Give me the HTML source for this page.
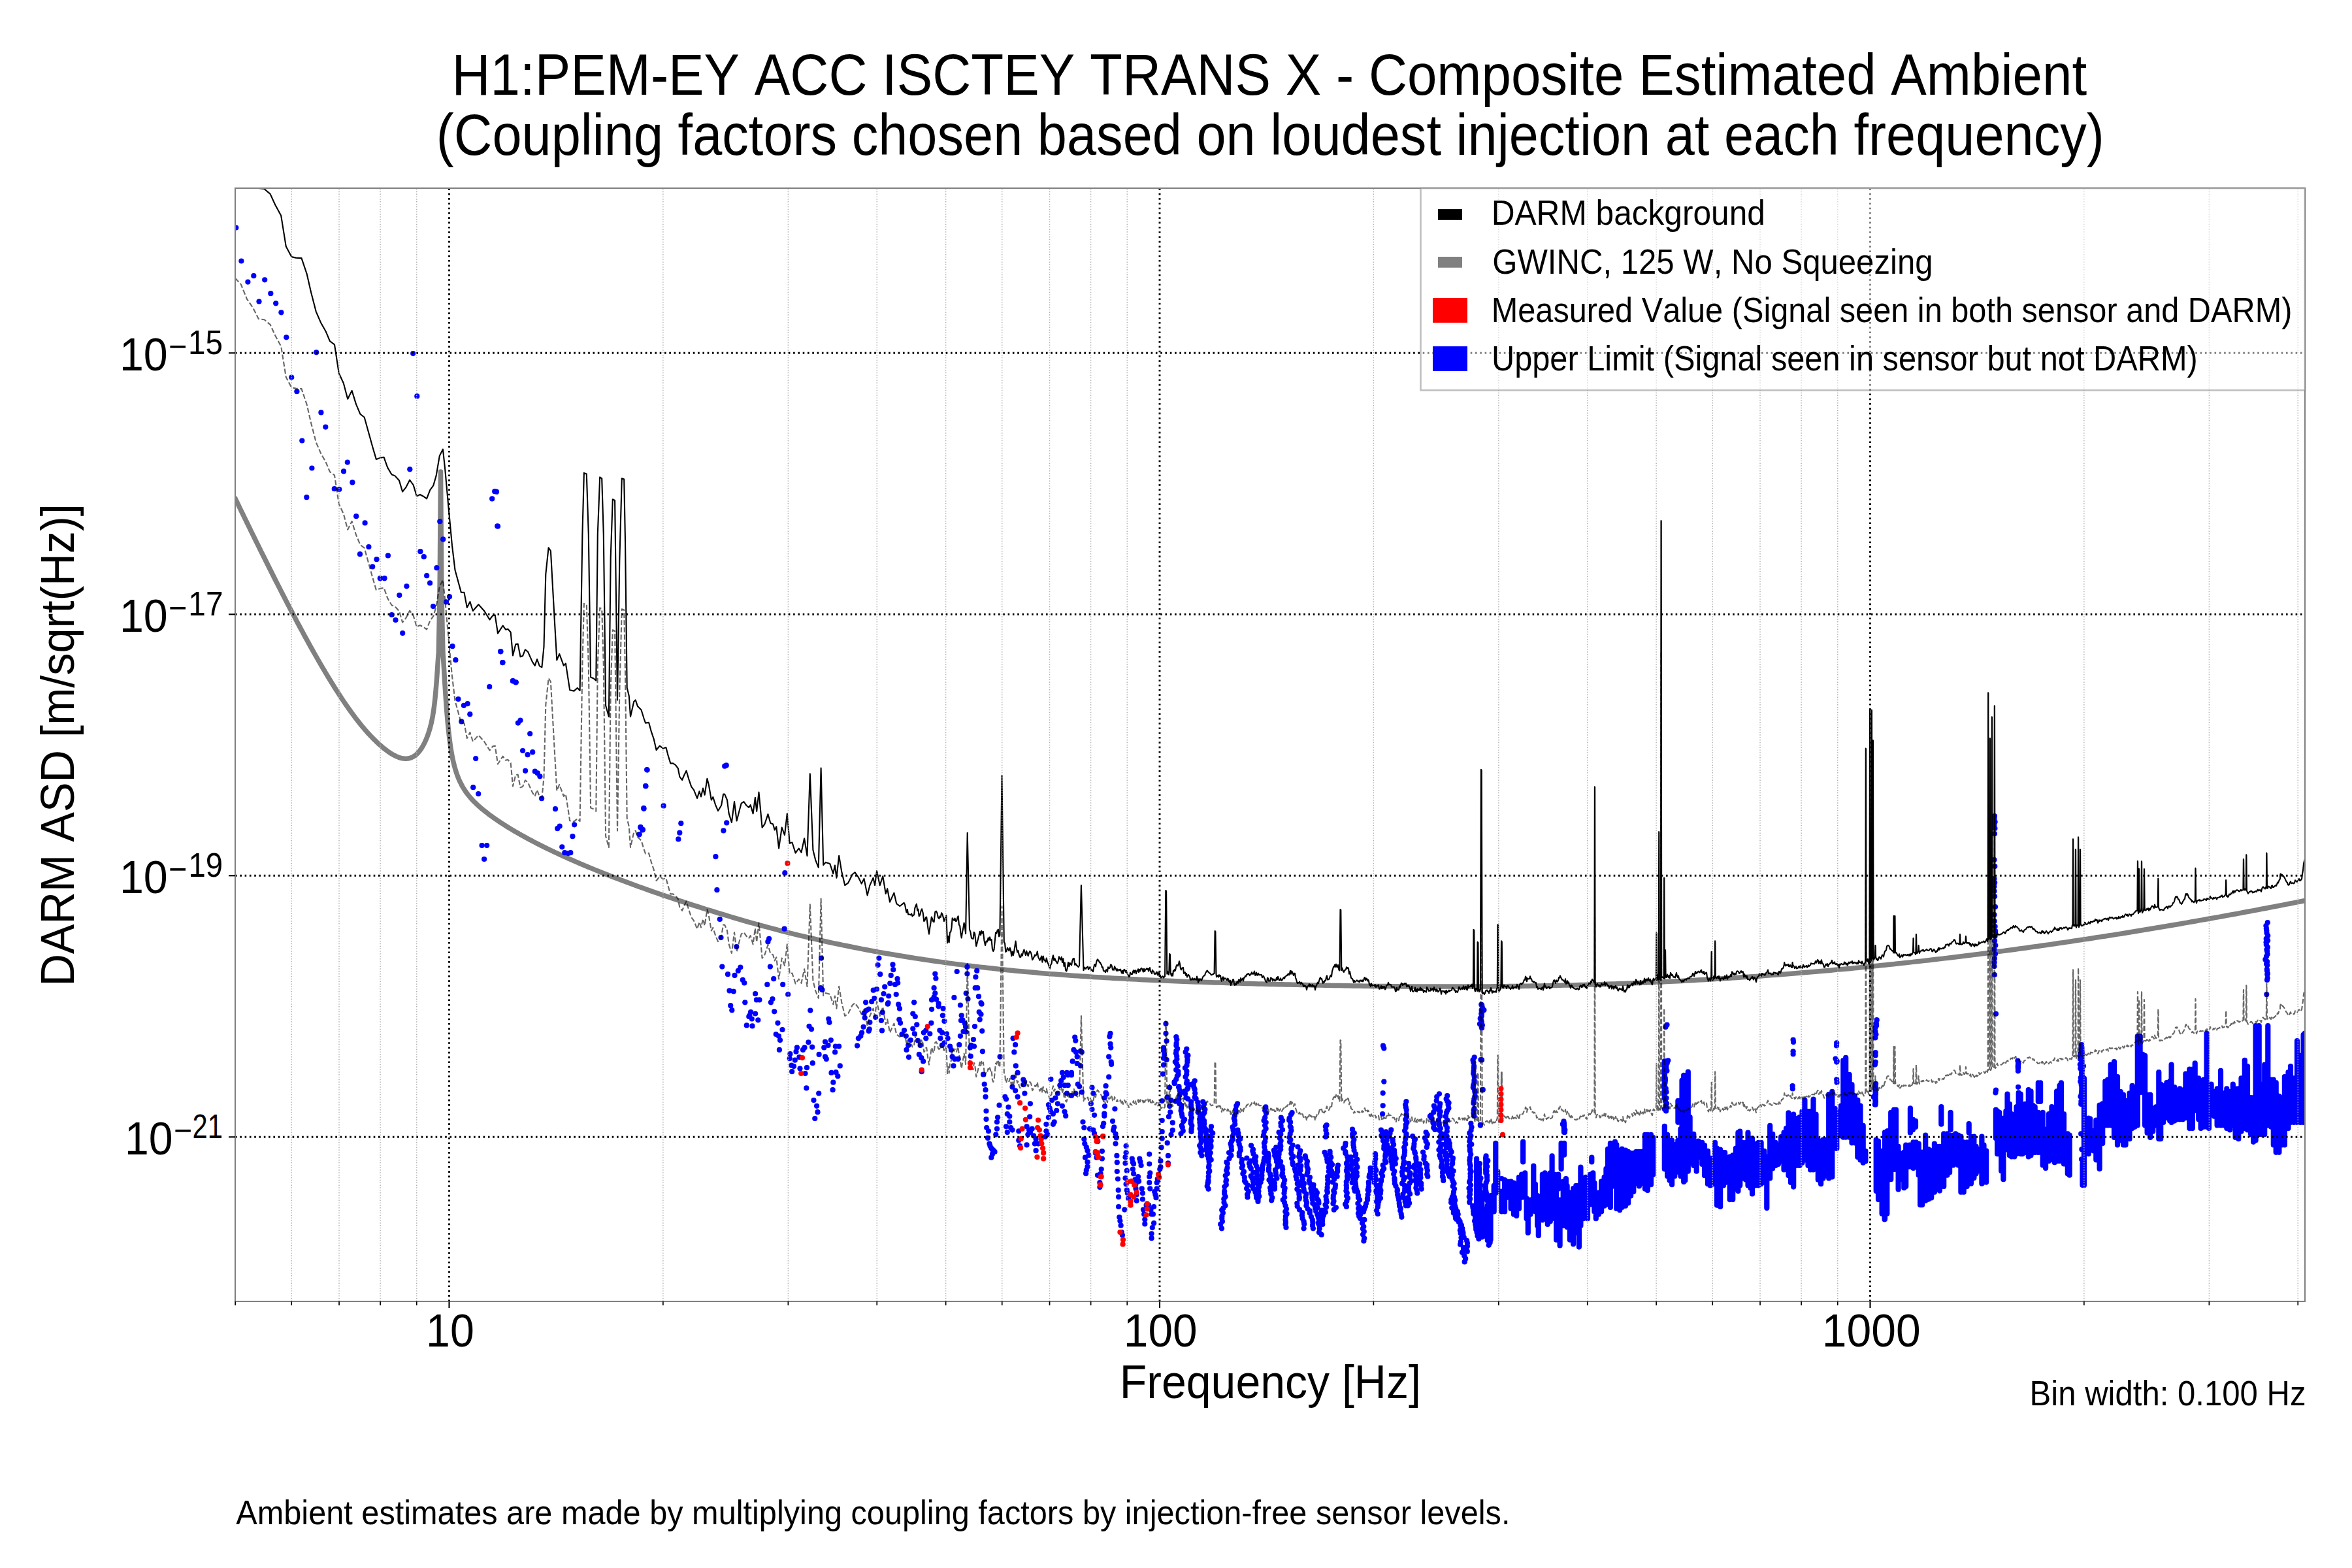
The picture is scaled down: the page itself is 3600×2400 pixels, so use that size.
<!DOCTYPE html><html><head><meta charset="utf-8"><title>H1:PEM-EY ACC ISCTEY TRANS X - Composite Estimated Ambient</title>
<style>html,body{margin:0;padding:0;background:#fff;overflow:hidden}svg{display:block;font-kerning:none}</style></head><body>
<svg width="3600" height="2400" viewBox="0 0 3600 2400" font-family="'Liberation Sans', Arial, Helvetica, sans-serif">
<rect width="3600" height="2400" fill="#fff"/>
<clipPath id="ax"><rect x="360" y="288" width="3168" height="1704"/></clipPath>
<g clip-path="url(#ax)">
<path d="M360.0,762.9 L362.0,767.1 L364.0,771.2 L366.0,775.3 L368.0,779.5 L370.0,783.6 L372.0,787.7 L374.0,791.8 L376.0,795.9 L378.0,800.0 L380.0,804.1 L382.0,808.2 L384.0,812.3 L386.0,816.4 L388.0,820.4 L390.0,824.5 L392.0,828.6 L394.0,832.6 L396.0,836.7 L398.0,840.7 L400.0,844.8 L402.0,848.8 L404.0,852.8 L406.0,856.8 L408.0,860.8 L410.0,864.8 L412.0,868.8 L414.0,872.8 L416.0,876.8 L418.0,880.8 L420.0,884.7 L422.0,888.7 L424.0,892.6 L426.0,896.5 L428.0,900.4 L430.0,904.4 L432.0,908.3 L434.0,912.1 L436.0,916.0 L438.0,919.9 L440.0,923.7 L442.0,927.6 L444.0,931.4 L446.0,935.2 L448.0,939.1 L450.0,942.8 L452.0,946.6 L454.0,950.4 L456.0,954.2 L458.0,957.9 L460.0,961.6 L462.0,965.3 L464.0,969.0 L466.0,972.7 L468.0,976.4 L470.0,980.0 L472.0,983.6 L474.0,987.3 L476.0,990.8 L478.0,994.4 L480.0,998.0 L482.0,1001.5 L484.0,1005.0 L486.0,1008.5 L488.0,1012.0 L490.0,1015.5 L492.0,1018.9 L494.0,1022.3 L496.0,1025.7 L498.0,1029.1 L500.0,1032.4 L502.0,1035.7 L504.0,1039.0 L506.0,1042.3 L508.0,1045.5 L510.0,1048.8 L512.0,1052.0 L514.0,1055.1 L516.0,1058.2 L518.0,1061.3 L520.0,1064.4 L522.0,1067.5 L524.0,1070.5 L526.0,1073.5 L528.0,1076.4 L530.0,1079.3 L532.0,1082.2 L534.0,1085.0 L536.0,1087.8 L538.0,1090.6 L540.0,1093.3 L542.0,1096.0 L544.0,1098.7 L546.0,1101.3 L548.0,1103.9 L550.0,1106.4 L552.0,1108.9 L554.0,1111.3 L556.0,1113.7 L558.0,1116.1 L560.0,1118.4 L562.0,1120.7 L564.0,1122.9 L566.0,1125.0 L568.0,1127.2 L570.0,1129.2 L572.0,1131.3 L574.0,1133.2 L576.0,1135.2 L578.0,1137.1 L580.0,1138.9 L582.0,1140.7 L584.0,1142.4 L586.0,1144.1 L588.0,1145.7 L590.0,1147.3 L592.0,1148.8 L594.0,1150.3 L596.0,1151.6 L598.0,1153.0 L600.0,1154.2 L602.0,1155.4 L604.0,1156.4 L606.0,1157.4 L608.0,1158.3 L610.0,1159.1 L612.0,1159.8 L614.0,1160.3 L616.0,1160.8 L618.0,1161.1 L620.0,1161.2 L622.0,1161.2 L624.0,1161.1 L626.0,1160.7 L628.0,1160.2 L630.0,1159.5 L632.0,1158.5 L634.0,1157.3 L636.0,1155.9 L638.0,1154.2 L640.0,1152.1 L642.0,1149.8 L644.0,1147.1 L646.0,1144.0 L648.0,1140.5 L650.0,1136.6 L652.0,1132.2 L654.0,1127.3 L656.0,1121.7 L658.0,1115.2 L660.0,1107.4 L660.5,1105.2 L661.0,1102.8 L661.5,1100.3 L662.0,1097.7 L662.5,1094.9 L663.0,1091.9 L663.5,1088.7 L664.0,1085.2 L664.5,1081.4 L665.0,1077.4 L665.5,1073.0 L666.0,1068.3 L666.5,1063.2 L667.0,1057.7 L667.5,1051.9 L668.0,1045.7 L668.5,1039.0 L669.0,1032.0 L669.5,1024.7 L670.0,1017.1 L670.5,1009.5 L671.0,1002.3 L671.3,1000.0 L672.3,950.0 L673.2,891.0 L673.9,800.0 L674.5,722.0 L675.1,800.0 L675.8,891.0 L676.8,950.0 L678.0,1000.0 L678.5,1006.6 L679.0,1014.6 L679.5,1023.0 L680.0,1031.5 L680.5,1040.0 L681.0,1048.2 L681.5,1056.1 L682.0,1063.7 L682.5,1071.0 L683.0,1078.0 L683.5,1084.6 L684.0,1090.9 L684.5,1096.8 L685.0,1102.5 L685.5,1107.9 L686.0,1113.0 L686.5,1117.8 L687.0,1122.4 L687.5,1126.7 L688.0,1130.9 L688.5,1134.8 L689.0,1138.5 L689.5,1142.0 L690.0,1145.3 L690.5,1148.5 L691.0,1151.4 L691.5,1154.3 L692.0,1156.9 L692.5,1159.5 L693.0,1161.9 L693.5,1164.2 L694.0,1166.4 L694.5,1168.5 L695.0,1170.5 L695.5,1172.5 L696.0,1174.3 L696.5,1176.1 L697.0,1177.8 L697.5,1179.4 L698.0,1181.0 L698.5,1182.6 L699.0,1184.0 L699.5,1185.5 L700.0,1186.8 L702.0,1191.9 L704.0,1196.4 L706.0,1200.4 L708.0,1204.1 L710.0,1207.4 L712.0,1210.5 L714.0,1213.4 L716.0,1216.0 L718.0,1218.5 L720.0,1220.9 L722.0,1223.2 L724.0,1225.3 L726.0,1227.4 L728.0,1229.3 L730.0,1231.2 L732.0,1233.1 L734.0,1234.8 L736.0,1236.6 L738.0,1238.3 L740.0,1239.9 L742.0,1241.5 L744.0,1243.1 L746.0,1244.6 L748.0,1246.2 L750.0,1247.7 L752.0,1249.1 L754.0,1250.6 L756.0,1252.0 L758.0,1253.4 L760.0,1254.8 L762.0,1256.1 L764.0,1257.5 L766.0,1258.8 L768.0,1260.1 L770.0,1261.4 L772.0,1262.7 L774.0,1264.0 L776.0,1265.2 L778.0,1266.5 L780.0,1267.7 L782.0,1268.9 L784.0,1270.1 L786.0,1271.3 L788.0,1272.5 L790.0,1273.6 L792.0,1274.8 L794.0,1275.9 L796.0,1277.1 L798.0,1278.2 L800.0,1279.3 L802.0,1280.4 L804.0,1281.5 L806.0,1282.6 L808.0,1283.7 L810.0,1284.8 L812.0,1285.8 L814.0,1286.9 L816.0,1288.0 L818.0,1289.0 L820.0,1290.0 L822.0,1291.1 L824.0,1292.1 L826.0,1293.1 L828.0,1294.1 L830.0,1295.1 L832.0,1296.1 L834.0,1297.1 L836.0,1298.1 L838.0,1299.1 L840.0,1300.0 L842.0,1301.0 L844.0,1302.0 L846.0,1302.9 L848.0,1303.9 L850.0,1304.8 L852.0,1305.7 L854.0,1306.7 L856.0,1307.6 L858.0,1308.5 L860.0,1309.5 L862.0,1310.4 L864.0,1311.3 L866.0,1312.2 L868.0,1313.1 L870.0,1314.0 L872.0,1314.9 L874.0,1315.8 L876.0,1316.6 L878.0,1317.5 L880.0,1318.4 L882.0,1319.3 L884.0,1320.1 L886.0,1321.0 L888.0,1321.9 L890.0,1322.7 L892.0,1323.6 L894.0,1324.4 L896.0,1325.3 L898.0,1326.1 L900.0,1326.9 L906.0,1329.4 L912.0,1331.9 L918.0,1334.3 L924.0,1336.7 L930.0,1339.1 L936.0,1341.4 L942.0,1343.8 L948.0,1346.0 L954.0,1348.3 L960.0,1350.6 L966.0,1352.8 L972.0,1355.0 L978.0,1357.2 L984.0,1359.3 L990.0,1361.5 L996.0,1363.6 L1002.0,1365.7 L1008.0,1367.8 L1014.0,1369.9 L1020.0,1371.9 L1026.0,1373.9 L1032.0,1376.0 L1038.0,1378.0 L1044.0,1379.9 L1050.0,1381.9 L1056.0,1383.9 L1062.0,1385.8 L1068.0,1387.7 L1074.0,1389.6 L1080.0,1391.5 L1086.0,1393.4 L1092.0,1395.2 L1098.0,1397.1 L1104.0,1398.9 L1110.0,1400.7 L1116.0,1402.5 L1122.0,1404.3 L1128.0,1406.1 L1134.0,1407.8 L1140.0,1409.6 L1146.0,1411.3 L1152.0,1413.0 L1158.0,1414.6 L1164.0,1416.3 L1170.0,1417.9 L1176.0,1419.5 L1182.0,1421.1 L1188.0,1422.7 L1194.0,1424.3 L1200.0,1425.8 L1206.0,1427.3 L1212.0,1428.8 L1218.0,1430.3 L1224.0,1431.8 L1230.0,1433.2 L1236.0,1434.6 L1242.0,1436.0 L1248.0,1437.4 L1254.0,1438.8 L1260.0,1440.1 L1266.0,1441.5 L1272.0,1442.8 L1278.0,1444.1 L1284.0,1445.3 L1290.0,1446.6 L1296.0,1447.8 L1302.0,1449.0 L1308.0,1450.2 L1314.0,1451.4 L1320.0,1452.6 L1326.0,1453.7 L1332.0,1454.9 L1338.0,1456.0 L1344.0,1457.1 L1350.0,1458.2 L1356.0,1459.2 L1362.0,1460.3 L1368.0,1461.3 L1374.0,1462.3 L1380.0,1463.3 L1386.0,1464.3 L1392.0,1465.2 L1398.0,1466.2 L1404.0,1467.1 L1410.0,1468.0 L1416.0,1469.0 L1422.0,1469.8 L1428.0,1470.7 L1434.0,1471.6 L1440.0,1472.4 L1446.0,1473.2 L1452.0,1474.1 L1458.0,1474.9 L1464.0,1475.7 L1470.0,1476.4 L1476.0,1477.2 L1482.0,1477.9 L1488.0,1478.7 L1494.0,1479.4 L1500.0,1480.1 L1506.0,1480.8 L1512.0,1481.5 L1518.0,1482.1 L1524.0,1482.8 L1530.0,1483.4 L1536.0,1484.0 L1542.0,1484.7 L1548.0,1485.3 L1554.0,1485.9 L1560.0,1486.4 L1566.0,1487.0 L1572.0,1487.6 L1578.0,1488.1 L1584.0,1488.6 L1590.0,1489.2 L1596.0,1489.7 L1602.0,1490.2 L1608.0,1490.7 L1614.0,1491.1 L1620.0,1491.6 L1626.0,1492.1 L1632.0,1492.5 L1638.0,1492.9 L1644.0,1493.4 L1650.0,1493.8 L1656.0,1494.2 L1662.0,1494.6 L1668.0,1495.0 L1674.0,1495.4 L1680.0,1495.7 L1686.0,1496.1 L1692.0,1496.5 L1698.0,1496.8 L1704.0,1497.2 L1710.0,1497.5 L1716.0,1497.8 L1722.0,1498.1 L1728.0,1498.5 L1734.0,1498.8 L1740.0,1499.1 L1746.0,1499.4 L1752.0,1499.7 L1758.0,1499.9 L1764.0,1500.2 L1770.0,1500.5 L1776.0,1500.7 L1782.0,1501.0 L1788.0,1501.3 L1794.0,1501.5 L1800.0,1501.8 L1806.0,1502.0 L1812.0,1502.2 L1818.0,1502.5 L1824.0,1502.7 L1830.0,1502.9 L1836.0,1503.1 L1842.0,1503.3 L1848.0,1503.5 L1854.0,1503.7 L1860.0,1503.9 L1866.0,1504.1 L1872.0,1504.3 L1878.0,1504.5 L1884.0,1504.7 L1890.0,1504.9 L1896.0,1505.1 L1902.0,1505.2 L1908.0,1505.4 L1914.0,1505.6 L1920.0,1505.7 L1926.0,1505.9 L1932.0,1506.0 L1938.0,1506.2 L1944.0,1506.4 L1950.0,1506.5 L1956.0,1506.7 L1962.0,1506.8 L1968.0,1506.9 L1974.0,1507.1 L1980.0,1507.2 L1986.0,1507.3 L1992.0,1507.5 L1998.0,1507.6 L2004.0,1507.7 L2010.0,1507.9 L2016.0,1508.0 L2022.0,1508.1 L2028.0,1508.2 L2034.0,1508.3 L2040.0,1508.4 L2046.0,1508.5 L2052.0,1508.6 L2058.0,1508.7 L2064.0,1508.8 L2070.0,1508.9 L2076.0,1509.0 L2082.0,1509.1 L2088.0,1509.2 L2094.0,1509.3 L2100.0,1509.4 L2106.0,1509.4 L2112.0,1509.5 L2118.0,1509.6 L2124.0,1509.6 L2130.0,1509.7 L2136.0,1509.8 L2142.0,1509.8 L2148.0,1509.9 L2154.0,1509.9 L2160.0,1509.9 L2166.0,1510.0 L2172.0,1510.0 L2178.0,1510.0 L2184.0,1510.1 L2190.0,1510.1 L2196.0,1510.1 L2202.0,1510.1 L2208.0,1510.1 L2214.0,1510.1 L2220.0,1510.1 L2226.0,1510.1 L2232.0,1510.1 L2238.0,1510.1 L2244.0,1510.1 L2250.0,1510.1 L2256.0,1510.0 L2262.0,1510.0 L2268.0,1510.0 L2274.0,1509.9 L2280.0,1509.9 L2286.0,1509.8 L2292.0,1509.8 L2298.0,1509.7 L2304.0,1509.7 L2310.0,1509.6 L2316.0,1509.5 L2322.0,1509.5 L2328.0,1509.4 L2334.0,1509.3 L2340.0,1509.2 L2346.0,1509.1 L2352.0,1509.0 L2358.0,1508.9 L2364.0,1508.8 L2370.0,1508.7 L2376.0,1508.5 L2382.0,1508.4 L2388.0,1508.3 L2394.0,1508.1 L2400.0,1508.0 L2406.0,1507.9 L2412.0,1507.7 L2418.0,1507.5 L2424.0,1507.4 L2430.0,1507.2 L2436.0,1507.0 L2442.0,1506.9 L2448.0,1506.7 L2454.0,1506.5 L2460.0,1506.3 L2466.0,1506.1 L2472.0,1505.9 L2478.0,1505.6 L2484.0,1505.4 L2490.0,1505.2 L2496.0,1505.0 L2502.0,1504.7 L2508.0,1504.5 L2514.0,1504.2 L2520.0,1504.0 L2526.0,1503.7 L2532.0,1503.4 L2538.0,1503.2 L2544.0,1502.9 L2550.0,1502.6 L2556.0,1502.3 L2562.0,1502.0 L2568.0,1501.7 L2574.0,1501.4 L2580.0,1501.1 L2586.0,1500.8 L2592.0,1500.4 L2598.0,1500.1 L2604.0,1499.8 L2610.0,1499.4 L2616.0,1499.1 L2622.0,1498.7 L2628.0,1498.3 L2634.0,1498.0 L2640.0,1497.6 L2646.0,1497.2 L2652.0,1496.8 L2658.0,1496.4 L2664.0,1496.0 L2670.0,1495.6 L2676.0,1495.2 L2682.0,1494.8 L2688.0,1494.4 L2694.0,1493.9 L2700.0,1493.5 L2706.0,1493.1 L2712.0,1492.6 L2718.0,1492.2 L2724.0,1491.7 L2730.0,1491.2 L2736.0,1490.8 L2742.0,1490.3 L2748.0,1489.8 L2754.0,1489.3 L2760.0,1488.8 L2766.0,1488.3 L2772.0,1487.8 L2778.0,1487.3 L2784.0,1486.8 L2790.0,1486.2 L2796.0,1485.7 L2802.0,1485.2 L2808.0,1484.6 L2814.0,1484.1 L2820.0,1483.5 L2826.0,1482.9 L2832.0,1482.4 L2838.0,1481.8 L2844.0,1481.2 L2850.0,1480.6 L2856.0,1480.0 L2862.0,1479.4 L2868.0,1478.8 L2874.0,1478.2 L2880.0,1477.6 L2886.0,1477.0 L2892.0,1476.3 L2898.0,1475.7 L2904.0,1475.1 L2910.0,1474.4 L2916.0,1473.8 L2922.0,1473.1 L2928.0,1472.4 L2934.0,1471.8 L2940.0,1471.1 L2946.0,1470.4 L2952.0,1469.7 L2958.0,1469.0 L2964.0,1468.3 L2970.0,1467.6 L2976.0,1466.9 L2982.0,1466.2 L2988.0,1465.5 L2994.0,1464.8 L3000.0,1464.0 L3006.0,1463.3 L3012.0,1462.5 L3018.0,1461.8 L3024.0,1461.0 L3030.0,1460.3 L3036.0,1459.5 L3042.0,1458.7 L3048.0,1457.9 L3054.0,1457.2 L3060.0,1456.4 L3066.0,1455.6 L3072.0,1454.8 L3078.0,1454.0 L3084.0,1453.2 L3090.0,1452.3 L3096.0,1451.5 L3102.0,1450.7 L3108.0,1449.8 L3114.0,1449.0 L3120.0,1448.2 L3126.0,1447.3 L3132.0,1446.5 L3138.0,1445.6 L3144.0,1444.7 L3150.0,1443.8 L3156.0,1443.0 L3162.0,1442.1 L3168.0,1441.2 L3174.0,1440.3 L3180.0,1439.4 L3186.0,1438.5 L3192.0,1437.6 L3198.0,1436.7 L3204.0,1435.7 L3210.0,1434.8 L3216.0,1433.9 L3222.0,1433.0 L3228.0,1432.0 L3234.0,1431.1 L3240.0,1430.1 L3246.0,1429.2 L3252.0,1428.2 L3258.0,1427.2 L3264.0,1426.2 L3270.0,1425.3 L3276.0,1424.3 L3282.0,1423.3 L3288.0,1422.3 L3294.0,1421.3 L3300.0,1420.3 L3306.0,1419.3 L3312.0,1418.3 L3318.0,1417.3 L3324.0,1416.2 L3330.0,1415.2 L3336.0,1414.2 L3342.0,1413.1 L3348.0,1412.1 L3354.0,1411.0 L3360.0,1410.0 L3366.0,1408.9 L3372.0,1407.9 L3378.0,1406.8 L3384.0,1405.7 L3390.0,1404.6 L3396.0,1403.6 L3402.0,1402.5 L3408.0,1401.4 L3414.0,1400.3 L3420.0,1399.2 L3426.0,1398.1 L3432.0,1397.0 L3438.0,1395.8 L3444.0,1394.7 L3450.0,1393.6 L3456.0,1392.5 L3462.0,1391.3 L3468.0,1390.2 L3474.0,1389.0 L3480.0,1387.9 L3486.0,1386.7 L3492.0,1385.6 L3498.0,1384.4 L3504.0,1383.2 L3510.0,1382.1 L3516.0,1380.9 L3522.0,1379.7 L3528.0,1378.5" fill="none" stroke="#808080" stroke-width="7.5" stroke-linecap="round" stroke-linejoin="round"/>
<g fill="#0000ff"><circle cx="361.3" cy="348.5" r="4.1"/><circle cx="369.4" cy="399.5" r="4.1"/><circle cx="379.4" cy="431.6" r="4.1"/><circle cx="388.3" cy="422.2" r="4.1"/><circle cx="396.5" cy="461.5" r="4.1"/><circle cx="405.2" cy="428.3" r="4.1"/><circle cx="414.3" cy="449.2" r="4.1"/><circle cx="422.2" cy="464.3" r="4.1"/><circle cx="430.4" cy="478.3" r="4.1"/><circle cx="438.3" cy="516.3" r="4.1"/><circle cx="446.2" cy="577.5" r="4.1"/><circle cx="454.4" cy="599.2" r="4.1"/><circle cx="484.2" cy="539.3" r="4.1"/><circle cx="491.4" cy="631.4" r="4.1"/><circle cx="498.3" cy="653.6" r="4.1"/><circle cx="462.3" cy="674.5" r="4.1"/><circle cx="632.2" cy="541.1" r="4.1"/><circle cx="638.3" cy="606.4" r="4.1"/><circle cx="760.0" cy="752.7" r="4.1"/><circle cx="762.0" cy="805.5" r="4.1"/><circle cx="766.4" cy="997.3" r="4.1"/><circle cx="769.4" cy="1014.2" r="4.1"/><circle cx="785.0" cy="1042.2" r="4.1"/><circle cx="789.8" cy="1044.3" r="4.1"/><circle cx="3052.9" cy="1249.0" r="4.1"/><circle cx="3052.6" cy="1253.0" r="4.1"/><circle cx="3053.6" cy="1258.0" r="4.1"/><circle cx="3052.4" cy="1263.0" r="4.1"/><circle cx="3053.4" cy="1268.0" r="4.1"/><circle cx="3053.0" cy="1276.0" r="4.1"/><circle cx="3052.4" cy="1316.0" r="4.1"/><circle cx="3053.3" cy="1326.0" r="4.1"/><circle cx="3052.4" cy="1345.0" r="4.1"/><circle cx="3053.2" cy="1351.0" r="4.1"/><circle cx="3052.4" cy="1357.0" r="4.1"/><circle cx="3052.5" cy="1364.0" r="4.1"/><circle cx="3053.1" cy="1372.0" r="4.1"/><circle cx="3054.0" cy="1388.0" r="4.1"/><circle cx="3052.5" cy="1400.0" r="4.1"/><circle cx="3052.7" cy="1410.0" r="4.1"/><circle cx="3053.6" cy="1418.0" r="4.1"/><circle cx="3054.2" cy="1425.0" r="4.1"/><circle cx="3053.5" cy="1433.0" r="4.1"/><circle cx="3053.1" cy="1440.0" r="4.1"/><circle cx="3054.3" cy="1447.0" r="4.1"/><circle cx="3052.4" cy="1453.0" r="4.1"/><circle cx="3054.0" cy="1460.0" r="4.1"/><circle cx="3052.9" cy="1467.0" r="4.1"/><circle cx="3052.6" cy="1473.0" r="4.1"/><circle cx="3052.5" cy="1479.0" r="4.1"/><circle cx="3052.9" cy="1492.0" r="4.1"/><circle cx="477.4" cy="716.5" r="4.1"/><circle cx="469.3" cy="761.1" r="4.1"/><circle cx="531.8" cy="707.6" r="4.1"/><circle cx="526.0" cy="721.4" r="4.1"/><circle cx="539.4" cy="738.4" r="4.1"/><circle cx="511.7" cy="748.2" r="4.1"/><circle cx="519.3" cy="749.1" r="4.1"/><circle cx="545.2" cy="790.2" r="4.1"/><circle cx="558.6" cy="800.4" r="4.1"/><circle cx="564.4" cy="837.0" r="4.1"/><circle cx="551.0" cy="848.2" r="4.1"/><circle cx="576.5" cy="856.2" r="4.1"/><circle cx="570.2" cy="867.4" r="4.1"/><circle cx="593.9" cy="850.4" r="4.1"/><circle cx="581.8" cy="885.2" r="4.1"/><circle cx="588.5" cy="885.2" r="4.1"/><circle cx="622.4" cy="897.3" r="4.1"/><circle cx="611.3" cy="911.1" r="4.1"/><circle cx="599.7" cy="941.0" r="4.1"/><circle cx="605.5" cy="949.0" r="4.1"/><circle cx="616.2" cy="969.1" r="4.1"/><circle cx="627.3" cy="718.3" r="4.1"/><circle cx="643.4" cy="844.2" r="4.1"/><circle cx="648.8" cy="852.2" r="4.1"/><circle cx="653.2" cy="881.2" r="4.1"/><circle cx="658.1" cy="892.4" r="4.1"/><circle cx="668.4" cy="869.2" r="4.1"/><circle cx="663.0" cy="928.1" r="4.1"/><circle cx="673.3" cy="798.2" r="4.1"/><circle cx="678.2" cy="825.4" r="4.1"/><circle cx="688.0" cy="913.3" r="4.1"/><circle cx="683.1" cy="921.4" r="4.1"/><circle cx="692.5" cy="989.2" r="4.1"/><circle cx="697.4" cy="1010.2" r="4.1"/><circle cx="701.4" cy="1070.0" r="4.1"/><circle cx="709.9" cy="1079.8" r="4.1"/><circle cx="715.7" cy="1077.1" r="4.1"/><circle cx="719.3" cy="1093.2" r="4.1"/><circle cx="706.3" cy="1104.4" r="4.1"/><circle cx="728.2" cy="1161.0" r="4.1"/><circle cx="724.2" cy="1205.2" r="4.1"/><circle cx="732.2" cy="1215.0" r="4.1"/><circle cx="737.6" cy="1294.0" r="4.1"/><circle cx="745.2" cy="1294.0" r="4.1"/><circle cx="741.1" cy="1315.0" r="4.1"/><circle cx="749.2" cy="1051.2" r="4.1"/><circle cx="753.2" cy="763.4" r="4.1"/><circle cx="757.2" cy="752.2" r="4.1"/><circle cx="761.2" cy="805.3" r="4.1"/><circle cx="766.1" cy="997.2" r="4.1"/><circle cx="769.3" cy="1014.2" r="4.1"/><circle cx="784.9" cy="1042.3" r="4.1"/><circle cx="789.3" cy="1044.6" r="4.1"/><circle cx="792.9" cy="1106.6" r="4.1"/><circle cx="796.5" cy="1102.6" r="4.1"/><circle cx="811.2" cy="1123.1" r="4.1"/><circle cx="800.1" cy="1149.0" r="4.1"/><circle cx="807.6" cy="1155.2" r="4.1"/><circle cx="815.2" cy="1151.2" r="4.1"/><circle cx="804.1" cy="1179.8" r="4.1"/><circle cx="818.8" cy="1180.7" r="4.1"/><circle cx="822.8" cy="1183.4" r="4.1"/><circle cx="826.4" cy="1188.3" r="4.1"/><circle cx="829.1" cy="1222.2" r="4.1"/><circle cx="850.0" cy="1238.2" r="4.1"/><circle cx="853.2" cy="1268.2" r="4.1"/><circle cx="856.7" cy="1264.6" r="4.1"/><circle cx="879.1" cy="1262.3" r="4.1"/><circle cx="876.4" cy="1280.2" r="4.1"/><circle cx="860.3" cy="1296.3" r="4.1"/><circle cx="864.3" cy="1305.2" r="4.1"/><circle cx="869.7" cy="1306.1" r="4.1"/><circle cx="873.3" cy="1305.2" r="4.1"/><circle cx="978.6" cy="1277.1" r="4.1"/><circle cx="980.4" cy="1265.9" r="4.1"/><circle cx="983.9" cy="1269.9" r="4.1"/><circle cx="985.3" cy="1236.9" r="4.1"/><circle cx="988.0" cy="1203.0" r="4.1"/><circle cx="990.2" cy="1178.0" r="4.1"/><circle cx="990.6" cy="1178.6" r="4.1"/><circle cx="988.5" cy="1203.3" r="4.1"/><circle cx="985.5" cy="1237.8" r="4.1"/><circle cx="980.4" cy="1266.6" r="4.1"/><circle cx="983.4" cy="1270.4" r="4.1"/><circle cx="978.3" cy="1277.3" r="4.1"/><circle cx="1015.6" cy="1233.4" r="4.1"/><circle cx="1042.3" cy="1260.2" r="4.1"/><circle cx="1040.3" cy="1274.7" r="4.1"/><circle cx="1038.3" cy="1284.4" r="4.1"/><circle cx="1109.2" cy="1172.7" r="4.1"/><circle cx="1111.7" cy="1171.4" r="4.1"/><circle cx="1112.2" cy="1259.4" r="4.1"/><circle cx="1107.4" cy="1271.4" r="4.1"/><circle cx="1095.4" cy="1311.2" r="4.1"/><circle cx="1097.4" cy="1362.2" r="4.1"/><circle cx="1201.3" cy="1336.2" r="4.1"/><circle cx="1101.8" cy="1407.0" r="4.1"/><circle cx="1103.5" cy="1435.1" r="4.1"/><circle cx="1127.3" cy="1449.1" r="4.1"/><circle cx="1177.1" cy="1436.8" r="4.1"/><circle cx="1175.4" cy="1441.4" r="4.1"/><circle cx="1200.6" cy="1421.7" r="4.1"/><circle cx="1105.3" cy="1479.6" r="4.1"/><circle cx="1114.0" cy="1491.2" r="4.1"/><circle cx="1124.5" cy="1492.9" r="4.1"/><circle cx="1129.8" cy="1485.9" r="4.1"/><circle cx="1133.3" cy="1480.6" r="4.1"/><circle cx="1136.8" cy="1499.9" r="4.1"/><circle cx="1139.3" cy="1504.5" r="4.1"/><circle cx="1116.5" cy="1516.4" r="4.1"/><circle cx="1122.8" cy="1517.5" r="4.1"/><circle cx="1118.2" cy="1539.2" r="4.1"/><circle cx="1120.3" cy="1546.2" r="4.1"/><circle cx="1140.3" cy="1534.3" r="4.1"/><circle cx="1156.1" cy="1521.0" r="4.1"/><circle cx="1157.9" cy="1530.4" r="4.1"/><circle cx="1162.4" cy="1530.4" r="4.1"/><circle cx="1149.1" cy="1549.0" r="4.1"/><circle cx="1156.1" cy="1551.5" r="4.1"/><circle cx="1146.3" cy="1556.0" r="4.1"/><circle cx="1150.8" cy="1559.5" r="4.1"/><circle cx="1160.3" cy="1561.3" r="4.1"/><circle cx="1142.8" cy="1569.4" r="4.1"/><circle cx="1151.5" cy="1570.4" r="4.1"/><circle cx="1147.3" cy="1554.3" r="4.1"/><circle cx="1178.9" cy="1479.6" r="4.1"/><circle cx="1184.2" cy="1498.2" r="4.1"/><circle cx="1174.3" cy="1506.9" r="4.1"/><circle cx="1198.2" cy="1506.9" r="4.1"/><circle cx="1206.2" cy="1522.0" r="4.1"/><circle cx="1182.4" cy="1529.0" r="4.1"/><circle cx="1179.9" cy="1534.3" r="4.1"/><circle cx="1185.2" cy="1548.3" r="4.1"/><circle cx="1190.5" cy="1565.8" r="4.1"/><circle cx="1197.5" cy="1576.0" r="4.1"/><circle cx="1187.7" cy="1583.0" r="4.1"/><circle cx="1191.9" cy="1585.8" r="4.1"/><circle cx="1194.0" cy="1592.1" r="4.1"/><circle cx="1192.9" cy="1606.9" r="4.1"/><circle cx="1257.1" cy="1466.6" r="4.1"/><circle cx="1256.0" cy="1512.2" r="4.1"/><circle cx="1258.5" cy="1515.0" r="4.1"/><circle cx="1240.3" cy="1546.6" r="4.1"/><circle cx="1268.3" cy="1559.5" r="4.1"/><circle cx="1269.4" cy="1564.8" r="4.1"/><circle cx="1238.5" cy="1570.8" r="4.1"/><circle cx="1242.0" cy="1575.3" r="4.1"/><circle cx="1237.4" cy="1595.3" r="4.1"/><circle cx="1219.9" cy="1603.4" r="4.1"/><circle cx="1231.5" cy="1603.4" r="4.1"/><circle cx="1229.0" cy="1606.9" r="4.1"/><circle cx="1243.1" cy="1602.7" r="4.1"/><circle cx="1218.5" cy="1609.7" r="4.1"/><circle cx="1209.4" cy="1613.2" r="4.1"/><circle cx="1208.7" cy="1620.2" r="4.1"/><circle cx="1216.8" cy="1622.7" r="4.1"/><circle cx="1223.4" cy="1618.1" r="4.1"/><circle cx="1211.5" cy="1630.7" r="4.1"/><circle cx="1215.0" cy="1632.1" r="4.1"/><circle cx="1212.2" cy="1640.2" r="4.1"/><circle cx="1224.5" cy="1635.6" r="4.1"/><circle cx="1235.0" cy="1634.2" r="4.1"/><circle cx="1232.5" cy="1643.0" r="4.1"/><circle cx="1243.8" cy="1627.2" r="4.1"/><circle cx="1253.6" cy="1613.9" r="4.1"/><circle cx="1263.0" cy="1594.6" r="4.1"/><circle cx="1271.8" cy="1592.1" r="4.1"/><circle cx="1261.3" cy="1603.4" r="4.1"/><circle cx="1267.6" cy="1599.9" r="4.1"/><circle cx="1263.0" cy="1617.4" r="4.1"/><circle cx="1264.8" cy="1620.9" r="4.1"/><circle cx="1278.8" cy="1601.6" r="4.1"/><circle cx="1284.1" cy="1601.6" r="4.1"/><circle cx="1278.1" cy="1610.4" r="4.1"/><circle cx="1285.8" cy="1631.4" r="4.1"/><circle cx="1272.5" cy="1641.9" r="4.1"/><circle cx="1279.5" cy="1641.2" r="4.1"/><circle cx="1282.3" cy="1647.2" r="4.1"/><circle cx="1275.3" cy="1656.7" r="4.1"/><circle cx="1274.6" cy="1668.2" r="4.1"/><circle cx="1234.3" cy="1665.4" r="4.1"/><circle cx="1253.2" cy="1673.5" r="4.1"/><circle cx="1245.5" cy="1684.0" r="4.1"/><circle cx="1250.1" cy="1692.8" r="4.1"/><circle cx="1251.5" cy="1702.2" r="4.1"/><circle cx="1247.3" cy="1712.1" r="4.1"/><circle cx="1345.4" cy="1466.6" r="4.1"/><circle cx="1343.7" cy="1477.1" r="4.1"/><circle cx="1347.2" cy="1491.2" r="4.1"/><circle cx="1366.5" cy="1476.4" r="4.1"/><circle cx="1367.2" cy="1484.2" r="4.1"/><circle cx="1363.7" cy="1492.9" r="4.1"/><circle cx="1373.5" cy="1498.2" r="4.1"/><circle cx="1374.2" cy="1504.5" r="4.1"/><circle cx="1370.0" cy="1506.9" r="4.1"/><circle cx="1362.3" cy="1505.2" r="4.1"/><circle cx="1354.2" cy="1510.4" r="4.1"/><circle cx="1341.9" cy="1514.0" r="4.1"/><circle cx="1336.7" cy="1515.7" r="4.1"/><circle cx="1352.5" cy="1521.0" r="4.1"/><circle cx="1360.2" cy="1524.5" r="4.1"/><circle cx="1371.7" cy="1522.0" r="4.1"/><circle cx="1348.9" cy="1530.4" r="4.1"/><circle cx="1338.4" cy="1528.0" r="4.1"/><circle cx="1334.2" cy="1533.2" r="4.1"/><circle cx="1325.1" cy="1534.3" r="4.1"/><circle cx="1359.5" cy="1535.0" r="4.1"/><circle cx="1358.8" cy="1536.7" r="4.1"/><circle cx="1375.2" cy="1537.4" r="4.1"/><circle cx="1377.0" cy="1543.8" r="4.1"/><circle cx="1329.7" cy="1544.5" r="4.1"/><circle cx="1326.2" cy="1546.6" r="4.1"/><circle cx="1322.7" cy="1550.8" r="4.1"/><circle cx="1350.7" cy="1549.7" r="4.1"/><circle cx="1340.2" cy="1557.1" r="4.1"/><circle cx="1348.9" cy="1562.0" r="4.1"/><circle cx="1323.7" cy="1557.8" r="4.1"/><circle cx="1331.4" cy="1564.8" r="4.1"/><circle cx="1321.6" cy="1571.8" r="4.1"/><circle cx="1330.7" cy="1575.3" r="4.1"/><circle cx="1329.7" cy="1578.1" r="4.1"/><circle cx="1319.1" cy="1580.6" r="4.1"/><circle cx="1317.4" cy="1585.8" r="4.1"/><circle cx="1313.9" cy="1589.3" r="4.1"/><circle cx="1312.1" cy="1600.6" r="4.1"/><circle cx="1350.0" cy="1577.4" r="4.1"/><circle cx="1376.3" cy="1560.6" r="4.1"/><circle cx="1378.1" cy="1565.8" r="4.1"/><circle cx="1399.1" cy="1534.3" r="4.1"/><circle cx="1397.3" cy="1551.5" r="4.1"/><circle cx="1400.8" cy="1556.0" r="4.1"/><circle cx="1403.3" cy="1568.3" r="4.1"/><circle cx="1397.3" cy="1574.6" r="4.1"/><circle cx="1384.0" cy="1577.1" r="4.1"/><circle cx="1380.5" cy="1583.0" r="4.1"/><circle cx="1386.8" cy="1585.8" r="4.1"/><circle cx="1399.8" cy="1582.3" r="4.1"/><circle cx="1393.8" cy="1592.1" r="4.1"/><circle cx="1390.3" cy="1599.9" r="4.1"/><circle cx="1387.5" cy="1606.9" r="4.1"/><circle cx="1391.0" cy="1618.1" r="4.1"/><circle cx="1405.0" cy="1592.8" r="4.1"/><circle cx="1408.6" cy="1599.9" r="4.1"/><circle cx="1406.8" cy="1613.9" r="4.1"/><circle cx="1410.3" cy="1619.1" r="4.1"/><circle cx="1413.1" cy="1624.4" r="4.1"/><circle cx="1410.7" cy="1640.2" r="4.1"/><circle cx="1431.3" cy="1490.5" r="4.1"/><circle cx="1432.4" cy="1497.5" r="4.1"/><circle cx="1429.6" cy="1512.2" r="4.1"/><circle cx="1431.3" cy="1520.3" r="4.1"/><circle cx="1429.6" cy="1526.2" r="4.1"/><circle cx="1433.1" cy="1529.7" r="4.1"/><circle cx="1426.1" cy="1530.4" r="4.1"/><circle cx="1436.6" cy="1536.0" r="4.1"/><circle cx="1436.6" cy="1540.3" r="4.1"/><circle cx="1426.1" cy="1544.8" r="4.1"/><circle cx="1443.6" cy="1543.8" r="4.1"/><circle cx="1442.9" cy="1554.3" r="4.1"/><circle cx="1445.4" cy="1563.0" r="4.1"/><circle cx="1425.4" cy="1565.8" r="4.1"/><circle cx="1417.3" cy="1577.1" r="4.1"/><circle cx="1423.3" cy="1582.3" r="4.1"/><circle cx="1413.8" cy="1580.6" r="4.1"/><circle cx="1417.3" cy="1589.3" r="4.1"/><circle cx="1438.4" cy="1577.1" r="4.1"/><circle cx="1441.9" cy="1580.6" r="4.1"/><circle cx="1448.9" cy="1582.3" r="4.1"/><circle cx="1450.6" cy="1589.3" r="4.1"/><circle cx="1439.4" cy="1589.3" r="4.1"/><circle cx="1445.4" cy="1596.4" r="4.1"/><circle cx="1441.9" cy="1599.9" r="4.1"/><circle cx="1454.1" cy="1601.6" r="4.1"/><circle cx="1455.9" cy="1606.9" r="4.1"/><circle cx="1457.6" cy="1617.4" r="4.1"/><circle cx="1461.2" cy="1620.9" r="4.1"/><circle cx="1466.4" cy="1620.9" r="4.1"/><circle cx="1459.4" cy="1631.4" r="4.1"/><circle cx="1464.7" cy="1487.0" r="4.1"/><circle cx="1480.4" cy="1479.9" r="4.1"/><circle cx="1480.4" cy="1490.5" r="4.1"/><circle cx="1495.2" cy="1485.9" r="4.1"/><circle cx="1493.4" cy="1495.4" r="4.1"/><circle cx="1492.7" cy="1512.2" r="4.1"/><circle cx="1496.2" cy="1512.2" r="4.1"/><circle cx="1498.0" cy="1525.2" r="4.1"/><circle cx="1478.7" cy="1520.3" r="4.1"/><circle cx="1481.5" cy="1529.0" r="4.1"/><circle cx="1460.4" cy="1526.9" r="4.1"/><circle cx="1469.9" cy="1538.5" r="4.1"/><circle cx="1471.7" cy="1554.3" r="4.1"/><circle cx="1473.4" cy="1561.3" r="4.1"/><circle cx="1471.0" cy="1562.0" r="4.1"/><circle cx="1476.9" cy="1566.5" r="4.1"/><circle cx="1478.0" cy="1571.8" r="4.1"/><circle cx="1501.5" cy="1535.0" r="4.1"/><circle cx="1502.5" cy="1536.7" r="4.1"/><circle cx="1498.7" cy="1549.0" r="4.1"/><circle cx="1501.5" cy="1552.5" r="4.1"/><circle cx="1499.7" cy="1560.6" r="4.1"/><circle cx="1492.0" cy="1571.1" r="4.1"/><circle cx="1503.2" cy="1578.1" r="4.1"/><circle cx="1474.5" cy="1578.8" r="4.1"/><circle cx="1478.7" cy="1579.5" r="4.1"/><circle cx="1469.9" cy="1585.8" r="4.1"/><circle cx="1489.9" cy="1591.1" r="4.1"/><circle cx="1486.4" cy="1599.9" r="4.1"/><circle cx="1491.0" cy="1601.6" r="4.1"/><circle cx="1468.2" cy="1599.2" r="4.1"/><circle cx="1485.0" cy="1603.4" r="4.1"/><circle cx="1485.7" cy="1616.7" r="4.1"/><circle cx="1503.9" cy="1609.3" r="4.1"/><circle cx="1505.0" cy="1644.7" r="4.1"/><circle cx="1506.7" cy="1659.5" r="4.1"/><circle cx="1508.5" cy="1668.2" r="4.1"/><circle cx="1508.5" cy="1678.8" r="4.1"/><circle cx="1509.5" cy="1700.5" r="4.1"/><circle cx="1509.5" cy="1713.1" r="4.1"/><circle cx="1510.2" cy="1726.1" r="4.1"/><circle cx="1513.0" cy="1731.3" r="4.1"/><circle cx="1512.0" cy="1741.9" r="4.1"/><circle cx="1514.4" cy="1750.6" r="4.1"/><circle cx="1515.5" cy="1754.1" r="4.1"/><circle cx="1517.3" cy="1757.6" r="4.1"/><circle cx="1519.0" cy="1759.4" r="4.1"/><circle cx="1520.8" cy="1761.2" r="4.1"/><circle cx="1522.5" cy="1762.9" r="4.1"/><circle cx="1519.0" cy="1766.4" r="4.1"/><circle cx="1517.3" cy="1771.7" r="4.1"/><circle cx="1526.0" cy="1717.3" r="4.1"/><circle cx="1527.1" cy="1710.3" r="4.1"/><circle cx="1526.0" cy="1727.8" r="4.1"/><circle cx="1524.3" cy="1736.6" r="4.1"/><circle cx="1529.5" cy="1691.7" r="4.1"/><circle cx="1530.6" cy="1617.4" r="4.1"/><circle cx="1550.6" cy="1589.3" r="4.1"/><circle cx="1554.1" cy="1599.2" r="4.1"/><circle cx="1552.3" cy="1610.4" r="4.1"/><circle cx="1554.8" cy="1631.4" r="4.1"/><circle cx="1557.6" cy="1641.9" r="4.1"/><circle cx="1550.6" cy="1648.9" r="4.1"/><circle cx="1549.5" cy="1663.7" r="4.1"/><circle cx="1554.1" cy="1669.3" r="4.1"/><circle cx="1557.6" cy="1678.8" r="4.1"/><circle cx="1538.3" cy="1678.8" r="4.1"/><circle cx="1540.0" cy="1682.3" r="4.1"/><circle cx="1543.5" cy="1694.5" r="4.1"/><circle cx="1541.8" cy="1705.0" r="4.1"/><circle cx="1545.3" cy="1708.6" r="4.1"/><circle cx="1545.3" cy="1717.3" r="4.1"/><circle cx="1540.0" cy="1724.3" r="4.1"/><circle cx="1547.1" cy="1726.1" r="4.1"/><circle cx="1549.5" cy="1729.6" r="4.1"/><circle cx="1541.8" cy="1733.1" r="4.1"/><circle cx="1559.3" cy="1731.3" r="4.1"/><circle cx="1566.3" cy="1652.5" r="4.1"/><circle cx="1568.1" cy="1656.0" r="4.1"/><circle cx="1566.3" cy="1660.2" r="4.1"/><circle cx="1568.4" cy="1673.5" r="4.1"/><circle cx="1576.9" cy="1689.3" r="4.1"/><circle cx="1576.2" cy="1709.3" r="4.1"/><circle cx="1571.6" cy="1724.3" r="4.1"/><circle cx="1575.1" cy="1729.6" r="4.1"/><circle cx="1579.7" cy="1727.8" r="4.1"/><circle cx="1576.9" cy="1733.1" r="4.1"/><circle cx="1573.4" cy="1736.6" r="4.1"/><circle cx="1582.1" cy="1738.4" r="4.1"/><circle cx="1585.6" cy="1743.6" r="4.1"/><circle cx="1583.9" cy="1750.6" r="4.1"/><circle cx="1585.6" cy="1761.2" r="4.1"/><circle cx="1589.1" cy="1750.6" r="4.1"/><circle cx="1571.6" cy="1752.4" r="4.1"/><circle cx="1559.3" cy="1745.4" r="4.1"/><circle cx="1561.1" cy="1754.1" r="4.1"/><circle cx="1608.4" cy="1651.8" r="4.1"/><circle cx="1625.9" cy="1641.9" r="4.1"/><circle cx="1633.0" cy="1641.9" r="4.1"/><circle cx="1627.7" cy="1648.9" r="4.1"/><circle cx="1634.7" cy="1645.4" r="4.1"/><circle cx="1624.2" cy="1654.2" r="4.1"/><circle cx="1622.4" cy="1661.2" r="4.1"/><circle cx="1629.5" cy="1661.2" r="4.1"/><circle cx="1634.7" cy="1661.2" r="4.1"/><circle cx="1640.0" cy="1645.4" r="4.1"/><circle cx="1640.0" cy="1641.9" r="4.1"/><circle cx="1641.7" cy="1624.4" r="4.1"/><circle cx="1643.5" cy="1606.9" r="4.1"/><circle cx="1647.0" cy="1610.4" r="4.1"/><circle cx="1646.3" cy="1592.8" r="4.1"/><circle cx="1645.2" cy="1587.6" r="4.1"/><circle cx="1648.7" cy="1617.4" r="4.1"/><circle cx="1654.0" cy="1608.6" r="4.1"/><circle cx="1655.8" cy="1610.4" r="4.1"/><circle cx="1648.7" cy="1627.9" r="4.1"/><circle cx="1654.0" cy="1631.4" r="4.1"/><circle cx="1649.8" cy="1659.5" r="4.1"/><circle cx="1652.2" cy="1663.0" r="4.1"/><circle cx="1655.8" cy="1671.7" r="4.1"/><circle cx="1646.3" cy="1673.5" r="4.1"/><circle cx="1640.0" cy="1677.0" r="4.1"/><circle cx="1633.0" cy="1673.5" r="4.1"/><circle cx="1618.9" cy="1673.5" r="4.1"/><circle cx="1615.4" cy="1680.5" r="4.1"/><circle cx="1610.2" cy="1684.0" r="4.1"/><circle cx="1604.9" cy="1691.0" r="4.1"/><circle cx="1606.7" cy="1696.3" r="4.1"/><circle cx="1608.4" cy="1701.5" r="4.1"/><circle cx="1611.9" cy="1705.0" r="4.1"/><circle cx="1618.9" cy="1689.3" r="4.1"/><circle cx="1617.2" cy="1699.8" r="4.1"/><circle cx="1625.9" cy="1692.8" r="4.1"/><circle cx="1629.5" cy="1701.5" r="4.1"/><circle cx="1631.2" cy="1707.9" r="4.1"/><circle cx="1604.9" cy="1710.3" r="4.1"/><circle cx="1613.7" cy="1717.3" r="4.1"/><circle cx="1611.9" cy="1720.8" r="4.1"/><circle cx="1601.4" cy="1720.8" r="4.1"/><circle cx="1601.4" cy="1731.3" r="4.1"/><circle cx="1599.6" cy="1740.1" r="4.1"/><circle cx="1603.2" cy="1736.6" r="4.1"/><circle cx="1671.5" cy="1664.7" r="4.1"/><circle cx="1673.3" cy="1673.5" r="4.1"/><circle cx="1669.8" cy="1689.3" r="4.1"/><circle cx="1671.5" cy="1698.0" r="4.1"/><circle cx="1675.0" cy="1706.8" r="4.1"/><circle cx="1668.0" cy="1727.8" r="4.1"/><circle cx="1673.3" cy="1729.6" r="4.1"/><circle cx="1675.0" cy="1734.9" r="4.1"/><circle cx="1657.5" cy="1717.3" r="4.1"/><circle cx="1659.3" cy="1726.1" r="4.1"/><circle cx="1659.3" cy="1743.6" r="4.1"/><circle cx="1660.3" cy="1750.6" r="4.1"/><circle cx="1662.8" cy="1755.9" r="4.1"/><circle cx="1664.5" cy="1761.2" r="4.1"/><circle cx="1666.3" cy="1768.2" r="4.1"/><circle cx="1661.0" cy="1771.7" r="4.1"/><circle cx="1664.5" cy="1778.7" r="4.1"/><circle cx="1664.5" cy="1785.7" r="4.1"/><circle cx="1662.8" cy="1791.0" r="4.1"/><circle cx="1662.1" cy="1796.2" r="4.1"/><circle cx="1678.5" cy="1741.9" r="4.1"/><circle cx="1680.3" cy="1747.1" r="4.1"/><circle cx="1676.8" cy="1764.7" r="4.1"/><circle cx="1678.5" cy="1771.7" r="4.1"/><circle cx="1699.5" cy="1581.8" r="4.1"/><circle cx="1698.4" cy="1586.4" r="4.1"/><circle cx="1699.5" cy="1597.9" r="4.1"/><circle cx="1700.2" cy="1603.6" r="4.1"/><circle cx="1697.2" cy="1617.4" r="4.1"/><circle cx="1700.7" cy="1625.4" r="4.1"/><circle cx="1701.1" cy="1628.9" r="4.1"/><circle cx="1697.2" cy="1648.4" r="4.1"/><circle cx="1692.6" cy="1662.2" r="4.1"/><circle cx="1692.6" cy="1672.5" r="4.1"/><circle cx="1693.8" cy="1674.8" r="4.1"/><circle cx="1690.3" cy="1680.5" r="4.1"/><circle cx="1691.0" cy="1693.1" r="4.1"/><circle cx="1690.3" cy="1704.6" r="4.1"/><circle cx="1690.3" cy="1708.1" r="4.1"/><circle cx="1689.2" cy="1719.6" r="4.1"/><circle cx="1688.0" cy="1724.1" r="4.1"/><circle cx="1706.4" cy="1697.3" r="4.1"/><circle cx="1703.0" cy="1716.1" r="4.1"/><circle cx="1705.3" cy="1725.3" r="4.1"/><circle cx="1704.1" cy="1729.9" r="4.1"/><circle cx="1707.5" cy="1735.6" r="4.1"/><circle cx="1708.7" cy="1741.4" r="4.1"/><circle cx="1707.5" cy="1750.5" r="4.1"/><circle cx="1709.4" cy="1768.9" r="4.1"/><circle cx="1709.8" cy="1779.2" r="4.1"/><circle cx="1709.8" cy="1793.0" r="4.1"/><circle cx="1711.0" cy="1804.5" r="4.1"/><circle cx="1711.7" cy="1821.7" r="4.1"/><circle cx="1712.1" cy="1832.0" r="4.1"/><circle cx="1712.1" cy="1847.0" r="4.1"/><circle cx="1713.3" cy="1863.0" r="4.1"/><circle cx="1714.4" cy="1868.8" r="4.1"/><circle cx="1715.6" cy="1875.7" r="4.1"/><circle cx="1716.7" cy="1886.0" r="4.1"/><circle cx="1721.3" cy="1851.6" r="4.1"/><circle cx="1717.9" cy="1890.6" r="4.1"/><circle cx="1686.9" cy="1762.0" r="4.1"/><circle cx="1686.9" cy="1773.5" r="4.1"/><circle cx="1685.7" cy="1789.6" r="4.1"/><circle cx="1684.6" cy="1796.5" r="4.1"/><circle cx="1683.4" cy="1810.2" r="4.1"/><circle cx="1683.4" cy="1817.1" r="4.1"/><circle cx="1680.0" cy="1798.8" r="4.1"/><circle cx="1723.6" cy="1754.0" r="4.1"/><circle cx="1723.6" cy="1764.3" r="4.1"/><circle cx="1722.5" cy="1771.2" r="4.1"/><circle cx="1722.5" cy="1780.4" r="4.1"/><circle cx="1724.8" cy="1791.9" r="4.1"/><circle cx="1722.5" cy="1803.3" r="4.1"/><circle cx="1723.6" cy="1812.5" r="4.1"/><circle cx="1724.8" cy="1821.7" r="4.1"/><circle cx="1725.9" cy="1826.3" r="4.1"/><circle cx="1727.1" cy="1834.3" r="4.1"/><circle cx="1732.8" cy="1773.5" r="4.1"/><circle cx="1733.9" cy="1779.2" r="4.1"/><circle cx="1735.1" cy="1781.5" r="4.1"/><circle cx="1733.9" cy="1789.6" r="4.1"/><circle cx="1735.1" cy="1796.5" r="4.1"/><circle cx="1737.4" cy="1805.6" r="4.1"/><circle cx="1738.5" cy="1812.5" r="4.1"/><circle cx="1738.5" cy="1819.4" r="4.1"/><circle cx="1739.7" cy="1828.6" r="4.1"/><circle cx="1739.7" cy="1837.8" r="4.1"/><circle cx="1744.3" cy="1773.5" r="4.1"/><circle cx="1745.4" cy="1778.1" r="4.1"/><circle cx="1746.6" cy="1783.8" r="4.1"/><circle cx="1742.0" cy="1801.0" r="4.1"/><circle cx="1743.1" cy="1807.9" r="4.1"/><circle cx="1747.7" cy="1819.4" r="4.1"/><circle cx="1748.9" cy="1826.3" r="4.1"/><circle cx="1748.9" cy="1835.5" r="4.1"/><circle cx="1750.0" cy="1851.6" r="4.1"/><circle cx="1751.2" cy="1858.4" r="4.1"/><circle cx="1752.3" cy="1866.5" r="4.1"/><circle cx="1752.3" cy="1873.4" r="4.1"/><circle cx="1754.6" cy="1844.7" r="4.1"/><circle cx="1759.2" cy="1766.6" r="4.1"/><circle cx="1759.2" cy="1781.5" r="4.1"/><circle cx="1760.3" cy="1795.3" r="4.1"/><circle cx="1759.2" cy="1801.0" r="4.1"/><circle cx="1759.2" cy="1810.2" r="4.1"/><circle cx="1760.3" cy="1819.4" r="4.1"/><circle cx="1758.1" cy="1844.7" r="4.1"/><circle cx="1761.5" cy="1851.6" r="4.1"/><circle cx="1762.6" cy="1858.4" r="4.1"/><circle cx="1764.9" cy="1858.4" r="4.1"/><circle cx="1766.1" cy="1872.2" r="4.1"/><circle cx="1763.8" cy="1879.1" r="4.1"/><circle cx="1762.6" cy="1888.3" r="4.1"/><circle cx="1762.6" cy="1895.2" r="4.1"/><circle cx="1766.1" cy="1847.0" r="4.1"/><circle cx="1767.2" cy="1824.0" r="4.1"/><circle cx="1768.4" cy="1828.6" r="4.1"/><circle cx="1769.5" cy="1833.2" r="4.1"/><circle cx="1770.7" cy="1819.4" r="4.1"/><circle cx="1770.7" cy="1810.2" r="4.1"/><circle cx="1771.8" cy="1804.5" r="4.1"/><circle cx="1775.3" cy="1789.6" r="4.1"/><circle cx="1776.4" cy="1786.1" r="4.1"/><circle cx="1776.4" cy="1776.9" r="4.1"/><circle cx="1778.7" cy="1685.1" r="4.1"/><circle cx="1778.7" cy="1715.0" r="4.1"/><circle cx="1778.7" cy="1732.2" r="4.1"/><circle cx="1778.7" cy="1742.5" r="4.1"/><circle cx="1777.6" cy="1756.3" r="4.1"/><circle cx="1786.7" cy="1749.4" r="4.1"/><circle cx="1787.9" cy="1768.9" r="4.1"/><circle cx="1787.9" cy="1780.4" r="4.1"/><circle cx="1784.5" cy="1566.9" r="4.1"/><circle cx="1784.5" cy="1581.8" r="4.1"/><circle cx="1785.6" cy="1593.3" r="4.1"/><circle cx="1781.0" cy="1603.6" r="4.1"/><circle cx="1781.0" cy="1608.2" r="4.1"/><circle cx="1782.2" cy="1613.9" r="4.1"/><circle cx="1781.0" cy="1619.7" r="4.1"/><circle cx="1785.6" cy="1622.0" r="4.1"/><circle cx="1781.0" cy="1630.0" r="4.1"/><circle cx="1779.9" cy="1643.8" r="4.1"/><circle cx="1790.2" cy="1664.5" r="4.1"/><circle cx="1786.7" cy="1679.4" r="4.1"/><circle cx="1792.5" cy="1684.0" r="4.1"/><circle cx="1790.2" cy="1693.1" r="4.1"/><circle cx="1791.3" cy="1702.3" r="4.1"/><circle cx="1789.0" cy="1709.2" r="4.1"/><circle cx="1794.8" cy="1718.4" r="4.1"/><circle cx="1794.8" cy="1729.9" r="4.1"/><circle cx="1792.5" cy="1736.8" r="4.1"/></g>
<g fill="#0000ff"><circle cx="1800.3" cy="1587.1" r="4.1"/><circle cx="1801.3" cy="1591.3" r="4.1"/><circle cx="1800.6" cy="1597.0" r="4.1"/><circle cx="1800.4" cy="1600.4" r="4.1"/><circle cx="1802.1" cy="1605.2" r="4.1"/><circle cx="1800.4" cy="1608.4" r="4.1"/><circle cx="1800.0" cy="1612.3" r="4.1"/><circle cx="1801.2" cy="1616.7" r="4.1"/><circle cx="1801.4" cy="1621.0" r="4.1"/><circle cx="1798.8" cy="1625.3" r="4.1"/><circle cx="1801.0" cy="1628.0" r="4.1"/><circle cx="1802.6" cy="1631.8" r="4.1"/><circle cx="1800.2" cy="1637.7" r="4.1"/><circle cx="1803.4" cy="1640.0" r="4.1"/><circle cx="1803.6" cy="1644.5" r="4.1"/><circle cx="1801.8" cy="1647.0" r="4.1"/><circle cx="1800.3" cy="1652.0" r="4.1"/><circle cx="1797.5" cy="1656.1" r="4.1"/><circle cx="1797.7" cy="1658.2" r="4.1"/><circle cx="1804.5" cy="1663.0" r="4.1"/><circle cx="1804.2" cy="1664.3" r="4.1"/><circle cx="1805.7" cy="1668.9" r="4.1"/><circle cx="1806.6" cy="1672.7" r="4.1"/><circle cx="1805.4" cy="1676.4" r="4.1"/><circle cx="1804.5" cy="1682.6" r="4.1"/><circle cx="1799.5" cy="1685.7" r="4.1"/><circle cx="1805.1" cy="1689.2" r="4.1"/><circle cx="1808.4" cy="1692.1" r="4.1"/><circle cx="1808.1" cy="1695.9" r="4.1"/><circle cx="1807.6" cy="1700.1" r="4.1"/><circle cx="1808.9" cy="1705.2" r="4.1"/><circle cx="1809.5" cy="1709.0" r="4.1"/><circle cx="1813.1" cy="1713.5" r="4.1"/><circle cx="1811.2" cy="1716.4" r="4.1"/><circle cx="1808.8" cy="1722.9" r="4.1"/><circle cx="1809.7" cy="1725.4" r="4.1"/><circle cx="1810.8" cy="1730.9" r="4.1"/><circle cx="1807.5" cy="1735.3" r="4.1"/><circle cx="1816.3" cy="1605.6" r="4.1"/><circle cx="1814.6" cy="1610.3" r="4.1"/><circle cx="1818.4" cy="1615.5" r="4.1"/><circle cx="1816.8" cy="1616.9" r="4.1"/><circle cx="1817.5" cy="1621.8" r="4.1"/><circle cx="1817.4" cy="1625.2" r="4.1"/><circle cx="1816.5" cy="1630.7" r="4.1"/><circle cx="1813.9" cy="1634.7" r="4.1"/><circle cx="1816.4" cy="1639.7" r="4.1"/><circle cx="1816.2" cy="1644.5" r="4.1"/><circle cx="1814.5" cy="1648.3" r="4.1"/><circle cx="1816.8" cy="1654.6" r="4.1"/><circle cx="1816.0" cy="1658.0" r="4.1"/><circle cx="1821.6" cy="1660.2" r="4.1"/><circle cx="1818.2" cy="1665.2" r="4.1"/><circle cx="1817.2" cy="1666.9" r="4.1"/><circle cx="1813.2" cy="1670.3" r="4.1"/><circle cx="1814.0" cy="1673.9" r="4.1"/><circle cx="1815.5" cy="1680.3" r="4.1"/><circle cx="1818.3" cy="1682.0" r="4.1"/><circle cx="1823.2" cy="1686.3" r="4.1"/><circle cx="1823.0" cy="1691.2" r="4.1"/><circle cx="1823.1" cy="1694.8" r="4.1"/><circle cx="1824.4" cy="1698.2" r="4.1"/><circle cx="1823.0" cy="1703.9" r="4.1"/><circle cx="1822.8" cy="1706.0" r="4.1"/><circle cx="1823.8" cy="1710.8" r="4.1"/><circle cx="1822.7" cy="1715.7" r="4.1"/><circle cx="1822.6" cy="1719.3" r="4.1"/><circle cx="1824.3" cy="1723.1" r="4.1"/><circle cx="1823.6" cy="1728.2" r="4.1"/><circle cx="1823.4" cy="1732.1" r="4.1"/><circle cx="1828.7" cy="1654.3" r="4.1"/><circle cx="1826.9" cy="1658.1" r="4.1"/><circle cx="1827.3" cy="1663.8" r="4.1"/><circle cx="1828.6" cy="1667.4" r="4.1"/><circle cx="1829.2" cy="1673.3" r="4.1"/><circle cx="1828.7" cy="1679.4" r="4.1"/><circle cx="1830.6" cy="1681.7" r="4.1"/><circle cx="1833.3" cy="1687.4" r="4.1"/><circle cx="1833.9" cy="1692.0" r="4.1"/><circle cx="1834.3" cy="1696.8" r="4.1"/><circle cx="1833.6" cy="1702.2" r="4.1"/><circle cx="1835.2" cy="1703.5" r="4.1"/><circle cx="1836.8" cy="1709.6" r="4.1"/><circle cx="1836.1" cy="1713.3" r="4.1"/><circle cx="1836.4" cy="1718.1" r="4.1"/><circle cx="1836.9" cy="1722.0" r="4.1"/><circle cx="1836.6" cy="1727.4" r="4.1"/><circle cx="1838.3" cy="1731.9" r="4.1"/><circle cx="1837.6" cy="1734.6" r="4.1"/><circle cx="1837.4" cy="1739.5" r="4.1"/><circle cx="1838.4" cy="1743.5" r="4.1"/><circle cx="1838.6" cy="1748.5" r="4.1"/><circle cx="1836.2" cy="1753.5" r="4.1"/><circle cx="1838.2" cy="1757.6" r="4.1"/><circle cx="1840.3" cy="1760.8" r="4.1"/><circle cx="1837.4" cy="1764.2" r="4.1"/><circle cx="1839.4" cy="1768.8" r="4.1"/><circle cx="1841.2" cy="1686.4" r="4.1"/><circle cx="1843.2" cy="1689.7" r="4.1"/><circle cx="1841.9" cy="1694.2" r="4.1"/><circle cx="1844.3" cy="1698.2" r="4.1"/><circle cx="1843.4" cy="1703.0" r="4.1"/><circle cx="1841.7" cy="1705.8" r="4.1"/><circle cx="1841.1" cy="1712.6" r="4.1"/><circle cx="1843.0" cy="1715.5" r="4.1"/><circle cx="1843.2" cy="1719.9" r="4.1"/><circle cx="1843.3" cy="1725.5" r="4.1"/><circle cx="1845.9" cy="1729.1" r="4.1"/><circle cx="1845.8" cy="1732.8" r="4.1"/><circle cx="1846.3" cy="1736.8" r="4.1"/><circle cx="1847.2" cy="1742.6" r="4.1"/><circle cx="1845.4" cy="1745.4" r="4.1"/><circle cx="1847.0" cy="1749.4" r="4.1"/><circle cx="1846.6" cy="1753.0" r="4.1"/><circle cx="1846.7" cy="1758.4" r="4.1"/><circle cx="1847.7" cy="1762.2" r="4.1"/><circle cx="1847.6" cy="1768.1" r="4.1"/><circle cx="1850.8" cy="1769.7" r="4.1"/><circle cx="1849.8" cy="1773.5" r="4.1"/><circle cx="1850.6" cy="1777.9" r="4.1"/><circle cx="1850.6" cy="1783.7" r="4.1"/><circle cx="1850.1" cy="1786.7" r="4.1"/><circle cx="1851.3" cy="1792.4" r="4.1"/><circle cx="1849.9" cy="1794.9" r="4.1"/><circle cx="1849.7" cy="1801.1" r="4.1"/><circle cx="1849.4" cy="1806.7" r="4.1"/><circle cx="1849.4" cy="1809.1" r="4.1"/><circle cx="1848.6" cy="1811.0" r="4.1"/><circle cx="1847.7" cy="1815.5" r="4.1"/><circle cx="1849.6" cy="1819.8" r="4.1"/><circle cx="1854.0" cy="1724.4" r="4.1"/><circle cx="1853.2" cy="1730.6" r="4.1"/><circle cx="1856.2" cy="1734.4" r="4.1"/><circle cx="1852.6" cy="1739.4" r="4.1"/><circle cx="1852.7" cy="1741.4" r="4.1"/><circle cx="1853.7" cy="1746.1" r="4.1"/><circle cx="1852.1" cy="1750.1" r="4.1"/><circle cx="1853.4" cy="1753.7" r="4.1"/><circle cx="1853.4" cy="1755.9" r="4.1"/><circle cx="1850.5" cy="1760.3" r="4.1"/><circle cx="1852.7" cy="1764.5" r="4.1"/><circle cx="1850.9" cy="1770.2" r="4.1"/><circle cx="1853.7" cy="1775.2" r="4.1"/><circle cx="1894.1" cy="1689.4" r="4.1"/><circle cx="1892.4" cy="1692.6" r="4.1"/><circle cx="1891.2" cy="1698.7" r="4.1"/><circle cx="1891.7" cy="1702.0" r="4.1"/><circle cx="1890.0" cy="1707.6" r="4.1"/><circle cx="1888.8" cy="1711.7" r="4.1"/><circle cx="1889.9" cy="1715.6" r="4.1"/><circle cx="1890.2" cy="1720.9" r="4.1"/><circle cx="1886.7" cy="1725.2" r="4.1"/><circle cx="1887.5" cy="1729.8" r="4.1"/><circle cx="1888.2" cy="1735.6" r="4.1"/><circle cx="1886.4" cy="1739.6" r="4.1"/><circle cx="1886.9" cy="1744.0" r="4.1"/><circle cx="1885.2" cy="1746.8" r="4.1"/><circle cx="1883.6" cy="1750.7" r="4.1"/><circle cx="1884.6" cy="1755.1" r="4.1"/><circle cx="1885.0" cy="1760.2" r="4.1"/><circle cx="1881.1" cy="1764.3" r="4.1"/><circle cx="1884.4" cy="1768.6" r="4.1"/><circle cx="1881.5" cy="1773.3" r="4.1"/><circle cx="1877.4" cy="1778.9" r="4.1"/><circle cx="1878.7" cy="1781.1" r="4.1"/><circle cx="1878.5" cy="1787.5" r="4.1"/><circle cx="1877.2" cy="1791.5" r="4.1"/><circle cx="1878.7" cy="1796.3" r="4.1"/><circle cx="1875.7" cy="1799.6" r="4.1"/><circle cx="1876.9" cy="1806.0" r="4.1"/><circle cx="1876.4" cy="1808.7" r="4.1"/><circle cx="1876.8" cy="1813.4" r="4.1"/><circle cx="1874.3" cy="1816.6" r="4.1"/><circle cx="1874.2" cy="1823.4" r="4.1"/><circle cx="1874.1" cy="1826.7" r="4.1"/><circle cx="1875.6" cy="1831.6" r="4.1"/><circle cx="1873.3" cy="1835.2" r="4.1"/><circle cx="1873.5" cy="1840.6" r="4.1"/><circle cx="1875.5" cy="1845.3" r="4.1"/><circle cx="1872.4" cy="1849.3" r="4.1"/><circle cx="1870.2" cy="1852.0" r="4.1"/><circle cx="1871.9" cy="1856.6" r="4.1"/><circle cx="1870.4" cy="1861.3" r="4.1"/><circle cx="1870.3" cy="1864.9" r="4.1"/><circle cx="1870.9" cy="1869.6" r="4.1"/><circle cx="1868.2" cy="1873.9" r="4.1"/><circle cx="1870.0" cy="1880.3" r="4.1"/><circle cx="1894.4" cy="1729.6" r="4.1"/><circle cx="1895.3" cy="1734.3" r="4.1"/><circle cx="1896.0" cy="1739.3" r="4.1"/><circle cx="1898.1" cy="1743.6" r="4.1"/><circle cx="1895.5" cy="1746.3" r="4.1"/><circle cx="1896.7" cy="1751.4" r="4.1"/><circle cx="1898.5" cy="1756.5" r="4.1"/><circle cx="1898.7" cy="1760.8" r="4.1"/><circle cx="1896.8" cy="1765.0" r="4.1"/><circle cx="1896.8" cy="1769.1" r="4.1"/><circle cx="1901.1" cy="1775.0" r="4.1"/><circle cx="1900.4" cy="1779.6" r="4.1"/><circle cx="1902.0" cy="1784.2" r="4.1"/><circle cx="1900.9" cy="1787.4" r="4.1"/><circle cx="1903.9" cy="1793.4" r="4.1"/><circle cx="1902.4" cy="1796.6" r="4.1"/><circle cx="1904.8" cy="1802.1" r="4.1"/><circle cx="1905.0" cy="1807.5" r="4.1"/><circle cx="1906.7" cy="1810.1" r="4.1"/><circle cx="1909.8" cy="1814.3" r="4.1"/><circle cx="1908.2" cy="1819.2" r="4.1"/><circle cx="1910.8" cy="1823.7" r="4.1"/><circle cx="1909.2" cy="1828.4" r="4.1"/><circle cx="1909.5" cy="1832.5" r="4.1"/><circle cx="1908.3" cy="1772.7" r="4.1"/><circle cx="1914.3" cy="1777.1" r="4.1"/><circle cx="1912.0" cy="1780.7" r="4.1"/><circle cx="1913.2" cy="1785.8" r="4.1"/><circle cx="1914.8" cy="1788.7" r="4.1"/><circle cx="1918.2" cy="1794.5" r="4.1"/><circle cx="1914.6" cy="1800.0" r="4.1"/><circle cx="1916.5" cy="1803.2" r="4.1"/><circle cx="1917.9" cy="1807.7" r="4.1"/><circle cx="1918.7" cy="1811.5" r="4.1"/><circle cx="1916.9" cy="1815.7" r="4.1"/><circle cx="1918.4" cy="1819.6" r="4.1"/><circle cx="1921.4" cy="1824.6" r="4.1"/><circle cx="1922.8" cy="1829.1" r="4.1"/><circle cx="1923.2" cy="1833.2" r="4.1"/><circle cx="1925.5" cy="1838.9" r="4.1"/><circle cx="1915.0" cy="1753.3" r="4.1"/><circle cx="1917.9" cy="1759.4" r="4.1"/><circle cx="1917.3" cy="1761.8" r="4.1"/><circle cx="1918.4" cy="1765.9" r="4.1"/><circle cx="1922.2" cy="1770.6" r="4.1"/><circle cx="1920.2" cy="1773.2" r="4.1"/><circle cx="1921.7" cy="1777.1" r="4.1"/><circle cx="1921.4" cy="1780.6" r="4.1"/><circle cx="1923.2" cy="1785.0" r="4.1"/><circle cx="1925.3" cy="1789.7" r="4.1"/><circle cx="1923.2" cy="1794.4" r="4.1"/><circle cx="1924.4" cy="1799.0" r="4.1"/><circle cx="1922.6" cy="1802.6" r="4.1"/><circle cx="1925.4" cy="1805.9" r="4.1"/><circle cx="1925.3" cy="1812.1" r="4.1"/><circle cx="1927.1" cy="1816.6" r="4.1"/><circle cx="1937.3" cy="1694.3" r="4.1"/><circle cx="1936.2" cy="1699.4" r="4.1"/><circle cx="1938.0" cy="1704.0" r="4.1"/><circle cx="1936.2" cy="1710.6" r="4.1"/><circle cx="1934.6" cy="1715.2" r="4.1"/><circle cx="1937.7" cy="1718.1" r="4.1"/><circle cx="1936.1" cy="1722.5" r="4.1"/><circle cx="1937.6" cy="1727.4" r="4.1"/><circle cx="1934.9" cy="1732.3" r="4.1"/><circle cx="1934.1" cy="1737.7" r="4.1"/><circle cx="1937.1" cy="1741.7" r="4.1"/><circle cx="1936.2" cy="1747.4" r="4.1"/><circle cx="1934.9" cy="1749.8" r="4.1"/><circle cx="1935.3" cy="1755.5" r="4.1"/><circle cx="1936.3" cy="1761.1" r="4.1"/><circle cx="1935.3" cy="1764.2" r="4.1"/><circle cx="1938.2" cy="1769.0" r="4.1"/><circle cx="1935.3" cy="1772.7" r="4.1"/><circle cx="1934.5" cy="1776.7" r="4.1"/><circle cx="1933.5" cy="1781.4" r="4.1"/><circle cx="1932.2" cy="1785.4" r="4.1"/><circle cx="1932.2" cy="1789.9" r="4.1"/><circle cx="1931.5" cy="1794.0" r="4.1"/><circle cx="1931.4" cy="1799.2" r="4.1"/><circle cx="1931.3" cy="1804.2" r="4.1"/><circle cx="1929.6" cy="1809.4" r="4.1"/><circle cx="1927.6" cy="1812.5" r="4.1"/><circle cx="1925.3" cy="1818.0" r="4.1"/><circle cx="1926.4" cy="1823.2" r="4.1"/><circle cx="1926.0" cy="1826.5" r="4.1"/><circle cx="1927.2" cy="1831.2" r="4.1"/><circle cx="1925.5" cy="1835.7" r="4.1"/><circle cx="1941.0" cy="1765.7" r="4.1"/><circle cx="1941.8" cy="1769.6" r="4.1"/><circle cx="1941.4" cy="1773.4" r="4.1"/><circle cx="1941.0" cy="1778.1" r="4.1"/><circle cx="1942.4" cy="1783.5" r="4.1"/><circle cx="1942.0" cy="1788.3" r="4.1"/><circle cx="1941.8" cy="1791.7" r="4.1"/><circle cx="1944.1" cy="1797.0" r="4.1"/><circle cx="1945.2" cy="1800.7" r="4.1"/><circle cx="1942.5" cy="1806.1" r="4.1"/><circle cx="1945.1" cy="1809.9" r="4.1"/><circle cx="1946.3" cy="1813.5" r="4.1"/><circle cx="1944.1" cy="1818.0" r="4.1"/><circle cx="1944.8" cy="1822.3" r="4.1"/><circle cx="1945.5" cy="1826.4" r="4.1"/><circle cx="1945.5" cy="1828.1" r="4.1"/><circle cx="1947.2" cy="1833.2" r="4.1"/><circle cx="1946.2" cy="1837.3" r="4.1"/><circle cx="1953.2" cy="1756.1" r="4.1"/><circle cx="1949.9" cy="1760.5" r="4.1"/><circle cx="1950.7" cy="1763.3" r="4.1"/><circle cx="1951.2" cy="1768.7" r="4.1"/><circle cx="1953.3" cy="1773.2" r="4.1"/><circle cx="1954.0" cy="1777.7" r="4.1"/><circle cx="1955.7" cy="1781.2" r="4.1"/><circle cx="1955.3" cy="1785.9" r="4.1"/><circle cx="1952.0" cy="1790.8" r="4.1"/><circle cx="1952.7" cy="1794.8" r="4.1"/><circle cx="1953.2" cy="1799.2" r="4.1"/><circle cx="1954.4" cy="1803.5" r="4.1"/><circle cx="1949.5" cy="1807.1" r="4.1"/><circle cx="1950.9" cy="1811.1" r="4.1"/><circle cx="1951.0" cy="1816.2" r="4.1"/><circle cx="1951.0" cy="1819.8" r="4.1"/><circle cx="1960.8" cy="1710.7" r="4.1"/><circle cx="1963.0" cy="1715.3" r="4.1"/><circle cx="1960.4" cy="1719.0" r="4.1"/><circle cx="1960.7" cy="1723.5" r="4.1"/><circle cx="1963.0" cy="1729.3" r="4.1"/><circle cx="1957.6" cy="1733.2" r="4.1"/><circle cx="1960.3" cy="1735.9" r="4.1"/><circle cx="1958.7" cy="1741.7" r="4.1"/><circle cx="1960.6" cy="1746.1" r="4.1"/><circle cx="1959.5" cy="1751.0" r="4.1"/><circle cx="1960.3" cy="1754.3" r="4.1"/><circle cx="1960.1" cy="1759.3" r="4.1"/><circle cx="1957.6" cy="1763.2" r="4.1"/><circle cx="1957.6" cy="1766.7" r="4.1"/><circle cx="1957.2" cy="1772.0" r="4.1"/><circle cx="1960.1" cy="1778.1" r="4.1"/><circle cx="1959.3" cy="1781.1" r="4.1"/><circle cx="1962.6" cy="1786.0" r="4.1"/><circle cx="1963.2" cy="1790.0" r="4.1"/><circle cx="1962.9" cy="1795.8" r="4.1"/><circle cx="1962.2" cy="1799.2" r="4.1"/><circle cx="1964.1" cy="1801.5" r="4.1"/><circle cx="1966.2" cy="1806.3" r="4.1"/><circle cx="1965.2" cy="1811.3" r="4.1"/><circle cx="1964.0" cy="1815.2" r="4.1"/><circle cx="1966.6" cy="1818.7" r="4.1"/><circle cx="1966.0" cy="1822.1" r="4.1"/><circle cx="1965.5" cy="1826.3" r="4.1"/><circle cx="1966.2" cy="1832.6" r="4.1"/><circle cx="1963.7" cy="1836.6" r="4.1"/><circle cx="1966.0" cy="1840.6" r="4.1"/><circle cx="1967.5" cy="1845.5" r="4.1"/><circle cx="1968.9" cy="1850.4" r="4.1"/><circle cx="1967.3" cy="1854.5" r="4.1"/><circle cx="1969.6" cy="1857.9" r="4.1"/><circle cx="1967.8" cy="1861.7" r="4.1"/><circle cx="1967.5" cy="1867.1" r="4.1"/><circle cx="1967.9" cy="1870.9" r="4.1"/><circle cx="1967.5" cy="1874.0" r="4.1"/><circle cx="1968.5" cy="1878.8" r="4.1"/><circle cx="1977.6" cy="1703.2" r="4.1"/><circle cx="1975.9" cy="1706.0" r="4.1"/><circle cx="1973.6" cy="1711.5" r="4.1"/><circle cx="1973.2" cy="1714.5" r="4.1"/><circle cx="1975.1" cy="1717.5" r="4.1"/><circle cx="1974.7" cy="1724.0" r="4.1"/><circle cx="1975.9" cy="1725.8" r="4.1"/><circle cx="1976.4" cy="1730.5" r="4.1"/><circle cx="1974.7" cy="1735.7" r="4.1"/><circle cx="1973.5" cy="1741.0" r="4.1"/><circle cx="1975.4" cy="1744.6" r="4.1"/><circle cx="1974.1" cy="1747.8" r="4.1"/><circle cx="1978.6" cy="1752.8" r="4.1"/><circle cx="1976.7" cy="1757.2" r="4.1"/><circle cx="1976.4" cy="1759.8" r="4.1"/><circle cx="1976.4" cy="1765.5" r="4.1"/><circle cx="1979.5" cy="1770.2" r="4.1"/><circle cx="1977.2" cy="1773.3" r="4.1"/><circle cx="1978.5" cy="1779.7" r="4.1"/><circle cx="1979.0" cy="1782.6" r="4.1"/><circle cx="1981.9" cy="1789.1" r="4.1"/><circle cx="1982.7" cy="1792.8" r="4.1"/><circle cx="1984.3" cy="1795.4" r="4.1"/><circle cx="1983.6" cy="1800.5" r="4.1"/><circle cx="1984.8" cy="1804.9" r="4.1"/><circle cx="1985.8" cy="1811.7" r="4.1"/><circle cx="1988.6" cy="1814.3" r="4.1"/><circle cx="1985.4" cy="1820.2" r="4.1"/><circle cx="1988.1" cy="1823.5" r="4.1"/><circle cx="1988.3" cy="1827.7" r="4.1"/><circle cx="1988.8" cy="1832.4" r="4.1"/><circle cx="1988.6" cy="1835.1" r="4.1"/><circle cx="1985.3" cy="1841.8" r="4.1"/><circle cx="1985.7" cy="1846.3" r="4.1"/><circle cx="1989.0" cy="1851.4" r="4.1"/><circle cx="1993.1" cy="1856.0" r="4.1"/><circle cx="1992.9" cy="1860.3" r="4.1"/><circle cx="1993.6" cy="1865.0" r="4.1"/><circle cx="1995.6" cy="1869.6" r="4.1"/><circle cx="1996.2" cy="1873.5" r="4.1"/><circle cx="1995.6" cy="1880.3" r="4.1"/><circle cx="1986.4" cy="1755.3" r="4.1"/><circle cx="1990.2" cy="1761.4" r="4.1"/><circle cx="1989.2" cy="1765.4" r="4.1"/><circle cx="1988.2" cy="1770.4" r="4.1"/><circle cx="1990.0" cy="1772.5" r="4.1"/><circle cx="1990.1" cy="1776.4" r="4.1"/><circle cx="1987.0" cy="1783.3" r="4.1"/><circle cx="1991.3" cy="1784.4" r="4.1"/><circle cx="1990.0" cy="1788.4" r="4.1"/><circle cx="1990.4" cy="1791.3" r="4.1"/><circle cx="1989.2" cy="1796.0" r="4.1"/><circle cx="1993.0" cy="1800.4" r="4.1"/><circle cx="1994.0" cy="1804.8" r="4.1"/><circle cx="1992.0" cy="1808.6" r="4.1"/><circle cx="1996.1" cy="1811.6" r="4.1"/><circle cx="1994.6" cy="1815.7" r="4.1"/><circle cx="1995.6" cy="1819.9" r="4.1"/><circle cx="1995.9" cy="1823.3" r="4.1"/><circle cx="1999.3" cy="1827.5" r="4.1"/><circle cx="1998.5" cy="1832.3" r="4.1"/><circle cx="1998.9" cy="1837.3" r="4.1"/><circle cx="2000.1" cy="1841.0" r="4.1"/><circle cx="1999.4" cy="1845.6" r="4.1"/><circle cx="2001.6" cy="1850.3" r="4.1"/><circle cx="2004.9" cy="1853.3" r="4.1"/><circle cx="2004.8" cy="1856.7" r="4.1"/><circle cx="2006.9" cy="1862.3" r="4.1"/><circle cx="2008.8" cy="1867.0" r="4.1"/><circle cx="2009.4" cy="1871.2" r="4.1"/><circle cx="2009.0" cy="1875.9" r="4.1"/><circle cx="2009.9" cy="1880.3" r="4.1"/><circle cx="1997.8" cy="1769.4" r="4.1"/><circle cx="1998.3" cy="1772.7" r="4.1"/><circle cx="2000.9" cy="1777.6" r="4.1"/><circle cx="2000.3" cy="1781.5" r="4.1"/><circle cx="2000.6" cy="1785.8" r="4.1"/><circle cx="2002.0" cy="1789.6" r="4.1"/><circle cx="2001.4" cy="1794.2" r="4.1"/><circle cx="2000.3" cy="1798.1" r="4.1"/><circle cx="2005.0" cy="1802.1" r="4.1"/><circle cx="2003.7" cy="1807.0" r="4.1"/><circle cx="2004.8" cy="1811.0" r="4.1"/><circle cx="2008.7" cy="1813.6" r="4.1"/><circle cx="2006.4" cy="1818.7" r="4.1"/><circle cx="2007.2" cy="1823.7" r="4.1"/><circle cx="2008.2" cy="1828.0" r="4.1"/><circle cx="2008.4" cy="1833.2" r="4.1"/><circle cx="2008.9" cy="1836.0" r="4.1"/><circle cx="2009.3" cy="1841.7" r="4.1"/><circle cx="2011.6" cy="1843.8" r="4.1"/><circle cx="2013.2" cy="1849.0" r="4.1"/><circle cx="2014.2" cy="1853.9" r="4.1"/><circle cx="2016.3" cy="1858.9" r="4.1"/><circle cx="2017.7" cy="1863.0" r="4.1"/><circle cx="2018.8" cy="1866.5" r="4.1"/><circle cx="2017.9" cy="1871.9" r="4.1"/><circle cx="2018.8" cy="1874.4" r="4.1"/><circle cx="2019.7" cy="1880.4" r="4.1"/><circle cx="2019.0" cy="1886.3" r="4.1"/><circle cx="2022.7" cy="1889.9" r="4.1"/><circle cx="2010.5" cy="1813.5" r="4.1"/><circle cx="2010.2" cy="1817.9" r="4.1"/><circle cx="2013.8" cy="1822.3" r="4.1"/><circle cx="2015.9" cy="1825.7" r="4.1"/><circle cx="2014.7" cy="1830.6" r="4.1"/><circle cx="2016.9" cy="1836.2" r="4.1"/><circle cx="2018.2" cy="1838.3" r="4.1"/><circle cx="2018.5" cy="1841.4" r="4.1"/><circle cx="2016.8" cy="1848.5" r="4.1"/><circle cx="2023.2" cy="1852.5" r="4.1"/><circle cx="2022.7" cy="1855.4" r="4.1"/><circle cx="2023.0" cy="1860.8" r="4.1"/><circle cx="2024.3" cy="1864.4" r="4.1"/><circle cx="2030.6" cy="1722.1" r="4.1"/><circle cx="2028.8" cy="1724.4" r="4.1"/><circle cx="2029.4" cy="1730.0" r="4.1"/><circle cx="2030.4" cy="1735.6" r="4.1"/><circle cx="2029.1" cy="1740.1" r="4.1"/><circle cx="2027.5" cy="1763.8" r="4.1"/><circle cx="2029.5" cy="1768.6" r="4.1"/><circle cx="2031.2" cy="1774.3" r="4.1"/><circle cx="2031.6" cy="1778.1" r="4.1"/><circle cx="2034.4" cy="1784.4" r="4.1"/><circle cx="2033.9" cy="1787.1" r="4.1"/><circle cx="2033.9" cy="1793.2" r="4.1"/><circle cx="2035.9" cy="1795.8" r="4.1"/><circle cx="2032.1" cy="1801.1" r="4.1"/><circle cx="2032.3" cy="1805.9" r="4.1"/><circle cx="2033.1" cy="1809.1" r="4.1"/><circle cx="2032.0" cy="1812.0" r="4.1"/><circle cx="2031.6" cy="1817.7" r="4.1"/><circle cx="2031.2" cy="1822.4" r="4.1"/><circle cx="2031.8" cy="1825.1" r="4.1"/><circle cx="2029.5" cy="1831.6" r="4.1"/><circle cx="2030.0" cy="1836.3" r="4.1"/><circle cx="2030.7" cy="1839.8" r="4.1"/><circle cx="2028.5" cy="1844.1" r="4.1"/><circle cx="2030.0" cy="1847.7" r="4.1"/><circle cx="2027.2" cy="1852.3" r="4.1"/><circle cx="2028.8" cy="1855.3" r="4.1"/><circle cx="2025.8" cy="1860.3" r="4.1"/><circle cx="2023.9" cy="1866.8" r="4.1"/><circle cx="2023.9" cy="1869.3" r="4.1"/><circle cx="2024.3" cy="1874.0" r="4.1"/><circle cx="2035.6" cy="1762.5" r="4.1"/><circle cx="2035.6" cy="1766.0" r="4.1"/><circle cx="2037.2" cy="1771.4" r="4.1"/><circle cx="2034.6" cy="1775.5" r="4.1"/><circle cx="2036.9" cy="1779.5" r="4.1"/><circle cx="2039.0" cy="1782.6" r="4.1"/><circle cx="2036.0" cy="1787.4" r="4.1"/><circle cx="2038.1" cy="1792.6" r="4.1"/><circle cx="2041.6" cy="1796.8" r="4.1"/><circle cx="2037.9" cy="1799.3" r="4.1"/><circle cx="2042.1" cy="1804.9" r="4.1"/><circle cx="2040.0" cy="1809.5" r="4.1"/><circle cx="2044.1" cy="1813.8" r="4.1"/><circle cx="2043.6" cy="1818.0" r="4.1"/><circle cx="2041.3" cy="1822.7" r="4.1"/><circle cx="2042.3" cy="1825.7" r="4.1"/><circle cx="2040.8" cy="1830.4" r="4.1"/><circle cx="2040.6" cy="1834.0" r="4.1"/><circle cx="2041.5" cy="1838.6" r="4.1"/><circle cx="2040.5" cy="1842.3" r="4.1"/><circle cx="2044.9" cy="1848.3" r="4.1"/><circle cx="2041.8" cy="1851.7" r="4.1"/><circle cx="2048.0" cy="1783.6" r="4.1"/><circle cx="2046.9" cy="1787.8" r="4.1"/><circle cx="2047.2" cy="1792.4" r="4.1"/><circle cx="2046.5" cy="1794.5" r="4.1"/><circle cx="2046.6" cy="1800.7" r="4.1"/><circle cx="2059.5" cy="1750.1" r="4.1"/><circle cx="2059.0" cy="1753.8" r="4.1"/><circle cx="2056.2" cy="1757.5" r="4.1"/><circle cx="2059.3" cy="1762.9" r="4.1"/><circle cx="2059.4" cy="1765.3" r="4.1"/><circle cx="2062.2" cy="1770.5" r="4.1"/><circle cx="2063.2" cy="1775.6" r="4.1"/><circle cx="2061.1" cy="1780.4" r="4.1"/><circle cx="2061.3" cy="1781.5" r="4.1"/><circle cx="2061.8" cy="1787.8" r="4.1"/><circle cx="2060.9" cy="1792.1" r="4.1"/><circle cx="2062.5" cy="1795.9" r="4.1"/><circle cx="2062.1" cy="1800.6" r="4.1"/><circle cx="2062.3" cy="1804.9" r="4.1"/><circle cx="2060.7" cy="1809.0" r="4.1"/><circle cx="2060.7" cy="1814.2" r="4.1"/><circle cx="2060.9" cy="1818.3" r="4.1"/><circle cx="2060.4" cy="1822.8" r="4.1"/><circle cx="2061.8" cy="1826.0" r="4.1"/><circle cx="2061.1" cy="1830.6" r="4.1"/><circle cx="2062.9" cy="1833.9" r="4.1"/><circle cx="2061.3" cy="1838.5" r="4.1"/><circle cx="2059.1" cy="1843.3" r="4.1"/><circle cx="2060.9" cy="1846.9" r="4.1"/><circle cx="2070.0" cy="1728.7" r="4.1"/><circle cx="2072.8" cy="1734.3" r="4.1"/><circle cx="2070.2" cy="1735.8" r="4.1"/><circle cx="2070.3" cy="1739.6" r="4.1"/><circle cx="2072.4" cy="1744.4" r="4.1"/><circle cx="2071.3" cy="1748.6" r="4.1"/><circle cx="2071.4" cy="1752.5" r="4.1"/><circle cx="2072.1" cy="1756.3" r="4.1"/><circle cx="2072.6" cy="1760.8" r="4.1"/><circle cx="2075.1" cy="1766.4" r="4.1"/><circle cx="2074.6" cy="1769.3" r="4.1"/><circle cx="2077.3" cy="1774.5" r="4.1"/><circle cx="2075.3" cy="1777.0" r="4.1"/><circle cx="2075.6" cy="1781.8" r="4.1"/><circle cx="2077.5" cy="1786.4" r="4.1"/><circle cx="2075.4" cy="1789.2" r="4.1"/><circle cx="2076.7" cy="1794.8" r="4.1"/><circle cx="2076.9" cy="1800.0" r="4.1"/><circle cx="2075.0" cy="1803.8" r="4.1"/><circle cx="2074.3" cy="1809.5" r="4.1"/><circle cx="2073.2" cy="1811.0" r="4.1"/><circle cx="2075.3" cy="1816.1" r="4.1"/><circle cx="2076.3" cy="1820.6" r="4.1"/><circle cx="2078.1" cy="1824.6" r="4.1"/><circle cx="2078.9" cy="1829.3" r="4.1"/><circle cx="2079.0" cy="1833.2" r="4.1"/><circle cx="2081.1" cy="1836.7" r="4.1"/><circle cx="2078.4" cy="1842.0" r="4.1"/><circle cx="2080.8" cy="1847.1" r="4.1"/><circle cx="2081.9" cy="1851.2" r="4.1"/><circle cx="2082.9" cy="1855.7" r="4.1"/><circle cx="2081.5" cy="1859.1" r="4.1"/><circle cx="2082.0" cy="1865.0" r="4.1"/><circle cx="2088.3" cy="1866.9" r="4.1"/><circle cx="2085.0" cy="1872.1" r="4.1"/><circle cx="2087.3" cy="1877.5" r="4.1"/><circle cx="2086.0" cy="1880.7" r="4.1"/><circle cx="2087.8" cy="1885.0" r="4.1"/><circle cx="2086.1" cy="1889.6" r="4.1"/><circle cx="2088.2" cy="1895.3" r="4.1"/><circle cx="2087.4" cy="1899.5" r="4.1"/><circle cx="2067.7" cy="1771.0" r="4.1"/><circle cx="2068.0" cy="1776.1" r="4.1"/><circle cx="2069.5" cy="1781.0" r="4.1"/><circle cx="2068.1" cy="1784.1" r="4.1"/><circle cx="2068.9" cy="1790.1" r="4.1"/><circle cx="2070.8" cy="1791.8" r="4.1"/><circle cx="2071.5" cy="1797.6" r="4.1"/><circle cx="2068.8" cy="1799.8" r="4.1"/><circle cx="2070.9" cy="1803.9" r="4.1"/><circle cx="2069.7" cy="1810.2" r="4.1"/><circle cx="2074.9" cy="1812.5" r="4.1"/><circle cx="2072.6" cy="1818.7" r="4.1"/><circle cx="2073.7" cy="1823.0" r="4.1"/><circle cx="2079.2" cy="1849.6" r="4.1"/><circle cx="2080.5" cy="1852.6" r="4.1"/><circle cx="2079.0" cy="1857.3" r="4.1"/><circle cx="2080.2" cy="1861.7" r="4.1"/><circle cx="2082.1" cy="1858.8" r="4.1"/><circle cx="2087.0" cy="1854.7" r="4.1"/><circle cx="2087.8" cy="1851.5" r="4.1"/><circle cx="2088.5" cy="1848.9" r="4.1"/><circle cx="2089.9" cy="1846.6" r="4.1"/><circle cx="2091.0" cy="1842.0" r="4.1"/><circle cx="2093.0" cy="1836.4" r="4.1"/><circle cx="2093.0" cy="1834.2" r="4.1"/><circle cx="2093.7" cy="1828.5" r="4.1"/><circle cx="2095.2" cy="1822.6" r="4.1"/><circle cx="2093.7" cy="1821.3" r="4.1"/><circle cx="2094.7" cy="1817.1" r="4.1"/><circle cx="2095.0" cy="1811.8" r="4.1"/><circle cx="2094.8" cy="1809.3" r="4.1"/><circle cx="2099.3" cy="1803.1" r="4.1"/><circle cx="2095.6" cy="1801.2" r="4.1"/><circle cx="2096.3" cy="1797.8" r="4.1"/><circle cx="2097.8" cy="1791.9" r="4.1"/><circle cx="2097.6" cy="1787.9" r="4.1"/><circle cx="2104.9" cy="1766.0" r="4.1"/><circle cx="2105.2" cy="1768.5" r="4.1"/><circle cx="2105.3" cy="1773.8" r="4.1"/><circle cx="2104.4" cy="1778.4" r="4.1"/><circle cx="2104.4" cy="1781.6" r="4.1"/><circle cx="2104.5" cy="1786.9" r="4.1"/><circle cx="2106.3" cy="1791.3" r="4.1"/><circle cx="2102.6" cy="1794.7" r="4.1"/><circle cx="2104.9" cy="1799.2" r="4.1"/><circle cx="2104.7" cy="1804.1" r="4.1"/><circle cx="2106.5" cy="1805.3" r="4.1"/><circle cx="2103.6" cy="1809.7" r="4.1"/><circle cx="2107.0" cy="1814.6" r="4.1"/><circle cx="2108.1" cy="1817.2" r="4.1"/><circle cx="2106.2" cy="1822.9" r="4.1"/><circle cx="2107.2" cy="1826.2" r="4.1"/><circle cx="2108.5" cy="1830.2" r="4.1"/><circle cx="2108.5" cy="1834.2" r="4.1"/><circle cx="2107.2" cy="1839.2" r="4.1"/><circle cx="2109.2" cy="1843.8" r="4.1"/><circle cx="2108.8" cy="1847.5" r="4.1"/><circle cx="2107.1" cy="1852.8" r="4.1"/><circle cx="2108.8" cy="1858.0" r="4.1"/><circle cx="2117.0" cy="1600.7" r="4.1"/><circle cx="2118.3" cy="1604.6" r="4.1"/><circle cx="2118.3" cy="1655.6" r="4.1"/><circle cx="2116.7" cy="1673.1" r="4.1"/><circle cx="2116.7" cy="1692.3" r="4.1"/><circle cx="2116.1" cy="1705.0" r="4.1"/><circle cx="2113.9" cy="1729.5" r="4.1"/><circle cx="2115.8" cy="1732.9" r="4.1"/><circle cx="2114.4" cy="1738.3" r="4.1"/><circle cx="2115.5" cy="1739.7" r="4.1"/><circle cx="2117.0" cy="1746.1" r="4.1"/><circle cx="2119.4" cy="1750.5" r="4.1"/><circle cx="2118.4" cy="1753.9" r="4.1"/><circle cx="2118.2" cy="1758.1" r="4.1"/><circle cx="2121.3" cy="1762.5" r="4.1"/><circle cx="2120.6" cy="1767.0" r="4.1"/><circle cx="2120.3" cy="1770.0" r="4.1"/><circle cx="2119.9" cy="1775.9" r="4.1"/><circle cx="2121.3" cy="1778.9" r="4.1"/><circle cx="2116.7" cy="1783.4" r="4.1"/><circle cx="2118.2" cy="1788.8" r="4.1"/><circle cx="2116.0" cy="1792.2" r="4.1"/><circle cx="2114.1" cy="1795.9" r="4.1"/><circle cx="2116.1" cy="1800.1" r="4.1"/><circle cx="2114.1" cy="1806.2" r="4.1"/><circle cx="2113.8" cy="1808.5" r="4.1"/><circle cx="2112.6" cy="1813.6" r="4.1"/><circle cx="2112.1" cy="1817.6" r="4.1"/><circle cx="2113.4" cy="1822.2" r="4.1"/><circle cx="2112.9" cy="1826.5" r="4.1"/><circle cx="2110.9" cy="1831.0" r="4.1"/><circle cx="2112.9" cy="1834.1" r="4.1"/><circle cx="2110.3" cy="1838.9" r="4.1"/><circle cx="2121.3" cy="1732.3" r="4.1"/><circle cx="2121.8" cy="1734.8" r="4.1"/><circle cx="2122.0" cy="1739.1" r="4.1"/><circle cx="2122.6" cy="1745.3" r="4.1"/><circle cx="2119.9" cy="1747.1" r="4.1"/><circle cx="2123.1" cy="1752.0" r="4.1"/><circle cx="2124.8" cy="1756.6" r="4.1"/><circle cx="2125.5" cy="1759.2" r="4.1"/><circle cx="2126.7" cy="1763.8" r="4.1"/><circle cx="2128.2" cy="1767.5" r="4.1"/><circle cx="2129.1" cy="1773.6" r="4.1"/><circle cx="2129.5" cy="1777.6" r="4.1"/><circle cx="2130.8" cy="1782.3" r="4.1"/><circle cx="2130.9" cy="1786.0" r="4.1"/><circle cx="2131.4" cy="1788.8" r="4.1"/><circle cx="2134.3" cy="1792.8" r="4.1"/><circle cx="2133.2" cy="1797.1" r="4.1"/><circle cx="2134.4" cy="1803.6" r="4.1"/><circle cx="2134.6" cy="1806.8" r="4.1"/><circle cx="2134.9" cy="1811.5" r="4.1"/><circle cx="2136.5" cy="1815.5" r="4.1"/><circle cx="2138.8" cy="1820.9" r="4.1"/><circle cx="2138.6" cy="1823.6" r="4.1"/><circle cx="2139.2" cy="1828.7" r="4.1"/><circle cx="2140.1" cy="1831.9" r="4.1"/><circle cx="2141.1" cy="1836.7" r="4.1"/><circle cx="2141.7" cy="1841.9" r="4.1"/><circle cx="2142.1" cy="1846.1" r="4.1"/><circle cx="2143.8" cy="1849.5" r="4.1"/><circle cx="2143.3" cy="1853.0" r="4.1"/><circle cx="2144.7" cy="1858.3" r="4.1"/><circle cx="2145.4" cy="1862.8" r="4.1"/><circle cx="2129.3" cy="1729.4" r="4.1"/><circle cx="2127.6" cy="1734.5" r="4.1"/><circle cx="2126.6" cy="1739.2" r="4.1"/><circle cx="2131.6" cy="1744.4" r="4.1"/><circle cx="2131.8" cy="1748.1" r="4.1"/><circle cx="2133.1" cy="1752.0" r="4.1"/><circle cx="2130.4" cy="1757.0" r="4.1"/><circle cx="2134.0" cy="1760.6" r="4.1"/><circle cx="2134.3" cy="1764.5" r="4.1"/><circle cx="2134.6" cy="1768.4" r="4.1"/><circle cx="2136.7" cy="1773.3" r="4.1"/><circle cx="2135.1" cy="1778.5" r="4.1"/><circle cx="2135.8" cy="1781.5" r="4.1"/><circle cx="2152.4" cy="1686.1" r="4.1"/><circle cx="2151.2" cy="1691.0" r="4.1"/><circle cx="2151.8" cy="1694.8" r="4.1"/><circle cx="2152.7" cy="1699.1" r="4.1"/><circle cx="2152.7" cy="1705.4" r="4.1"/><circle cx="2152.9" cy="1709.4" r="4.1"/><circle cx="2151.4" cy="1713.7" r="4.1"/><circle cx="2153.5" cy="1717.9" r="4.1"/><circle cx="2151.8" cy="1721.5" r="4.1"/><circle cx="2151.7" cy="1726.1" r="4.1"/><circle cx="2150.1" cy="1730.8" r="4.1"/><circle cx="2152.5" cy="1735.6" r="4.1"/><circle cx="2152.4" cy="1738.7" r="4.1"/><circle cx="2151.3" cy="1743.0" r="4.1"/><circle cx="2150.5" cy="1748.9" r="4.1"/><circle cx="2151.2" cy="1751.3" r="4.1"/><circle cx="2149.2" cy="1756.4" r="4.1"/><circle cx="2150.1" cy="1760.9" r="4.1"/><circle cx="2150.0" cy="1763.6" r="4.1"/><circle cx="2149.5" cy="1767.9" r="4.1"/><circle cx="2147.9" cy="1772.1" r="4.1"/><circle cx="2149.0" cy="1778.2" r="4.1"/><circle cx="2148.1" cy="1782.0" r="4.1"/><circle cx="2146.9" cy="1787.4" r="4.1"/><circle cx="2150.9" cy="1789.5" r="4.1"/><circle cx="2146.0" cy="1794.1" r="4.1"/><circle cx="2146.6" cy="1799.0" r="4.1"/><circle cx="2150.2" cy="1802.4" r="4.1"/><circle cx="2148.3" cy="1806.1" r="4.1"/><circle cx="2146.1" cy="1811.4" r="4.1"/><circle cx="2150.0" cy="1814.7" r="4.1"/><circle cx="2150.3" cy="1819.4" r="4.1"/><circle cx="2150.1" cy="1823.1" r="4.1"/><circle cx="2147.4" cy="1827.8" r="4.1"/><circle cx="2147.8" cy="1833.0" r="4.1"/><circle cx="2150.6" cy="1839.0" r="4.1"/><circle cx="2151.2" cy="1840.5" r="4.1"/><circle cx="2151.8" cy="1845.3" r="4.1"/><circle cx="2156.1" cy="1780.9" r="4.1"/><circle cx="2157.7" cy="1786.0" r="4.1"/><circle cx="2154.7" cy="1790.8" r="4.1"/><circle cx="2158.3" cy="1795.3" r="4.1"/><circle cx="2157.4" cy="1798.7" r="4.1"/><circle cx="2157.8" cy="1802.1" r="4.1"/><circle cx="2160.6" cy="1807.5" r="4.1"/><circle cx="2157.7" cy="1811.0" r="4.1"/><circle cx="2156.0" cy="1815.7" r="4.1"/><circle cx="2155.9" cy="1819.2" r="4.1"/><circle cx="2156.4" cy="1823.8" r="4.1"/><circle cx="2158.1" cy="1827.6" r="4.1"/><circle cx="2154.6" cy="1833.4" r="4.1"/><circle cx="2156.0" cy="1836.1" r="4.1"/><circle cx="2157.1" cy="1841.6" r="4.1"/><circle cx="2155.0" cy="1845.3" r="4.1"/><circle cx="2162.2" cy="1739.2" r="4.1"/><circle cx="2166.0" cy="1743.4" r="4.1"/><circle cx="2165.0" cy="1745.5" r="4.1"/><circle cx="2164.5" cy="1750.8" r="4.1"/><circle cx="2164.2" cy="1754.8" r="4.1"/><circle cx="2163.3" cy="1758.0" r="4.1"/><circle cx="2165.3" cy="1762.9" r="4.1"/><circle cx="2165.9" cy="1765.3" r="4.1"/><circle cx="2167.2" cy="1771.6" r="4.1"/><circle cx="2167.4" cy="1774.4" r="4.1"/><circle cx="2167.8" cy="1779.1" r="4.1"/><circle cx="2164.8" cy="1783.8" r="4.1"/><circle cx="2164.5" cy="1787.3" r="4.1"/><circle cx="2167.4" cy="1792.1" r="4.1"/><circle cx="2165.9" cy="1797.9" r="4.1"/><circle cx="2167.3" cy="1800.0" r="4.1"/><circle cx="2167.3" cy="1804.8" r="4.1"/><circle cx="2167.9" cy="1809.3" r="4.1"/><circle cx="2168.1" cy="1813.0" r="4.1"/><circle cx="2167.4" cy="1818.2" r="4.1"/><circle cx="2168.6" cy="1821.6" r="4.1"/><circle cx="2169.3" cy="1826.2" r="4.1"/><circle cx="2173.3" cy="1781.6" r="4.1"/><circle cx="2171.9" cy="1785.5" r="4.1"/><circle cx="2174.5" cy="1790.3" r="4.1"/><circle cx="2173.9" cy="1795.6" r="4.1"/><circle cx="2174.0" cy="1798.4" r="4.1"/><circle cx="2174.4" cy="1802.5" r="4.1"/><circle cx="2173.0" cy="1807.5" r="4.1"/><circle cx="2175.2" cy="1811.4" r="4.1"/><circle cx="2175.1" cy="1814.3" r="4.1"/><circle cx="2175.7" cy="1819.8" r="4.1"/><circle cx="2178.1" cy="1763.5" r="4.1"/><circle cx="2179.7" cy="1769.9" r="4.1"/><circle cx="2179.4" cy="1774.2" r="4.1"/><circle cx="2181.9" cy="1780.7" r="4.1"/><circle cx="2184.1" cy="1783.1" r="4.1"/><circle cx="2183.9" cy="1787.3" r="4.1"/><circle cx="2184.8" cy="1791.6" r="4.1"/><circle cx="2184.2" cy="1797.4" r="4.1"/><circle cx="2185.3" cy="1800.7" r="4.1"/><circle cx="2182.6" cy="1733.1" r="4.1"/><circle cx="2184.7" cy="1736.8" r="4.1"/><circle cx="2181.0" cy="1741.9" r="4.1"/><circle cx="2182.6" cy="1746.9" r="4.1"/><circle cx="2184.8" cy="1751.2" r="4.1"/><circle cx="2183.7" cy="1756.0" r="4.1"/><circle cx="2202.9" cy="1674.3" r="4.1"/><circle cx="2199.2" cy="1678.9" r="4.1"/><circle cx="2198.7" cy="1684.8" r="4.1"/><circle cx="2194.9" cy="1692.6" r="4.1"/><circle cx="2196.4" cy="1696.7" r="4.1"/><circle cx="2194.3" cy="1702.4" r="4.1"/><circle cx="2190.5" cy="1706.9" r="4.1"/><circle cx="2188.8" cy="1708.5" r="4.1"/><circle cx="2191.1" cy="1711.6" r="4.1"/><circle cx="2193.4" cy="1718.4" r="4.1"/><circle cx="2194.8" cy="1720.5" r="4.1"/><circle cx="2194.3" cy="1726.0" r="4.1"/><circle cx="2196.4" cy="1728.9" r="4.1"/><circle cx="2204.2" cy="1689.4" r="4.1"/><circle cx="2203.5" cy="1694.0" r="4.1"/><circle cx="2200.9" cy="1698.0" r="4.1"/><circle cx="2204.6" cy="1701.4" r="4.1"/><circle cx="2203.3" cy="1705.4" r="4.1"/><circle cx="2204.3" cy="1708.3" r="4.1"/><circle cx="2202.0" cy="1714.3" r="4.1"/><circle cx="2202.4" cy="1717.9" r="4.1"/><circle cx="2202.6" cy="1722.2" r="4.1"/><circle cx="2204.8" cy="1727.2" r="4.1"/><circle cx="2203.0" cy="1729.9" r="4.1"/><circle cx="2206.0" cy="1735.0" r="4.1"/><circle cx="2204.7" cy="1739.3" r="4.1"/><circle cx="2205.4" cy="1742.4" r="4.1"/><circle cx="2202.3" cy="1748.0" r="4.1"/><circle cx="2205.9" cy="1751.3" r="4.1"/><circle cx="2204.8" cy="1755.9" r="4.1"/><circle cx="2202.4" cy="1760.1" r="4.1"/><circle cx="2205.2" cy="1763.8" r="4.1"/><circle cx="2203.6" cy="1768.3" r="4.1"/><circle cx="2204.7" cy="1772.0" r="4.1"/><circle cx="2207.0" cy="1777.2" r="4.1"/><circle cx="2206.8" cy="1782.9" r="4.1"/><circle cx="2205.9" cy="1785.9" r="4.1"/><circle cx="2208.5" cy="1789.8" r="4.1"/><circle cx="2208.0" cy="1794.7" r="4.1"/><circle cx="2208.0" cy="1800.4" r="4.1"/><circle cx="2208.8" cy="1802.6" r="4.1"/><circle cx="2209.2" cy="1807.0" r="4.1"/><circle cx="2215.2" cy="1677.2" r="4.1"/><circle cx="2213.6" cy="1682.0" r="4.1"/><circle cx="2215.3" cy="1685.7" r="4.1"/><circle cx="2217.6" cy="1688.1" r="4.1"/><circle cx="2216.6" cy="1691.1" r="4.1"/><circle cx="2217.4" cy="1696.2" r="4.1"/><circle cx="2215.1" cy="1700.1" r="4.1"/><circle cx="2214.0" cy="1703.2" r="4.1"/><circle cx="2212.8" cy="1708.7" r="4.1"/><circle cx="2215.1" cy="1714.3" r="4.1"/><circle cx="2212.2" cy="1717.5" r="4.1"/><circle cx="2212.9" cy="1722.0" r="4.1"/><circle cx="2214.9" cy="1726.2" r="4.1"/><circle cx="2214.8" cy="1731.6" r="4.1"/><circle cx="2210.7" cy="1736.2" r="4.1"/><circle cx="2214.7" cy="1739.3" r="4.1"/><circle cx="2211.5" cy="1742.1" r="4.1"/><circle cx="2213.9" cy="1747.7" r="4.1"/><circle cx="2211.3" cy="1751.8" r="4.1"/><circle cx="2213.9" cy="1756.6" r="4.1"/><circle cx="2210.1" cy="1762.0" r="4.1"/><circle cx="2212.9" cy="1765.3" r="4.1"/><circle cx="2212.6" cy="1768.4" r="4.1"/><circle cx="2213.6" cy="1773.3" r="4.1"/><circle cx="2214.9" cy="1776.1" r="4.1"/><circle cx="2214.7" cy="1782.0" r="4.1"/><circle cx="2214.2" cy="1785.5" r="4.1"/><circle cx="2215.8" cy="1790.2" r="4.1"/><circle cx="2215.7" cy="1793.7" r="4.1"/><circle cx="2217.1" cy="1797.0" r="4.1"/><circle cx="2218.7" cy="1800.7" r="4.1"/><circle cx="2217.4" cy="1745.6" r="4.1"/><circle cx="2218.7" cy="1750.3" r="4.1"/><circle cx="2218.8" cy="1755.1" r="4.1"/><circle cx="2219.8" cy="1759.9" r="4.1"/><circle cx="2221.6" cy="1763.2" r="4.1"/><circle cx="2219.6" cy="1768.6" r="4.1"/><circle cx="2223.9" cy="1772.6" r="4.1"/><circle cx="2223.4" cy="1775.6" r="4.1"/><circle cx="2223.2" cy="1780.1" r="4.1"/><circle cx="2222.7" cy="1782.1" r="4.1"/><circle cx="2220.9" cy="1788.7" r="4.1"/><circle cx="2224.6" cy="1792.3" r="4.1"/><circle cx="2221.8" cy="1796.6" r="4.1"/><circle cx="2222.8" cy="1798.6" r="4.1"/><circle cx="2222.5" cy="1804.6" r="4.1"/><circle cx="2223.9" cy="1808.6" r="4.1"/><circle cx="2225.6" cy="1811.5" r="4.1"/><circle cx="2223.7" cy="1815.7" r="4.1"/><circle cx="2226.0" cy="1819.8" r="4.1"/><circle cx="2225.0" cy="1824.3" r="4.1"/><circle cx="2224.5" cy="1828.1" r="4.1"/><circle cx="2225.9" cy="1832.3" r="4.1"/><circle cx="2227.2" cy="1837.0" r="4.1"/><circle cx="2226.3" cy="1841.5" r="4.1"/><circle cx="2227.1" cy="1846.2" r="4.1"/><circle cx="2228.3" cy="1850.1" r="4.1"/><circle cx="2230.9" cy="1854.7" r="4.1"/><circle cx="2231.7" cy="1858.6" r="4.1"/><circle cx="2230.9" cy="1862.8" r="4.1"/><circle cx="2232.7" cy="1866.5" r="4.1"/><circle cx="2232.8" cy="1870.3" r="4.1"/><circle cx="2235.4" cy="1875.4" r="4.1"/><circle cx="2236.5" cy="1878.7" r="4.1"/><circle cx="2234.9" cy="1883.2" r="4.1"/><circle cx="2235.7" cy="1887.7" r="4.1"/><circle cx="2238.5" cy="1893.0" r="4.1"/><circle cx="2236.5" cy="1894.6" r="4.1"/><circle cx="2235.9" cy="1900.6" r="4.1"/><circle cx="2235.1" cy="1904.7" r="4.1"/><circle cx="2240.0" cy="1909.6" r="4.1"/><circle cx="2240.2" cy="1912.5" r="4.1"/><circle cx="2238.0" cy="1916.9" r="4.1"/><circle cx="2241.2" cy="1922.1" r="4.1"/><circle cx="2243.2" cy="1926.7" r="4.1"/><circle cx="2241.7" cy="1931.4" r="4.1"/><circle cx="2222.8" cy="1832.3" r="4.1"/><circle cx="2221.3" cy="1836.5" r="4.1"/><circle cx="2221.1" cy="1840.6" r="4.1"/><circle cx="2225.6" cy="1843.8" r="4.1"/><circle cx="2222.3" cy="1848.8" r="4.1"/><circle cx="2224.9" cy="1852.7" r="4.1"/><circle cx="2224.8" cy="1856.6" r="4.1"/><circle cx="2227.7" cy="1861.7" r="4.1"/><circle cx="2228.0" cy="1864.6" r="4.1"/><circle cx="2229.0" cy="1866.0" r="4.1"/><circle cx="2234.6" cy="1869.6" r="4.1"/><circle cx="2236.4" cy="1874.6" r="4.1"/><circle cx="2236.9" cy="1876.2" r="4.1"/><circle cx="2238.2" cy="1880.4" r="4.1"/><circle cx="2238.8" cy="1885.2" r="4.1"/><circle cx="2239.4" cy="1887.0" r="4.1"/><circle cx="2239.3" cy="1889.3" r="4.1"/><circle cx="2240.8" cy="1894.0" r="4.1"/><circle cx="2245.1" cy="1898.9" r="4.1"/><circle cx="2245.9" cy="1902.7" r="4.1"/><circle cx="2245.9" cy="1907.4" r="4.1"/><circle cx="2244.4" cy="1910.9" r="4.1"/><circle cx="2245.8" cy="1915.4" r="4.1"/><circle cx="2268.2" cy="1538.6" r="4.1"/><circle cx="2269.0" cy="1542.6" r="4.1"/><circle cx="2267.6" cy="1546.4" r="4.1"/><circle cx="2267.9" cy="1551.5" r="4.1"/><circle cx="2267.8" cy="1555.0" r="4.1"/><circle cx="2266.7" cy="1559.3" r="4.1"/><circle cx="2267.6" cy="1563.8" r="4.1"/><circle cx="2265.0" cy="1567.3" r="4.1"/><circle cx="2267.5" cy="1571.1" r="4.1"/><circle cx="2256.7" cy="1618.3" r="4.1"/><circle cx="2254.5" cy="1622.6" r="4.1"/><circle cx="2255.4" cy="1626.3" r="4.1"/><circle cx="2256.1" cy="1631.9" r="4.1"/><circle cx="2255.9" cy="1635.1" r="4.1"/><circle cx="2255.5" cy="1639.6" r="4.1"/><circle cx="2255.2" cy="1643.3" r="4.1"/><circle cx="2256.6" cy="1647.7" r="4.1"/><circle cx="2256.5" cy="1653.4" r="4.1"/><circle cx="2256.4" cy="1657.0" r="4.1"/><circle cx="2255.2" cy="1661.2" r="4.1"/><circle cx="2254.8" cy="1664.4" r="4.1"/><circle cx="2257.2" cy="1669.5" r="4.1"/><circle cx="2257.7" cy="1672.3" r="4.1"/><circle cx="2257.4" cy="1678.3" r="4.1"/><circle cx="2256.3" cy="1682.0" r="4.1"/><circle cx="2255.7" cy="1686.4" r="4.1"/><circle cx="2255.5" cy="1688.8" r="4.1"/><circle cx="2256.4" cy="1696.8" r="4.1"/><circle cx="2255.7" cy="1699.5" r="4.1"/><circle cx="2255.5" cy="1704.0" r="4.1"/><circle cx="2256.3" cy="1708.2" r="4.1"/><circle cx="2266.5" cy="1622.1" r="4.1"/><circle cx="2269.1" cy="1668.4" r="4.1"/><circle cx="2265.9" cy="1722.6" r="4.1"/><circle cx="2251.4" cy="1719.7" r="4.1"/><circle cx="2252.5" cy="1725.3" r="4.1"/><circle cx="2251.6" cy="1730.0" r="4.1"/><circle cx="2249.3" cy="1734.4" r="4.1"/><circle cx="2251.4" cy="1738.5" r="4.1"/><circle cx="2250.1" cy="1742.5" r="4.1"/><circle cx="2249.3" cy="1747.0" r="4.1"/><circle cx="2252.3" cy="1751.6" r="4.1"/><circle cx="2249.2" cy="1754.0" r="4.1"/><circle cx="2249.9" cy="1759.4" r="4.1"/><circle cx="2250.0" cy="1761.8" r="4.1"/><circle cx="2251.2" cy="1766.9" r="4.1"/><circle cx="2249.8" cy="1772.4" r="4.1"/><circle cx="2249.4" cy="1776.0" r="4.1"/><circle cx="2249.8" cy="1781.2" r="4.1"/><circle cx="2250.7" cy="1784.5" r="4.1"/><circle cx="2250.3" cy="1790.1" r="4.1"/><circle cx="2251.7" cy="1793.2" r="4.1"/><circle cx="2250.5" cy="1796.6" r="4.1"/><circle cx="2250.6" cy="1801.1" r="4.1"/><circle cx="2250.4" cy="1805.5" r="4.1"/><circle cx="2249.0" cy="1809.2" r="4.1"/><circle cx="2251.2" cy="1814.1" r="4.1"/><circle cx="2248.5" cy="1818.8" r="4.1"/><circle cx="2250.6" cy="1821.3" r="4.1"/><circle cx="2249.6" cy="1824.6" r="4.1"/><circle cx="2250.0" cy="1828.2" r="4.1"/><circle cx="2248.7" cy="1831.8" r="4.1"/><circle cx="2250.2" cy="1835.1" r="4.1"/><circle cx="2249.1" cy="1840.3" r="4.1"/><circle cx="2254.2" cy="1845.7" r="4.1"/><circle cx="2254.5" cy="1848.7" r="4.1"/><circle cx="2255.1" cy="1853.7" r="4.1"/><circle cx="2255.4" cy="1857.8" r="4.1"/><circle cx="2258.0" cy="1861.5" r="4.1"/><circle cx="2258.2" cy="1865.5" r="4.1"/><circle cx="2257.1" cy="1868.9" r="4.1"/><circle cx="2258.3" cy="1874.0" r="4.1"/><circle cx="2259.1" cy="1877.9" r="4.1"/><circle cx="2259.2" cy="1881.7" r="4.1"/><circle cx="2260.6" cy="1886.5" r="4.1"/><circle cx="2261.5" cy="1891.7" r="4.1"/><circle cx="2263.4" cy="1896.3" r="4.1"/><circle cx="2265.0" cy="1781.1" r="4.1"/><circle cx="2263.0" cy="1786.2" r="4.1"/><circle cx="2264.3" cy="1789.6" r="4.1"/><circle cx="2264.4" cy="1794.9" r="4.1"/><circle cx="2262.3" cy="1799.6" r="4.1"/><circle cx="2266.5" cy="1803.3" r="4.1"/><circle cx="2265.3" cy="1806.8" r="4.1"/><circle cx="2264.6" cy="1810.1" r="4.1"/><circle cx="2266.1" cy="1813.9" r="4.1"/><circle cx="2264.7" cy="1820.0" r="4.1"/><circle cx="2265.9" cy="1823.6" r="4.1"/><circle cx="2268.7" cy="1829.0" r="4.1"/><circle cx="2267.0" cy="1832.4" r="4.1"/><circle cx="2268.3" cy="1835.1" r="4.1"/><circle cx="2267.9" cy="1841.0" r="4.1"/><circle cx="2267.6" cy="1845.2" r="4.1"/><circle cx="2269.0" cy="1850.9" r="4.1"/><circle cx="2268.7" cy="1852.7" r="4.1"/><circle cx="2269.3" cy="1857.9" r="4.1"/><circle cx="2268.2" cy="1861.0" r="4.1"/><circle cx="2268.5" cy="1865.2" r="4.1"/><circle cx="2270.6" cy="1871.5" r="4.1"/><circle cx="2269.6" cy="1873.1" r="4.1"/><circle cx="2271.6" cy="1879.6" r="4.1"/><circle cx="2271.3" cy="1883.5" r="4.1"/><circle cx="2274.6" cy="1769.4" r="4.1"/><circle cx="2274.2" cy="1772.4" r="4.1"/><circle cx="2277.3" cy="1776.7" r="4.1"/><circle cx="2275.2" cy="1779.9" r="4.1"/><circle cx="2276.3" cy="1785.6" r="4.1"/><circle cx="2274.4" cy="1790.6" r="4.1"/><circle cx="2275.6" cy="1792.6" r="4.1"/><circle cx="2276.1" cy="1799.2" r="4.1"/><circle cx="2276.0" cy="1801.9" r="4.1"/><circle cx="2276.2" cy="1806.5" r="4.1"/><circle cx="2274.7" cy="1810.4" r="4.1"/><circle cx="2273.1" cy="1814.9" r="4.1"/><circle cx="2272.9" cy="1816.9" r="4.1"/><circle cx="2274.3" cy="1822.8" r="4.1"/><circle cx="2274.9" cy="1826.0" r="4.1"/><circle cx="2274.3" cy="1829.9" r="4.1"/><circle cx="2275.3" cy="1833.7" r="4.1"/><circle cx="2276.3" cy="1837.5" r="4.1"/><circle cx="2277.8" cy="1841.6" r="4.1"/><circle cx="2276.6" cy="1845.5" r="4.1"/><circle cx="2276.0" cy="1849.0" r="4.1"/><circle cx="2276.0" cy="1854.6" r="4.1"/><circle cx="2275.3" cy="1857.7" r="4.1"/><circle cx="2280.1" cy="1862.0" r="4.1"/><circle cx="2277.1" cy="1866.0" r="4.1"/><circle cx="2275.4" cy="1868.4" r="4.1"/><circle cx="2277.9" cy="1874.4" r="4.1"/><circle cx="2277.9" cy="1878.3" r="4.1"/><circle cx="2276.8" cy="1881.9" r="4.1"/><circle cx="2279.8" cy="1884.8" r="4.1"/><circle cx="2278.8" cy="1889.2" r="4.1"/><circle cx="2276.1" cy="1894.3" r="4.1"/><circle cx="2276.8" cy="1898.5" r="4.1"/><circle cx="2279.9" cy="1902.3" r="4.1"/><circle cx="2278.7" cy="1905.8" r="4.1"/><circle cx="2267.3" cy="1537.6" r="4.1"/><circle cx="2268.7" cy="1543.5" r="4.1"/><circle cx="2271.4" cy="1546.1" r="4.1"/><circle cx="2267.3" cy="1551.7" r="4.1"/><circle cx="2265.7" cy="1558.9" r="4.1"/><circle cx="2267.2" cy="1562.5" r="4.1"/><circle cx="2267.5" cy="1564.8" r="4.1"/><circle cx="2268.8" cy="1569.2" r="4.1"/><circle cx="2268.1" cy="1573.6" r="4.1"/><circle cx="2268.1" cy="1622.4" r="4.1"/><circle cx="2269.8" cy="1667.9" r="4.1"/><circle cx="2265.9" cy="1721.5" r="4.1"/><circle cx="2551.5" cy="1568.6" r="4.1"/><circle cx="2549.4" cy="1572.0" r="4.1"/><circle cx="2744.6" cy="1591.5" r="4.1"/><circle cx="2744.6" cy="1609.3" r="4.1"/><circle cx="2743.6" cy="1662.0" r="4.1"/><circle cx="2811.2" cy="1596.3" r="4.1"/><circle cx="2809.5" cy="1620.6" r="4.1"/><circle cx="2811.2" cy="1625.6" r="4.1"/><circle cx="2811.2" cy="1652.3" r="4.1"/><circle cx="2872.7" cy="1561.2" r="4.1"/><circle cx="2871.8" cy="1566.2" r="4.1"/><circle cx="2872.1" cy="1569.8" r="4.1"/><circle cx="2870.4" cy="1572.8" r="4.1"/><circle cx="2870.3" cy="1578.3" r="4.1"/><circle cx="2871.4" cy="1583.3" r="4.1"/><circle cx="2870.7" cy="1611.0" r="4.1"/><circle cx="2870.7" cy="1625.6" r="4.1"/><circle cx="2871.1" cy="1658.8" r="4.1"/><circle cx="2870.4" cy="1663.7" r="4.1"/><circle cx="2870.5" cy="1666.1" r="4.1"/><circle cx="2870.7" cy="1670.5" r="4.1"/><circle cx="2871.0" cy="1674.0" r="4.1"/><circle cx="2867.7" cy="1678.9" r="4.1"/><circle cx="2870.1" cy="1682.3" r="4.1"/><circle cx="2870.8" cy="1686.3" r="4.1"/><circle cx="2869.8" cy="1690.7" r="4.1"/><circle cx="2553.2" cy="1623.3" r="4.1"/><circle cx="2551.7" cy="1627.2" r="4.1"/><circle cx="2550.3" cy="1632.1" r="4.1"/><circle cx="2550.3" cy="1635.2" r="4.1"/><circle cx="2551.4" cy="1639.1" r="4.1"/><circle cx="2547.8" cy="1644.1" r="4.1"/><circle cx="2548.8" cy="1650.1" r="4.1"/><circle cx="2549.0" cy="1653.3" r="4.1"/><circle cx="2548.6" cy="1656.8" r="4.1"/><circle cx="2547.3" cy="1663.0" r="4.1"/><circle cx="2549.7" cy="1666.2" r="4.1"/><circle cx="2550.5" cy="1671.4" r="4.1"/><circle cx="2548.0" cy="1674.9" r="4.1"/><circle cx="2550.5" cy="1680.8" r="4.1"/><circle cx="2548.9" cy="1684.9" r="4.1"/><circle cx="2551.1" cy="1689.0" r="4.1"/><circle cx="2549.8" cy="1692.8" r="4.1"/><circle cx="2550.8" cy="1695.9" r="4.1"/><circle cx="2550.1" cy="1700.4" r="4.1"/><circle cx="2393.5" cy="1716.4" r="4.1"/><circle cx="2391.9" cy="1720.7" r="4.1"/><circle cx="2393.7" cy="1723.9" r="4.1"/><circle cx="2395.3" cy="1729.7" r="4.1"/><circle cx="2395.0" cy="1732.9" r="4.1"/><circle cx="3055.0" cy="1551.8" r="4.1"/><circle cx="3055.0" cy="1668.6" r="4.1"/><circle cx="3470.8" cy="1412.1" r="4.1"/><circle cx="3468.4" cy="1417.0" r="4.1"/><circle cx="3468.9" cy="1421.2" r="4.1"/><circle cx="3469.3" cy="1424.3" r="4.1"/><circle cx="3469.5" cy="1428.0" r="4.1"/><circle cx="3471.2" cy="1432.3" r="4.1"/><circle cx="3468.7" cy="1436.9" r="4.1"/><circle cx="3471.1" cy="1439.5" r="4.1"/><circle cx="3468.6" cy="1442.2" r="4.1"/><circle cx="3468.8" cy="1445.7" r="4.1"/><circle cx="3470.9" cy="1449.9" r="4.1"/><circle cx="3469.5" cy="1453.6" r="4.1"/><circle cx="3470.1" cy="1456.1" r="4.1"/><circle cx="3470.6" cy="1460.6" r="4.1"/><circle cx="3469.0" cy="1464.1" r="4.1"/><circle cx="3467.4" cy="1468.7" r="4.1"/><circle cx="3470.1" cy="1471.9" r="4.1"/><circle cx="3469.1" cy="1475.4" r="4.1"/><circle cx="3470.3" cy="1477.3" r="4.1"/><circle cx="3469.8" cy="1483.7" r="4.1"/><circle cx="3470.0" cy="1486.0" r="4.1"/><circle cx="3470.8" cy="1490.2" r="4.1"/><circle cx="3470.3" cy="1491.6" r="4.1"/><circle cx="3470.7" cy="1497.1" r="4.1"/><circle cx="3470.0" cy="1500.0" r="4.1"/><circle cx="3469.3" cy="1522.1" r="4.1"/><circle cx="3186.1" cy="1599.0" r="4.1"/><circle cx="3185.4" cy="1603.1" r="4.1"/><circle cx="3185.6" cy="1606.7" r="4.1"/><circle cx="3186.8" cy="1610.9" r="4.1"/><circle cx="3184.2" cy="1613.4" r="4.1"/><circle cx="3184.5" cy="1617.9" r="4.1"/><circle cx="3184.0" cy="1621.1" r="4.1"/><circle cx="3186.4" cy="1625.0" r="4.1"/><circle cx="3183.8" cy="1629.4" r="4.1"/><circle cx="3188.9" cy="1631.8" r="4.1"/><circle cx="3184.3" cy="1635.4" r="4.1"/><circle cx="3186.8" cy="1638.2" r="4.1"/><circle cx="3186.3" cy="1642.7" r="4.1"/><circle cx="3187.1" cy="1646.4" r="4.1"/><circle cx="3184.8" cy="1649.5" r="4.1"/><circle cx="3186.0" cy="1653.4" r="4.1"/><circle cx="3184.3" cy="1655.4" r="4.1"/><circle cx="3185.7" cy="1660.2" r="4.1"/><circle cx="3187.8" cy="1664.1" r="4.1"/><circle cx="3187.7" cy="1667.8" r="4.1"/><circle cx="3186.2" cy="1671.3" r="4.1"/><circle cx="3185.6" cy="1675.6" r="4.1"/><circle cx="3184.5" cy="1678.6" r="4.1"/><circle cx="3187.4" cy="1681.3" r="4.1"/><circle cx="3185.4" cy="1685.7" r="4.1"/><circle cx="3088.4" cy="1623.7" r="4.1"/><circle cx="3089.5" cy="1627.6" r="4.1"/><circle cx="3088.8" cy="1631.9" r="4.1"/><circle cx="3088.8" cy="1635.0" r="4.1"/><circle cx="3088.9" cy="1639.3" r="4.1"/></g>
<path d="M2260.1,1773.7 V1882.6 M2263.7,1782.4 V1884.7 M2268.3,1840.9 V1893.4 M2274.3,1773.7 V1795.8 M2273.7,1814.9 V1834.9 M2274.7,1853.9 V1891.2 M2280.6,1871.3 V1902.1 M2281.5,1830.1 V1897.7 M2286.7,1814.9 V1854.4 M2289.3,1749.8 V1826.2 M2292.3,1793.2 V1824.0 M2298.5,1804.0 V1804.1 M2298.4,1823.6 V1854.4 M2303.1,1806.2 V1854.4 M2306.9,1808.4 V1832.7 M2312.6,1808.4 V1850.0 M2317.0,1810.5 V1858.7 M2321.2,1819.2 V1860.9 M2325.0,1801.9 V1850.0 M2329.1,1797.5 V1832.7 M2331.2,1747.7 V1778.5 M2334.2,1795.4 V1832.7 M2336.6,1834.4 V1865.2 M2338.8,1862.6 V1886.9 M2342.4,1836.6 V1858.7 M2347.3,1784.5 V1832.7 M2350.0,1812.7 V1854.4 M2353.2,1830.1 V1876.1 M2354.8,1851.7 V1891.2 M2360.9,1797.5 V1867.4 M2364.7,1795.4 V1854.4 M2368.8,1812.7 V1873.9 M2372.8,1795.4 V1869.6 M2375.6,1769.4 V1824.0 M2379.6,1797.5 V1865.2 M2382.1,1810.5 V1897.7 M2385.2,1797.5 V1819.7 M2387.6,1836.6 V1906.4 M2389.6,1749.8 V1789.3 M2392.7,1808.4 V1876.1 M2394.0,1719.5 V1733.0 M2394.1,1749.8 V1767.7 M2396.9,1804.0 V1871.7 M2398.6,1814.9 V1878.2 M2402.9,1825.7 V1897.7 M2408.1,1819.2 V1904.2 M2412.3,1814.9 V1886.9 M2416.9,1814.9 V1908.6 M2419.4,1786.7 V1876.1 M2423.5,1810.5 V1865.2 M2427.1,1801.9 V1863.1 M2430.0,1801.9 V1865.2 M2434.2,1797.5 V1843.5 M2436.3,1771.5 V1778.5 M2438.3,1795.4 V1832.7 M2440.4,1810.5 V1854.4 M2442.8,1849.6 V1865.2 M2446.9,1825.7 V1858.7 M2451.1,1808.4 V1854.4 M2455.6,1801.9 V1845.7 M2458.4,1788.9 V1843.5 M2461.1,1758.5 V1821.9 M2464.9,1749.8 V1847.9 M2468.9,1754.2 V1815.4 M2472.0,1747.7 V1806.7 M2474.3,1752.0 V1850.0 M2479.2,1760.7 V1852.2 M2482.6,1758.5 V1847.9 M2488.0,1760.7 V1845.7 M2492.1,1762.9 V1841.4 M2496.1,1765.0 V1830.5 M2500.3,1765.0 V1824.0 M2504.3,1762.9 V1811.0 M2508.9,1762.9 V1815.4 M2513.5,1762.9 V1811.0 M2517.9,1736.8 V1819.7 M2521.8,1736.8 V1821.9 M2527.0,1736.8 V1813.2 M2530.2,1741.2 V1798.0 M2547.8,1624.1 V1680.9 M2548.0,1697.8 V1697.8 M2547.8,1723.8 V1789.3 M2552.1,1736.8 V1800.2 M2555.6,1745.5 V1806.7 M2559.1,1745.5 V1813.2 M2563.3,1752.0 V1800.2 M2568.4,1684.8 V1717.8 M2568.3,1745.5 V1793.7 M2572.4,1728.2 V1800.2 M2577.2,1645.8 V1808.9 M2579.3,1689.1 V1806.7 M2574.5,1653.5 V1792.7 M2578.3,1649.1 V1805.7 M2583.8,1640.5 V1792.7 M2586.6,1709.8 V1779.7 M2592.3,1735.9 V1784.0 M2596.7,1753.2 V1792.7 M2599.6,1746.7 V1771.0 M2605.3,1748.9 V1781.9 M2609.0,1753.2 V1799.2 M2614.0,1761.9 V1812.2 M2617.6,1772.7 V1814.4 M2622.8,1783.6 V1812.2 M2625.0,1748.9 V1805.7 M2628.0,1757.5 V1844.7 M2633.1,1759.7 V1846.9 M2638.0,1764.0 V1814.4 M2640.1,1764.0 V1810.0 M2645.1,1774.9 V1810.0 M2647.7,1770.5 V1836.1 M2652.2,1768.4 V1836.1 M2656.9,1757.5 V1803.5 M2660.4,1733.7 V1823.1 M2663.2,1731.5 V1814.4 M2667.2,1748.9 V1803.5 M2672.1,1748.9 V1805.7 M2675.5,1733.7 V1814.4 M2679.7,1746.7 V1818.7 M2682.0,1742.4 V1827.4 M2686.7,1751.0 V1814.4 M2691.5,1748.9 V1814.4 M2695.6,1748.9 V1812.2 M2700.4,1761.9 V1810.0 M2704.3,1770.5 V1849.1 M2709.2,1722.9 V1803.5 M2713.2,1735.9 V1788.4 M2717.6,1748.9 V1784.0 M2721.9,1753.2 V1781.9 M2726.1,1740.2 V1777.5 M2730.5,1733.7 V1790.5 M2734.0,1727.2 V1784.0 M2737.5,1703.3 V1799.2 M2741.0,1707.7 V1810.0 M2745.2,1705.5 V1816.6 M2749.5,1712.0 V1784.0 M2754.6,1709.8 V1784.0 M2758.5,1701.2 V1779.7 M2762.4,1683.8 V1775.4 M2767.5,1701.2 V1784.0 M2771.1,1701.2 V1790.5 M2775.6,1682.7 V1682.8 M2775.5,1683.8 V1790.5 M2779.5,1705.5 V1749.3 M2779.2,1774.9 V1788.4 M2782.8,1744.5 V1805.7 M2787.1,1746.7 V1812.2 M2790.6,1744.5 V1803.5 M2795.1,1744.5 V1799.2 M2799.2,1675.2 V1803.5 M2804.3,1670.8 V1801.4 M2808.6,1696.8 V1732.0 M2811.3,1701.2 V1758.0 M2817.9,1692.5 V1738.5 M2821.3,1623.1 V1740.7 M2825.2,1618.8 V1740.7 M2830.6,1644.8 V1740.7 M2834.5,1660.0 V1749.3 M2838.8,1677.3 V1749.3 M2843.3,1683.8 V1771.0 M2847.5,1692.5 V1775.4 M2851.7,1722.9 V1779.7 M2855.4,1761.9 V1777.5 M2745.0,1594.9 V1595.0 M2744.6,1613.4 V1613.4 M2743.8,1666.5 V1666.5 M2811.0,1600.4 V1600.4 M2811.7,1624.2 V1624.2 M2811.5,1656.7 V1656.7 M2870.3,1588.4 V1588.4 M2870.6,1615.5 V1615.5 M2869.9,1629.6 V1629.6 M2870.6,1661.1 V1690.8 M2871.7,1744.5 V1823.1 M2875.0,1746.7 V1836.1 M2880.6,1761.9 V1857.7 M2884.6,1779.2 V1866.4 M2888.3,1731.5 V1857.7 M2885.0,1733.2 V1865.9 M2889.0,1731.0 V1805.2 M2894.2,1702.9 V1805.2 M2899.0,1698.5 V1790.0 M2902.0,1698.5 V1768.4 M2905.6,1754.9 V1820.4 M2909.2,1765.7 V1805.2 M2914.3,1763.6 V1818.2 M2917.2,1752.7 V1816.1 M2923.9,1696.3 V1733.7 M2922.9,1752.7 V1785.7 M2927.9,1713.7 V1729.3 M2928.5,1748.4 V1787.9 M2932.0,1715.9 V1725.0 M2932.6,1748.4 V1785.7 M2936.7,1750.5 V1798.7 M2939.1,1800.4 V1844.2 M2942.1,1763.6 V1844.2 M2947.2,1737.5 V1837.7 M2951.8,1759.2 V1835.6 M2956.2,1761.4 V1833.4 M2960.9,1750.5 V1824.7 M2964.0,1754.9 V1800.9 M2968.9,1754.9 V1822.6 M2971.3,1694.2 V1720.7 M2975.2,1735.4 V1816.1 M2980.4,1735.4 V1798.7 M2984.1,1737.5 V1794.4 M2985.6,1702.9 V1729.3 M2989.7,1737.5 V1783.5 M2993.1,1735.4 V1781.4 M2997.4,1737.5 V1783.5 M3001.4,1739.7 V1824.7 M3005.7,1748.4 V1824.7 M3010.6,1748.4 V1816.1 M3013.7,1720.2 V1733.7 M3016.9,1739.7 V1811.7 M3021.4,1739.7 V1803.1 M3024.6,1754.9 V1796.6 M3029.9,1759.2 V1792.2 M3033.4,1739.7 V1811.7 M3036.5,1752.7 V1809.6 M3040.1,1761.4 V1809.6 M3054.4,1672.5 V1672.5 M3054.9,1698.5 V1742.3 M3057.1,1700.7 V1766.2 M3060.3,1702.9 V1766.2 M3063.2,1711.5 V1792.2 M3066.4,1711.5 V1805.2 M3070.4,1700.7 V1757.5 M3072.5,1674.7 V1759.7 M3075.9,1689.8 V1768.4 M3078.9,1705.0 V1770.5 M3083.3,1715.9 V1770.5 M3086.5,1694.2 V1766.2 M3089.0,1629.1 V1633.9 M3089.1,1663.8 V1663.8 M3089.7,1672.5 V1764.0 M3092.7,1674.7 V1766.2 M3095.6,1692.0 V1766.2 M3099.7,1689.8 V1764.0 M3102.3,1689.8 V1764.0 M3104.8,1668.2 V1770.5 M3108.5,1670.3 V1768.4 M3111.7,1692.0 V1764.0 M3114.7,1694.2 V1764.0 M3119.8,1657.3 V1686.0 M3119.7,1702.9 V1764.0 M3123.1,1657.3 V1686.0 M3123.5,1705.0 V1764.0 M3126.7,1702.9 V1783.5 M3131.1,1728.9 V1787.9 M3136.0,1705.0 V1777.0 M3140.5,1694.2 V1774.9 M3144.8,1705.0 V1779.2 M3148.1,1670.3 V1777.0 M3152.5,1661.7 V1777.0 M3154.9,1657.3 V1774.9 M3159.0,1705.0 V1781.4 M3164.8,1735.4 V1796.6 M3167.7,1737.5 V1798.7 M3186.4,1603.1 V1673.0 M3185.2,1689.8 V1689.9 M3185.2,1735.4 V1735.4 M3186.4,1759.2 V1759.2 M3186.1,1774.4 V1774.4 M3187.5,1780.9 V1813.9 M3191.5,1713.7 V1764.0 M3196.8,1711.5 V1766.2 M3189.9,1650.4 V1814.3 M3194.2,1714.6 V1763.8 M3199.1,1712.3 V1759.2 M3204.3,1730.7 V1761.5 M3208.3,1714.6 V1775.3 M3213.6,1691.7 V1789.1 M3218.2,1689.4 V1750.1 M3222.3,1655.0 V1722.5 M3226.1,1652.7 V1722.5 M3230.7,1629.7 V1722.5 M3236.0,1625.1 V1740.9 M3241.0,1648.1 V1752.4 M3245.9,1671.0 V1745.5 M3250.0,1675.6 V1752.4 M3253.5,1684.8 V1752.4 M3259.5,1673.3 V1743.2 M3263.6,1661.8 V1727.1 M3267.5,1666.4 V1724.8 M3271.8,1586.1 V1722.5 M3275.6,1586.1 V1672.0 M3279.2,1613.6 V1672.0 M3283.1,1615.9 V1722.5 M3286.6,1675.6 V1734.0 M3291.2,1675.6 V1740.9 M3295.3,1696.3 V1731.7 M3300.3,1694.0 V1722.5 M3304.3,1641.2 V1743.2 M3307.2,1659.5 V1743.2 M3311.1,1661.8 V1717.9 M3316.4,1657.2 V1711.0 M3321.2,1655.0 V1715.6 M3323.6,1629.7 V1717.9 M3328.3,1664.1 V1715.6 M3332.3,1673.3 V1713.3 M3336.5,1666.4 V1713.3 M3341.1,1668.7 V1713.3 M3345.4,1643.5 V1711.0 M3351.3,1636.6 V1727.1 M3355.8,1636.6 V1727.1 M3359.7,1627.4 V1699.6 M3365.2,1650.4 V1713.3 M3368.6,1671.0 V1727.1 M3372.9,1652.7 V1724.8 M3377.6,1581.5 V1724.8 M3381.0,1659.5 V1727.1 M3384.6,1659.5 V1706.4 M3389.4,1671.0 V1708.7 M3393.6,1666.4 V1722.5 M3399.0,1638.9 V1722.5 M3403.5,1673.3 V1722.5 M3408.3,1666.4 V1727.1 M3413.2,1671.0 V1729.4 M3417.8,1659.5 V1722.5 M3421.6,1666.4 V1740.9 M3426.3,1666.4 V1743.2 M3430.5,1650.4 V1731.7 M3435.8,1622.8 V1727.1 M3440.0,1632.0 V1729.4 M3445.1,1680.2 V1736.3 M3449.1,1680.2 V1747.8 M3452.6,1570.0 V1745.5 M3457.7,1570.0 V1736.3 M3461.5,1659.5 V1736.3 M3466.2,1629.7 V1736.3 M3471.3,1570.0 V1722.5 M3476.1,1652.7 V1724.8 M3479.8,1652.7 V1752.4 M3483.7,1657.2 V1763.8 M3488.4,1677.9 V1763.8 M3492.9,1680.2 V1752.4 M3496.9,1648.1 V1752.4 M3502.5,1641.2 V1727.1 M3506.0,1632.0 V1717.9 M3511.0,1650.4 V1717.9 M3516.0,1593.0 V1717.9 M3521.1,1615.9 V1717.9 M3525.6,1583.8 V1717.9 M3527.8,1581.5 V1717.9" fill="none" stroke="#0000ff" stroke-width="8.2" stroke-linecap="round"/>
<path d="M360.0,425.8 L368.9,435.4 L377.9,457.6 L386.8,470.4 L395.7,488.0 L404.6,489.3 L413.6,496.9 L421.2,513.5 L430.2,530.1 L437.8,577.3 L446.2,593.1 L453.1,594.6 L461.5,595.1 L469.7,619.4 L476.1,647.4 L483.7,676.8 L491.4,694.6 L498.5,706.9 L504.9,722.2 L512.0,727.3 L518.7,771.2 L525.8,786.5 L532.2,810.7 L538.6,797.9 L544.9,818.4 L551.3,833.7 L557.7,838.8 L564.1,861.7 L570.2,883.7 L575.8,902.9 L582.4,900.8 L587.6,899.8 L593.2,915.6 L599.5,926.3 L604.6,928.4 L611.0,935.5 L616.1,952.6 L621.2,946.2 L627.1,934.7 L632.7,942.4 L637.8,959.5 L642.9,957.0 L648.0,959.7 L653.1,963.3 L658.2,950.1 L663.3,943.2 L667.7,927.9 L672.8,897.8 L677.9,887.6 L681.2,918.2 L686.3,974.3 L691.9,1034.2 L696.5,1072.5 L705.9,1106.9 L710.5,1106.9 L714.8,1129.9 L719.4,1121.0 L723.8,1135.0 L732.4,1125.3 L741.1,1135.0 L749.5,1148.5 L753.9,1142.6 L757.7,1141.4 L762.0,1169.5 L769.7,1157.6 L774.0,1163.7 L777.3,1162.7 L781.7,1167.8 L785.0,1203.5 L789.3,1186.1 L792.7,1185.6 L796.5,1205.3 L800.1,1204.0 L803.9,1194.3 L808.0,1197.6 L814.8,1212.9 L818.7,1218.8 L822.0,1209.1 L825.8,1219.3 L829.4,1221.3 L832.5,1190.0 L835.3,1079.0 L839.6,1038.2 L842.9,1043.3 L848.0,1135.1 L852.3,1210.4 L856.2,1200.9 L862.8,1218.8 L865.9,1215.5 L872.2,1256.3 L878.6,1257.6 L883.7,1253.0 L887.6,1257.0 L891.4,1017.8 L893.9,923.9 L897.8,925.4 L900.8,1017.8 L904.1,1236.6 L908.7,1238.4 L912.3,1241.7 L914.8,1017.8 L918.2,930.3 L921.2,932.3 L923.8,1017.8 L927.1,1280.0 L931.9,1296.9 L934.7,1053.5 L937.8,964.2 L941.1,966.0 L945.0,1271.6 L948.3,1058.6 L951.8,932.3 L955.2,933.6 L957.0,1028.0 L959.7,1252.4 L962.8,1265.2 L965.0,1296.9 L970.2,1274.0 L972.7,1271.4 L976.0,1281.1 L981.6,1286.7 L985.5,1299.5 L988.0,1306.6 L993.1,1305.9 L996.9,1319.9 L1000.8,1331.4 L1004.6,1348.0 L1009.7,1341.6 L1014.8,1345.4 L1019.4,1344.1 L1022.4,1355.6 L1026.3,1368.4 L1030.1,1368.4 L1033.9,1370.9 L1037.8,1376.0 L1040.3,1388.8 L1044.1,1393.9 L1046.7,1387.5 L1050.5,1379.8 L1054.3,1392.6 L1058.2,1404.1 L1062.0,1409.2 L1067.1,1421.9 L1070.4,1411.2 L1073.0,1419.4 L1076.0,1406.6 L1078.6,1416.8 L1082.4,1391.8 L1084.9,1401.5 L1088.8,1424.5 L1091.3,1419.9 L1095.2,1432.1 L1099.0,1441.1 L1104.1,1432.7 L1107.1,1415.6 L1109.2,1415.6 L1113.0,1424.5 L1115.6,1444.9 L1119.9,1458.9 L1124.0,1427.0 L1127.6,1456.4 L1131.6,1441.1 L1134.7,1429.6 L1138.5,1427.0 L1142.3,1432.7 L1146.2,1436.0 L1148.7,1432.1 L1152.6,1445.4 L1155.9,1420.7 L1158.2,1441.8 L1161.5,1412.5 L1166.6,1466.6 L1170.4,1461.5 L1175.5,1446.2 L1179.3,1459.7 L1183.2,1461.5 L1185.7,1470.4 L1188.3,1465.3 L1192.1,1498.5 L1196.7,1466.6 L1201.0,1478.1 L1204.8,1445.4 L1208.7,1490.8 L1212.5,1489.5 L1217.6,1505.6 L1222.7,1498.5 L1226.5,1504.8 L1231.1,1483.2 L1235.5,1510.0 L1239.8,1384.2 L1244.4,1501.0 L1248.2,1516.3 L1252.8,1527.8 L1256.6,1375.5 L1260.2,1524.0 L1263.8,1519.9 L1270.2,1521.9 L1275.3,1537.2 L1277.9,1524.5 L1280.4,1543.6 L1284.2,1509.7 L1288.1,1533.4 L1293.2,1555.1 L1298.3,1551.3 L1304.6,1538.5 L1308.5,1535.2 L1313.6,1542.3 L1318.7,1552.6 L1322.5,1544.9 L1327.6,1570.4 L1331.4,1555.1 L1336.5,1543.6 L1339.1,1555.1 L1342.1,1532.7 L1346.7,1555.1 L1351.3,1541.1 L1355.7,1567.9 L1358.2,1560.2 L1362.0,1580.6 L1368.4,1566.6 L1372.2,1583.2 L1377.3,1587.0 L1383.7,1581.9 L1385.0,1584.4 L1386.3,1591.3 L1387.5,1596.4 L1388.8,1592.0 L1390.1,1599.7 L1391.4,1599.9 L1392.7,1599.5 L1393.9,1600.3 L1395.2,1598.6 L1396.5,1602.4 L1397.8,1601.0 L1399.1,1600.4 L1400.3,1590.2 L1401.6,1586.3 L1402.9,1583.7 L1404.2,1593.7 L1405.4,1591.7 L1406.7,1602.3 L1408.1,1600.6 L1409.6,1594.5 L1411.0,1591.3 L1412.7,1597.3 L1414.3,1610.0 L1415.6,1608.5 L1416.9,1604.4 L1418.2,1603.6 L1419.5,1613.3 L1420.7,1622.5 L1422.0,1629.6 L1423.3,1619.9 L1424.5,1612.9 L1425.8,1603.6 L1427.1,1606.3 L1428.3,1610.5 L1429.6,1611.2 L1431.3,1595.9 L1433.0,1594.6 L1434.4,1597.4 L1435.9,1604.4 L1437.3,1606.1 L1438.6,1602.4 L1439.8,1603.9 L1441.1,1597.2 L1442.4,1599.3 L1443.7,1603.9 L1445.0,1610.0 L1446.7,1605.1 L1448.3,1601.0 L1450.1,1643.1 L1451.4,1633.1 L1452.7,1642.5 L1453.9,1627.0 L1455.2,1626.5 L1456.5,1619.9 L1457.7,1605.2 L1459.0,1607.4 L1460.3,1608.9 L1461.5,1605.6 L1462.8,1609.9 L1464.1,1609.8 L1465.3,1605.2 L1466.6,1602.3 L1467.9,1615.6 L1469.2,1617.1 L1470.4,1627.7 L1471.7,1635.5 L1473.0,1626.7 L1474.3,1620.8 L1475.6,1612.5 L1476.8,1618.0 L1478.1,1629.1 L1480.7,1474.7 L1484.0,1622.7 L1485.4,1626.3 L1486.9,1635.7 L1488.3,1636.7 L1489.6,1637.0 L1490.8,1626.7 L1492.1,1629.1 L1494.2,1648.2 L1495.6,1643.1 L1497.1,1637.1 L1498.5,1631.6 L1499.8,1625.9 L1501.1,1631.3 L1502.3,1624.9 L1503.6,1628.3 L1504.9,1626.0 L1506.5,1639.9 L1508.0,1646.9 L1509.5,1640.5 L1511.1,1641.4 L1512.6,1635.5 L1513.8,1639.0 L1515.1,1634.4 L1516.3,1639.2 L1517.6,1638.0 L1518.9,1652.5 L1520.2,1655.9 L1521.5,1653.5 L1522.8,1640.1 L1524.0,1627.6 L1525.3,1628.8 L1526.6,1624.0 L1527.9,1622.6 L1529.1,1633.4 L1530.4,1631.6 L1533.5,1386.7 L1536.8,1641.8 L1538.1,1644.1 L1539.3,1656.9 L1540.6,1655.9 L1541.9,1650.7 L1543.2,1652.9 L1544.4,1655.4 L1545.7,1650.7 L1547.0,1654.6 L1548.3,1663.3 L1549.5,1656.5 L1550.8,1662.2 L1552.1,1656.8 L1553.3,1648.9 L1554.6,1640.6 L1555.9,1651.5 L1557.2,1657.5 L1558.4,1655.2 L1559.7,1661.3 L1561.0,1664.8 L1562.3,1665.0 L1563.5,1660.3 L1564.8,1662.8 L1566.1,1657.1 L1567.4,1653.6 L1568.6,1657.5 L1569.9,1662.2 L1571.2,1655.6 L1572.5,1660.3 L1573.7,1663.2 L1575.0,1658.4 L1576.3,1655.9 L1577.6,1657.5 L1578.8,1660.9 L1580.1,1669.2 L1581.4,1667.3 L1582.7,1664.8 L1584.0,1661.7 L1585.2,1662.9 L1586.5,1661.0 L1587.8,1656.3 L1589.0,1664.6 L1590.3,1667.2 L1591.6,1669.9 L1592.9,1666.9 L1594.2,1663.5 L1595.4,1672.6 L1596.7,1663.5 L1598.0,1669.2 L1599.3,1670.2 L1600.5,1672.5 L1601.8,1666.6 L1603.1,1672.4 L1604.4,1675.2 L1605.6,1678.5 L1606.9,1682.7 L1608.2,1677.0 L1609.5,1675.0 L1610.7,1667.0 L1612.0,1662.2 L1613.3,1670.0 L1614.5,1667.0 L1615.8,1670.4 L1617.1,1672.4 L1618.4,1674.6 L1619.7,1671.1 L1620.9,1664.4 L1622.2,1667.3 L1623.5,1669.2 L1624.8,1664.7 L1626.0,1673.2 L1627.3,1667.3 L1628.6,1679.0 L1629.8,1673.6 L1631.1,1685.0 L1632.4,1686.5 L1633.7,1682.0 L1635.0,1673.1 L1636.3,1679.3 L1637.6,1673.7 L1638.8,1675.9 L1640.1,1677.2 L1641.3,1670.1 L1642.6,1667.3 L1643.9,1667.1 L1645.2,1676.9 L1646.5,1675.1 L1647.8,1677.6 L1649.2,1678.5 L1650.6,1680.1 L1652.0,1678.0 L1654.9,1555.1 L1658.5,1685.2 L1660.0,1680.7 L1661.0,1681.5 L1662.0,1683.0 L1663.0,1680.9 L1664.0,1680.4 L1665.0,1679.5 L1666.0,1684.0 L1667.0,1682.3 L1668.0,1680.4 L1669.0,1681.4 L1670.0,1684.8 L1671.0,1684.4 L1672.0,1686.0 L1673.0,1687.2 L1674.0,1681.6 L1675.0,1676.9 L1676.0,1676.1 L1677.0,1679.4 L1678.0,1673.4 L1679.0,1670.1 L1680.0,1668.3 L1681.0,1669.6 L1682.0,1671.0 L1683.0,1673.2 L1684.0,1673.3 L1685.0,1675.5 L1686.0,1677.0 L1687.0,1681.0 L1688.0,1680.4 L1689.0,1686.1 L1690.0,1686.2 L1691.0,1686.2 L1692.0,1688.2 L1693.0,1684.5 L1694.0,1684.1 L1695.0,1687.4 L1696.0,1680.3 L1697.0,1681.9 L1698.0,1682.0 L1699.0,1681.2 L1700.0,1676.6 L1701.0,1677.0 L1702.0,1679.4 L1703.0,1684.5 L1704.0,1683.7 L1705.0,1684.7 L1706.0,1679.1 L1707.0,1681.5 L1708.0,1682.9 L1709.0,1685.8 L1710.0,1683.3 L1711.0,1685.9 L1712.0,1684.6 L1713.0,1683.9 L1714.0,1684.9 L1715.0,1683.5 L1716.0,1686.8 L1717.0,1689.3 L1718.0,1685.8 L1719.0,1690.1 L1720.0,1684.9 L1721.0,1683.8 L1722.0,1685.6 L1723.0,1687.9 L1724.0,1685.8 L1725.0,1689.1 L1726.0,1691.4 L1727.0,1692.7 L1728.0,1695.1 L1729.0,1694.7 L1730.0,1688.6 L1731.0,1690.4 L1732.0,1691.2 L1733.0,1691.1 L1734.0,1687.3 L1735.0,1685.2 L1736.0,1689.0 L1737.0,1685.5 L1738.0,1685.3 L1739.0,1690.3 L1740.0,1686.2 L1741.0,1686.4 L1742.0,1683.3 L1743.0,1688.1 L1744.0,1683.9 L1745.0,1686.4 L1746.0,1683.1 L1747.0,1681.9 L1748.0,1682.7 L1749.0,1685.7 L1750.0,1687.5 L1751.0,1682.8 L1752.0,1687.0 L1753.0,1684.5 L1754.0,1684.1 L1755.0,1682.3 L1756.0,1683.6 L1757.0,1682.5 L1758.0,1686.5 L1759.0,1683.2 L1760.0,1681.2 L1761.0,1687.4 L1762.0,1687.5 L1763.0,1690.2 L1764.0,1684.8 L1765.0,1686.8 L1766.0,1687.3 L1767.0,1690.9 L1768.0,1690.1 L1769.0,1690.9 L1770.0,1687.8 L1771.0,1688.0 L1772.0,1692.4 L1773.0,1692.4 L1774.0,1687.8 L1775.0,1691.5 L1776.0,1693.5 L1777.0,1696.6 L1778.0,1696.1 L1779.0,1694.6 L1780.0,1694.3 L1781.0,1696.6 L1782.0,1695.4 L1783.0,1694.7 L1783.1,1690.8 L1784.3,1563.0 L1785.1,1564.0 L1786.3,1690.8 L1787.0,1686.5 L1788.0,1689.2 L1789.0,1691.8 L1789.3,1688.8 L1790.1,1660.0 L1790.9,1661.0 L1791.7,1688.8 L1792.0,1690.1 L1793.0,1693.7 L1794.0,1690.2 L1795.0,1693.8 L1796.0,1685.2 L1797.0,1686.7 L1798.0,1683.9 L1799.0,1685.6 L1800.0,1680.3 L1801.0,1677.2 L1802.0,1677.0 L1803.0,1678.4 L1804.0,1675.7 L1805.0,1671.3 L1806.0,1675.5 L1807.0,1682.6 L1808.0,1684.3 L1809.0,1682.0 L1810.0,1681.2 L1811.0,1681.1 L1812.0,1689.9 L1813.0,1688.3 L1814.0,1688.2 L1815.0,1692.7 L1816.0,1690.0 L1817.0,1695.5 L1818.0,1693.5 L1819.0,1691.8 L1820.0,1693.2 L1821.0,1694.8 L1822.0,1699.8 L1823.0,1698.7 L1824.0,1699.7 L1825.0,1697.0 L1826.0,1699.4 L1827.0,1699.5 L1828.0,1697.6 L1829.0,1699.3 L1830.0,1698.5 L1831.0,1699.8 L1832.0,1694.6 L1833.0,1698.4 L1834.0,1703.9 L1835.0,1698.4 L1836.0,1701.2 L1837.0,1698.4 L1838.0,1698.7 L1839.0,1700.8 L1840.0,1698.3 L1841.0,1695.7 L1842.0,1693.9 L1843.0,1693.5 L1844.0,1693.0 L1845.0,1689.7 L1846.0,1688.0 L1847.0,1686.4 L1848.0,1685.5 L1849.0,1687.5 L1850.0,1687.9 L1851.0,1689.5 L1852.0,1689.6 L1853.0,1690.8 L1854.0,1692.4 L1855.0,1692.0 L1856.0,1691.5 L1857.0,1691.0 L1858.0,1689.8 L1858.6,1690.2 L1859.6,1625.0 L1860.4,1626.0 L1861.4,1690.2 L1862.0,1695.3 L1863.0,1693.9 L1864.0,1693.1 L1865.0,1695.5 L1866.0,1692.2 L1867.0,1693.9 L1868.0,1693.2 L1869.0,1699.3 L1870.0,1701.8 L1871.0,1696.7 L1872.0,1695.4 L1873.0,1700.2 L1874.0,1697.3 L1875.0,1698.0 L1876.0,1697.4 L1877.0,1699.2 L1878.0,1700.4 L1879.0,1697.7 L1880.0,1698.3 L1881.0,1702.0 L1882.0,1703.1 L1883.0,1700.6 L1884.0,1708.0 L1885.0,1704.5 L1886.0,1702.5 L1887.0,1699.4 L1888.0,1699.1 L1889.0,1706.1 L1890.0,1707.9 L1891.0,1705.9 L1892.0,1707.1 L1893.0,1703.6 L1894.0,1702.1 L1895.0,1704.8 L1896.0,1699.6 L1897.0,1700.2 L1898.0,1703.0 L1899.0,1697.1 L1900.0,1700.7 L1901.0,1699.2 L1902.0,1697.5 L1903.0,1701.4 L1904.0,1696.5 L1905.0,1696.4 L1906.0,1693.9 L1907.0,1694.8 L1908.0,1691.6 L1909.0,1691.7 L1910.0,1690.5 L1911.0,1690.1 L1912.0,1691.6 L1913.0,1693.1 L1914.0,1691.0 L1915.0,1690.8 L1916.0,1688.2 L1917.0,1690.7 L1918.0,1690.8 L1919.0,1689.3 L1920.0,1686.5 L1921.0,1692.6 L1922.0,1692.6 L1923.0,1688.5 L1924.0,1692.2 L1925.0,1692.7 L1926.0,1689.7 L1927.0,1692.0 L1928.0,1692.3 L1929.0,1692.0 L1930.0,1692.2 L1931.0,1692.0 L1932.0,1696.3 L1933.0,1694.4 L1934.0,1693.9 L1935.0,1696.6 L1936.0,1698.4 L1937.0,1701.7 L1938.0,1702.8 L1939.0,1703.6 L1940.0,1696.7 L1941.0,1697.3 L1942.0,1701.8 L1943.0,1701.4 L1944.0,1701.9 L1945.0,1696.6 L1946.0,1697.2 L1947.0,1697.9 L1948.0,1701.6 L1949.0,1698.8 L1950.0,1698.7 L1951.0,1701.2 L1952.0,1701.3 L1953.0,1700.0 L1954.0,1696.3 L1955.0,1699.5 L1956.0,1694.9 L1957.0,1697.8 L1958.0,1700.6 L1959.0,1700.0 L1960.0,1697.3 L1961.0,1700.1 L1962.0,1700.9 L1963.0,1698.8 L1964.0,1697.5 L1965.0,1696.2 L1966.0,1698.0 L1967.0,1694.9 L1968.0,1694.3 L1969.0,1693.1 L1970.0,1693.1 L1971.0,1691.4 L1972.0,1690.4 L1973.0,1692.3 L1974.0,1689.7 L1975.0,1685.7 L1976.0,1690.7 L1977.0,1686.4 L1978.0,1687.8 L1979.0,1690.6 L1980.0,1693.0 L1981.0,1689.8 L1982.0,1689.7 L1983.0,1696.7 L1984.0,1699.0 L1985.0,1703.0 L1986.0,1705.0 L1987.0,1704.1 L1988.0,1704.7 L1989.0,1702.6 L1990.0,1704.5 L1991.0,1706.1 L1992.0,1703.7 L1993.0,1705.3 L1994.0,1705.7 L1995.0,1710.1 L1996.0,1708.0 L1997.0,1709.6 L1998.0,1709.0 L1999.0,1710.1 L2000.0,1715.0 L2001.0,1710.2 L2002.0,1709.4 L2003.0,1708.6 L2004.0,1706.2 L2005.0,1709.7 L2006.0,1707.0 L2007.0,1709.0 L2008.0,1709.6 L2009.0,1707.2 L2010.0,1709.6 L2011.0,1709.4 L2012.0,1709.2 L2013.0,1715.2 L2014.0,1709.5 L2015.0,1708.9 L2016.0,1705.3 L2017.0,1703.7 L2018.0,1705.1 L2019.0,1701.4 L2020.0,1698.0 L2021.0,1696.1 L2022.0,1698.5 L2023.0,1697.9 L2024.0,1701.9 L2025.0,1704.8 L2026.0,1702.3 L2027.0,1703.2 L2028.0,1700.5 L2029.0,1701.1 L2030.0,1695.7 L2031.0,1693.4 L2032.0,1699.5 L2033.0,1699.2 L2034.0,1699.2 L2035.0,1696.8 L2036.0,1694.1 L2037.0,1692.7 L2038.0,1694.9 L2039.0,1686.5 L2040.0,1683.4 L2041.0,1679.7 L2042.0,1679.9 L2043.0,1676.9 L2044.0,1679.9 L2045.0,1675.8 L2046.0,1679.8 L2047.0,1680.2 L2048.0,1677.1 L2049.0,1683.1 L2050.0,1685.5 L2050.5,1685.0 L2051.5,1592.0 L2052.3,1593.0 L2053.3,1685.0 L2054.0,1681.2 L2055.0,1683.6 L2056.0,1687.0 L2057.0,1687.9 L2058.0,1685.0 L2059.0,1684.7 L2060.0,1683.8 L2061.0,1680.2 L2062.0,1682.3 L2063.0,1681.0 L2064.0,1682.2 L2065.0,1690.6 L2066.0,1687.0 L2067.0,1691.7 L2068.0,1696.7 L2069.0,1697.6 L2070.0,1698.2 L2071.0,1700.3 L2072.0,1703.8 L2073.0,1701.1 L2074.0,1703.0 L2075.0,1702.4 L2076.0,1701.3 L2077.0,1700.4 L2078.0,1701.5 L2079.0,1702.6 L2080.0,1701.3 L2081.0,1703.1 L2082.0,1700.4 L2083.0,1701.0 L2084.0,1701.9 L2085.0,1700.1 L2086.0,1702.4 L2087.0,1701.0 L2088.0,1697.3 L2089.0,1696.0 L2090.0,1700.3 L2091.0,1697.5 L2092.0,1697.8 L2093.0,1701.5 L2094.0,1699.6 L2095.0,1701.3 L2096.0,1707.7 L2097.0,1706.3 L2098.0,1710.3 L2099.0,1705.4 L2100.0,1707.8 L2101.0,1708.6 L2102.0,1708.2 L2103.0,1709.6 L2104.0,1707.6 L2105.0,1707.4 L2106.0,1711.1 L2107.0,1709.5 L2108.0,1708.5 L2109.0,1709.2 L2110.0,1707.7 L2111.0,1713.6 L2112.0,1713.7 L2113.0,1711.4 L2114.0,1709.0 L2115.0,1713.3 L2116.0,1709.9 L2117.0,1712.6 L2118.0,1710.1 L2119.0,1710.2 L2120.0,1714.4 L2121.0,1713.1 L2122.0,1708.2 L2123.0,1707.9 L2124.0,1707.6 L2125.0,1703.7 L2126.0,1707.4 L2127.0,1706.8 L2128.0,1706.9 L2129.0,1707.4 L2130.0,1710.6 L2131.0,1710.7 L2132.0,1710.4 L2133.0,1710.9 L2134.0,1710.7 L2135.0,1713.0 L2136.0,1717.5 L2137.0,1716.8 L2138.0,1711.6 L2139.0,1715.1 L2140.0,1715.2 L2141.0,1715.1 L2142.0,1709.3 L2143.0,1711.1 L2144.0,1707.4 L2145.0,1704.7 L2146.0,1705.5 L2147.0,1708.0 L2148.0,1706.2 L2149.0,1707.1 L2150.0,1705.2 L2151.0,1705.8 L2152.0,1705.0 L2153.0,1710.2 L2154.0,1707.9 L2155.0,1709.8 L2156.0,1708.0 L2157.0,1709.9 L2158.0,1712.2 L2159.0,1717.0 L2160.0,1713.6 L2161.0,1709.7 L2162.0,1717.1 L2163.0,1717.7 L2164.0,1717.2 L2165.0,1715.3 L2166.0,1711.6 L2167.0,1717.1 L2168.0,1714.4 L2169.0,1717.9 L2170.0,1713.2 L2171.0,1714.9 L2172.0,1716.0 L2173.0,1714.1 L2174.0,1711.4 L2175.0,1715.9 L2176.0,1712.9 L2177.0,1715.7 L2178.0,1715.0 L2179.0,1719.0 L2180.0,1715.9 L2181.0,1717.2 L2182.0,1717.4 L2183.0,1718.6 L2184.0,1711.0 L2185.0,1713.2 L2186.0,1714.4 L2187.0,1716.9 L2188.0,1716.0 L2189.0,1716.7 L2190.0,1712.6 L2191.0,1715.6 L2192.0,1714.5 L2193.0,1713.2 L2194.0,1716.9 L2195.0,1711.1 L2196.0,1715.0 L2197.0,1714.3 L2198.0,1717.3 L2199.0,1714.2 L2200.0,1715.6 L2201.0,1718.1 L2202.0,1717.8 L2203.0,1715.3 L2204.0,1712.6 L2205.0,1715.3 L2206.0,1721.7 L2207.0,1716.9 L2208.0,1716.8 L2209.0,1716.8 L2210.0,1717.4 L2211.0,1719.1 L2212.0,1716.6 L2213.0,1721.4 L2214.0,1715.9 L2215.0,1719.2 L2216.0,1718.3 L2217.0,1716.8 L2218.0,1715.5 L2219.0,1717.4 L2220.0,1716.0 L2221.0,1715.8 L2222.0,1715.7 L2223.0,1711.6 L2224.0,1712.5 L2225.0,1712.5 L2226.0,1715.7 L2227.0,1715.3 L2228.0,1718.9 L2229.0,1716.8 L2230.0,1718.2 L2231.0,1718.7 L2232.0,1715.3 L2233.0,1710.7 L2234.0,1711.2 L2235.0,1714.7 L2236.0,1714.4 L2237.0,1713.0 L2238.0,1711.5 L2239.0,1714.2 L2240.0,1709.2 L2241.0,1712.2 L2242.0,1714.2 L2243.0,1709.9 L2244.0,1710.3 L2245.0,1714.7 L2246.0,1715.1 L2247.0,1707.7 L2248.0,1711.7 L2249.0,1710.0 L2250.0,1710.2 L2251.0,1708.8 L2252.0,1710.0 L2253.0,1706.5 L2254.0,1712.9 L2254.9,1709.8 L2255.5,1622.8 L2256.3,1623.8 L2256.9,1709.8 L2257.0,1714.3 L2258.0,1717.3 L2259.0,1712.8 L2260.0,1714.2 L2261.0,1712.4 L2261.0,1717.1 L2261.6,1641.8 L2262.4,1642.8 L2263.0,1712.4 L2263.0,1716.3 L2264.0,1717.9 L2265.0,1714.5 L2265.9,1714.7 L2266.9,1377.8 L2267.7,1378.8 L2268.7,1714.7 L2269.0,1721.2 L2270.0,1718.7 L2271.0,1720.6 L2272.0,1722.0 L2273.0,1720.1 L2274.0,1716.5 L2275.0,1716.5 L2276.0,1715.3 L2277.0,1717.2 L2278.0,1717.6 L2279.0,1720.2 L2280.0,1715.5 L2281.0,1716.7 L2282.0,1712.0 L2283.0,1715.9 L2284.0,1719.8 L2285.0,1716.5 L2286.0,1718.6 L2287.0,1717.6 L2288.0,1718.4 L2289.0,1717.1 L2290.0,1718.7 L2291.0,1713.2 L2291.8,1711.7 L2292.4,1615.4 L2293.2,1616.4 L2293.8,1711.7 L2294.0,1718.3 L2295.0,1716.4 L2296.0,1715.2 L2297.0,1712.2 L2297.4,1708.7 L2298.0,1640.4 L2298.0,1709.6 L2298.8,1641.4 L2299.4,1708.7 L2300.0,1711.3 L2301.0,1712.1 L2302.0,1708.0 L2303.0,1709.3 L2304.0,1710.2 L2305.0,1709.5 L2306.0,1712.9 L2307.0,1709.1 L2308.0,1708.7 L2309.0,1710.0 L2310.0,1712.2 L2311.0,1712.2 L2312.0,1714.1 L2313.0,1712.6 L2314.0,1712.3 L2315.0,1708.5 L2316.0,1713.4 L2317.0,1711.1 L2318.0,1711.1 L2319.0,1711.3 L2320.0,1710.4 L2321.0,1712.2 L2322.0,1706.9 L2323.0,1708.7 L2324.0,1710.9 L2325.0,1714.0 L2326.0,1707.1 L2327.0,1705.6 L2328.0,1705.3 L2329.0,1707.0 L2330.0,1705.1 L2331.0,1704.8 L2332.0,1702.4 L2333.0,1699.7 L2334.0,1700.1 L2335.0,1694.5 L2336.0,1696.5 L2337.0,1702.3 L2338.0,1697.3 L2339.0,1698.3 L2340.0,1698.5 L2341.0,1697.9 L2342.0,1694.2 L2343.0,1698.3 L2344.0,1698.2 L2345.0,1701.8 L2346.0,1701.9 L2347.0,1703.6 L2348.0,1702.6 L2349.0,1703.0 L2350.0,1704.7 L2351.0,1704.1 L2352.0,1711.0 L2353.0,1710.1 L2354.0,1714.0 L2355.0,1712.9 L2356.0,1713.0 L2357.0,1712.6 L2358.0,1713.4 L2359.0,1714.4 L2360.0,1712.2 L2361.0,1710.8 L2362.0,1715.5 L2363.0,1710.5 L2364.0,1705.3 L2365.0,1710.5 L2366.0,1709.5 L2367.0,1713.1 L2368.0,1712.3 L2369.0,1711.2 L2370.0,1710.7 L2371.0,1710.3 L2372.0,1713.2 L2373.0,1712.1 L2374.0,1711.8 L2375.0,1711.5 L2376.0,1710.1 L2377.0,1704.8 L2378.0,1701.2 L2379.0,1700.0 L2380.0,1702.2 L2381.0,1705.0 L2382.0,1700.2 L2383.0,1701.7 L2384.0,1702.6 L2385.0,1700.4 L2386.0,1696.0 L2387.0,1696.6 L2388.0,1693.4 L2389.0,1696.1 L2390.0,1697.6 L2391.0,1699.7 L2392.0,1699.3 L2393.0,1701.3 L2394.0,1701.6 L2395.0,1703.1 L2396.0,1698.4 L2397.0,1705.9 L2398.0,1705.1 L2399.0,1701.3 L2400.0,1704.9 L2401.0,1703.3 L2402.0,1708.4 L2403.0,1708.5 L2404.0,1712.4 L2405.0,1707.8 L2406.0,1708.6 L2407.0,1711.3 L2408.0,1711.3 L2409.0,1712.7 L2410.0,1713.4 L2411.0,1713.5 L2412.0,1714.2 L2413.0,1713.9 L2414.0,1712.5 L2415.0,1713.4 L2416.0,1714.8 L2417.0,1714.2 L2418.0,1710.3 L2419.0,1708.4 L2420.0,1708.7 L2421.0,1711.2 L2422.0,1710.4 L2423.0,1707.0 L2424.0,1708.5 L2425.0,1706.7 L2426.0,1709.7 L2427.0,1711.4 L2428.0,1710.2 L2429.0,1712.8 L2430.0,1708.2 L2431.0,1707.3 L2432.0,1704.9 L2433.0,1705.2 L2434.0,1706.0 L2435.0,1701.7 L2436.0,1703.3 L2437.0,1698.8 L2438.0,1700.3 L2439.0,1701.8 L2440.0,1703.9 L2440.4,1702.7 L2440.9,1404.2 L2441.1,1405.2 L2441.6,1702.7 L2442.0,1707.2 L2443.0,1710.6 L2444.0,1706.6 L2445.0,1705.9 L2446.0,1707.6 L2447.0,1709.2 L2448.0,1707.9 L2449.0,1710.6 L2450.0,1710.2 L2451.0,1705.5 L2452.0,1706.0 L2453.0,1707.7 L2454.0,1707.4 L2455.0,1707.0 L2456.0,1703.0 L2457.0,1708.7 L2458.0,1704.9 L2459.0,1704.8 L2460.0,1707.1 L2461.0,1709.3 L2462.0,1708.3 L2463.0,1712.8 L2464.0,1709.5 L2465.0,1710.1 L2466.0,1708.6 L2467.0,1713.5 L2468.0,1709.5 L2469.0,1709.9 L2470.0,1713.7 L2471.0,1709.9 L2472.0,1711.6 L2473.0,1708.9 L2474.0,1713.1 L2475.0,1711.2 L2476.0,1715.4 L2477.0,1716.5 L2478.0,1714.2 L2479.0,1712.7 L2480.0,1714.1 L2481.0,1713.6 L2482.0,1714.4 L2483.0,1716.2 L2484.0,1709.3 L2485.0,1714.8 L2486.0,1718.2 L2487.0,1715.8 L2488.0,1718.3 L2489.0,1714.8 L2490.0,1714.1 L2491.0,1707.6 L2492.0,1711.8 L2493.0,1708.5 L2494.0,1711.5 L2495.0,1708.6 L2496.0,1707.9 L2497.0,1707.1 L2498.0,1704.9 L2499.0,1708.6 L2500.0,1706.3 L2501.0,1702.9 L2502.0,1705.9 L2503.0,1706.6 L2504.0,1699.2 L2505.0,1701.1 L2506.0,1705.9 L2507.0,1702.6 L2508.0,1705.1 L2509.0,1704.5 L2510.0,1707.3 L2511.0,1700.9 L2512.0,1706.1 L2513.0,1705.0 L2514.0,1702.5 L2515.0,1704.8 L2516.0,1702.3 L2517.0,1697.6 L2518.0,1703.4 L2519.0,1699.2 L2520.0,1698.5 L2521.0,1701.4 L2522.0,1699.2 L2523.0,1697.0 L2524.0,1701.1 L2525.0,1701.4 L2526.0,1698.7 L2527.0,1702.7 L2528.0,1705.5 L2529.0,1707.2 L2530.0,1700.0 L2531.0,1697.5 L2532.0,1700.0 L2533.0,1699.0 L2534.0,1698.4 L2534.8,1697.2 L2535.3,1628.0 L2535.5,1629.0 L2536.0,1697.2 L2536.0,1700.2 L2537.0,1692.3 L2538.0,1699.5 L2538.7,1696.5 L2539.2,1473.1 L2539.4,1474.1 L2539.9,1696.5 L2540.0,1698.6 L2541.0,1698.7 L2542.0,1696.0 L2542.0,1700.0 L2542.5,997.0 L2542.7,998.0 L2543.2,1696.0 L2544.0,1695.0 L2545.0,1696.0 L2546.0,1697.4 L2546.6,1695.2 L2547.1,1543.5 L2547.3,1544.5 L2547.8,1695.2 L2548.0,1698.0 L2548.4,1694.9 L2548.9,1654.0 L2549.1,1655.0 L2549.6,1694.9 L2550.0,1695.8 L2551.0,1695.9 L2552.0,1691.4 L2553.0,1694.6 L2554.0,1696.3 L2555.0,1693.1 L2556.0,1697.2 L2557.0,1688.9 L2558.0,1691.0 L2559.0,1692.9 L2560.0,1692.1 L2561.0,1695.3 L2562.0,1695.8 L2563.0,1695.3 L2564.0,1696.4 L2565.0,1692.2 L2566.0,1689.1 L2567.0,1694.0 L2568.0,1695.9 L2569.0,1693.7 L2570.0,1698.4 L2571.0,1699.1 L2572.0,1700.4 L2573.0,1700.8 L2574.0,1703.0 L2575.0,1702.5 L2576.0,1700.4 L2577.0,1702.6 L2578.0,1700.2 L2579.0,1699.0 L2580.0,1698.8 L2581.0,1700.0 L2582.0,1698.2 L2583.0,1697.5 L2584.0,1696.9 L2585.0,1697.9 L2586.0,1697.3 L2587.0,1694.9 L2588.0,1694.7 L2589.0,1695.1 L2590.0,1693.0 L2591.0,1689.8 L2592.0,1691.0 L2593.0,1694.3 L2594.0,1690.6 L2595.0,1687.0 L2596.0,1690.2 L2597.0,1688.4 L2598.0,1688.9 L2599.0,1687.1 L2600.0,1686.7 L2601.0,1688.4 L2602.0,1688.2 L2603.0,1685.8 L2604.0,1684.6 L2605.0,1688.4 L2606.0,1687.8 L2607.0,1690.3 L2608.0,1687.0 L2609.0,1691.3 L2610.0,1690.1 L2611.0,1689.1 L2612.0,1688.5 L2613.0,1696.1 L2614.0,1698.9 L2615.0,1701.5 L2616.0,1698.1 L2617.0,1698.4 L2618.0,1701.4 L2619.0,1695.1 L2619.1,1696.2 L2619.6,1656.7 L2619.8,1657.7 L2620.3,1696.2 L2621.0,1700.8 L2622.0,1699.4 L2623.0,1694.2 L2624.0,1697.8 L2624.6,1695.3 L2625.1,1640.4 L2625.3,1641.4 L2625.8,1695.3 L2626.0,1695.3 L2627.0,1697.8 L2628.0,1696.2 L2629.0,1694.6 L2630.0,1697.9 L2631.0,1694.1 L2632.0,1696.7 L2633.0,1701.5 L2634.0,1697.5 L2635.0,1697.1 L2636.0,1698.1 L2637.0,1696.5 L2638.0,1699.2 L2639.0,1697.9 L2640.0,1693.8 L2641.0,1697.7 L2642.0,1696.7 L2643.0,1692.4 L2644.0,1698.6 L2645.0,1696.0 L2646.0,1694.8 L2647.0,1695.6 L2648.0,1694.5 L2649.0,1692.0 L2650.0,1694.4 L2651.0,1687.4 L2652.0,1688.9 L2653.0,1691.4 L2654.0,1689.6 L2655.0,1691.9 L2656.0,1690.3 L2657.0,1691.2 L2658.0,1687.2 L2659.0,1686.3 L2660.0,1686.7 L2661.0,1687.4 L2662.0,1689.9 L2663.0,1689.7 L2664.0,1687.4 L2665.0,1686.0 L2666.0,1688.1 L2667.0,1687.4 L2668.0,1687.6 L2669.0,1695.4 L2670.0,1690.9 L2671.0,1695.0 L2672.0,1692.8 L2673.0,1696.8 L2674.0,1694.1 L2675.0,1699.0 L2676.0,1698.8 L2677.0,1699.0 L2678.0,1700.5 L2679.0,1699.1 L2680.0,1697.3 L2681.0,1697.0 L2682.0,1694.6 L2683.0,1697.0 L2684.0,1699.5 L2685.0,1695.7 L2686.0,1696.6 L2687.0,1699.4 L2688.0,1703.1 L2689.0,1697.7 L2690.0,1695.7 L2691.0,1694.6 L2692.0,1694.3 L2693.0,1690.2 L2694.0,1692.2 L2695.0,1690.6 L2696.0,1693.8 L2697.0,1690.0 L2698.0,1690.6 L2699.0,1691.9 L2700.0,1691.0 L2701.0,1692.6 L2702.0,1692.1 L2703.0,1689.1 L2704.0,1688.7 L2705.0,1687.0 L2706.0,1684.5 L2707.0,1690.3 L2708.0,1689.8 L2709.0,1689.4 L2710.0,1689.7 L2711.0,1691.5 L2712.0,1691.9 L2713.0,1691.4 L2714.0,1691.5 L2715.0,1688.3 L2716.0,1689.0 L2717.0,1688.7 L2718.0,1689.9 L2719.0,1690.0 L2720.0,1689.5 L2721.0,1691.3 L2722.0,1691.9 L2723.0,1686.7 L2724.0,1687.5 L2725.0,1689.3 L2726.0,1687.0 L2727.0,1683.0 L2728.0,1683.1 L2729.0,1682.1 L2730.0,1679.8 L2730.7,1677.0 L2731.2,1673.0 L2731.4,1674.0 L2731.9,1677.0 L2732.0,1676.5 L2733.0,1678.3 L2734.0,1676.7 L2735.0,1677.9 L2736.0,1677.2 L2737.0,1675.9 L2738.0,1679.1 L2739.0,1679.4 L2740.0,1677.0 L2741.0,1678.5 L2742.0,1680.6 L2743.0,1681.0 L2743.1,1677.4 L2743.6,1673.0 L2743.8,1674.0 L2744.3,1677.4 L2745.0,1677.7 L2746.0,1679.5 L2747.0,1682.0 L2748.0,1681.2 L2749.0,1679.2 L2750.0,1682.4 L2751.0,1682.1 L2752.0,1681.6 L2753.0,1679.5 L2754.0,1678.8 L2755.0,1681.5 L2756.0,1678.4 L2757.0,1679.8 L2758.0,1680.2 L2759.0,1681.7 L2760.0,1676.8 L2761.0,1678.2 L2762.0,1680.5 L2763.0,1679.3 L2764.0,1678.9 L2765.0,1677.9 L2766.0,1680.8 L2767.0,1679.3 L2768.0,1677.3 L2769.0,1678.8 L2770.0,1678.2 L2771.0,1676.8 L2772.0,1674.3 L2773.0,1675.3 L2774.0,1675.1 L2775.0,1675.1 L2776.0,1675.3 L2777.0,1675.5 L2778.0,1673.4 L2779.0,1671.1 L2780.0,1673.8 L2781.0,1671.5 L2782.0,1669.2 L2783.0,1669.9 L2784.0,1674.9 L2785.0,1672.8 L2786.0,1671.3 L2787.0,1675.3 L2788.0,1669.4 L2789.0,1674.2 L2790.0,1674.7 L2791.0,1677.0 L2792.0,1680.5 L2793.0,1680.6 L2794.0,1676.9 L2795.0,1675.6 L2796.0,1677.4 L2797.0,1675.2 L2798.0,1679.3 L2799.0,1676.6 L2800.0,1675.7 L2801.0,1674.4 L2802.0,1674.6 L2803.0,1672.4 L2804.0,1669.9 L2805.0,1675.1 L2806.0,1673.3 L2807.0,1674.8 L2808.0,1672.4 L2809.0,1675.5 L2810.0,1676.3 L2811.0,1675.1 L2812.0,1675.0 L2813.0,1679.0 L2814.0,1676.3 L2815.0,1681.4 L2816.0,1675.7 L2817.0,1676.6 L2818.0,1675.2 L2819.0,1675.1 L2820.0,1676.2 L2821.0,1676.2 L2822.0,1676.3 L2823.0,1672.6 L2824.0,1675.3 L2825.0,1673.4 L2826.0,1676.6 L2827.0,1675.0 L2828.0,1677.5 L2829.0,1674.1 L2830.0,1672.7 L2831.0,1674.6 L2832.0,1673.3 L2833.0,1672.4 L2834.0,1673.6 L2835.0,1671.1 L2836.0,1675.0 L2837.0,1673.2 L2838.0,1673.9 L2839.0,1672.8 L2840.0,1674.2 L2841.0,1673.6 L2842.0,1675.3 L2843.0,1673.3 L2844.0,1675.2 L2845.0,1670.2 L2846.0,1673.2 L2847.0,1672.8 L2848.0,1672.9 L2849.0,1675.2 L2850.0,1671.5 L2851.0,1673.7 L2852.0,1675.8 L2853.0,1677.3 L2854.0,1674.7 L2855.0,1672.8 L2855.3,1669.4 L2855.8,1345.6 L2856.0,1346.6 L2856.5,1669.4 L2857.0,1669.9 L2858.0,1671.3 L2859.0,1667.9 L2860.0,1673.9 L2861.0,1675.6 L2861.5,1667.4 L2862.0,1285.3 L2862.2,1286.3 L2862.7,1667.4 L2863.0,1667.4 L2864.0,1670.3 L2864.3,1666.5 L2864.8,1286.7 L2865.0,1287.7 L2865.5,1666.5 L2866.0,1667.3 L2866.3,1665.8 L2866.8,1333.0 L2867.0,1334.0 L2867.5,1665.8 L2868.0,1669.0 L2869.0,1667.1 L2869.9,1664.6 L2870.4,1647.0 L2870.6,1648.0 L2871.1,1664.6 L2872.0,1668.7 L2873.0,1667.5 L2874.0,1670.0 L2875.0,1668.8 L2876.0,1665.2 L2877.0,1664.7 L2878.0,1666.3 L2879.0,1667.7 L2880.0,1664.4 L2881.0,1661.7 L2882.0,1662.2 L2883.0,1664.5 L2884.0,1659.6 L2885.0,1656.0 L2886.0,1655.5 L2887.0,1654.2 L2888.0,1648.5 L2889.0,1647.3 L2890.0,1647.1 L2891.0,1647.3 L2892.0,1649.6 L2893.0,1652.8 L2894.0,1652.6 L2895.0,1654.1 L2896.0,1655.4 L2897.0,1655.2 L2898.0,1657.5 L2898.0,1658.5 L2898.5,1602.0 L2898.7,1603.0 L2899.2,1657.5 L2899.8,1658.4 L2900.3,1601.8 L2900.5,1602.8 L2901.0,1658.4 L2901.0,1658.4 L2902.0,1657.7 L2903.0,1659.1 L2904.0,1661.1 L2905.0,1662.6 L2906.0,1663.4 L2907.0,1660.2 L2908.0,1665.4 L2909.0,1664.5 L2910.0,1663.2 L2911.0,1661.7 L2912.0,1664.7 L2913.0,1662.7 L2914.0,1660.9 L2915.0,1661.8 L2916.0,1661.8 L2917.0,1661.1 L2918.0,1662.2 L2919.0,1662.3 L2920.0,1660.9 L2921.0,1661.0 L2922.0,1662.9 L2923.0,1660.5 L2924.0,1662.8 L2925.0,1660.0 L2926.0,1661.4 L2927.0,1659.9 L2928.0,1656.9 L2928.0,1657.1 L2928.5,1636.0 L2928.7,1637.0 L2929.2,1657.1 L2930.0,1658.3 L2931.0,1658.4 L2932.0,1660.9 L2932.4,1656.1 L2932.9,1630.0 L2933.1,1631.0 L2933.6,1656.1 L2934.0,1659.3 L2935.0,1658.0 L2936.0,1656.4 L2936.1,1655.3 L2936.6,1647.0 L2936.8,1648.0 L2937.3,1655.3 L2938.0,1658.9 L2939.0,1656.1 L2940.0,1655.8 L2941.0,1654.5 L2942.0,1655.3 L2943.0,1653.9 L2944.0,1654.1 L2945.0,1656.0 L2946.0,1655.3 L2947.0,1654.7 L2948.0,1653.9 L2949.0,1652.9 L2950.0,1654.3 L2951.0,1654.7 L2952.0,1655.1 L2953.0,1654.0 L2954.0,1652.7 L2955.0,1652.1 L2956.0,1652.5 L2957.0,1655.8 L2958.0,1656.5 L2959.0,1654.5 L2960.0,1653.2 L2961.0,1654.2 L2962.0,1656.2 L2963.0,1658.0 L2964.0,1655.5 L2965.0,1655.9 L2966.0,1654.0 L2967.0,1650.9 L2968.0,1653.8 L2969.0,1651.1 L2970.0,1652.2 L2971.0,1651.9 L2972.0,1652.2 L2973.0,1651.4 L2974.0,1651.1 L2975.0,1652.1 L2976.0,1649.5 L2977.0,1650.4 L2978.0,1646.4 L2979.0,1645.6 L2980.0,1646.3 L2981.0,1645.3 L2982.0,1645.6 L2983.0,1647.7 L2984.0,1644.8 L2985.0,1643.7 L2986.0,1644.9 L2987.0,1643.4 L2988.0,1641.7 L2989.0,1641.0 L2990.0,1640.2 L2991.0,1638.2 L2992.0,1638.7 L2993.0,1641.3 L2994.0,1644.3 L2995.0,1644.7 L2996.0,1643.9 L2997.0,1643.8 L2998.0,1645.0 L2999.0,1645.7 L2999.4,1645.2 L2999.9,1630.0 L3000.1,1631.0 L3000.6,1645.2 L3001.0,1643.6 L3002.0,1645.8 L3003.0,1645.2 L3004.0,1645.3 L3005.0,1641.9 L3006.0,1643.9 L3007.0,1644.2 L3008.0,1642.0 L3008.4,1641.6 L3008.9,1633.0 L3009.1,1634.0 L3009.6,1641.6 L3010.0,1643.4 L3011.0,1642.8 L3012.0,1643.8 L3013.0,1643.1 L3014.0,1643.1 L3015.0,1646.3 L3016.0,1644.2 L3017.0,1648.3 L3018.0,1647.4 L3019.0,1644.6 L3020.0,1645.5 L3021.0,1646.8 L3022.0,1648.9 L3023.0,1645.1 L3024.0,1647.2 L3025.0,1645.6 L3026.0,1647.4 L3027.0,1646.4 L3028.0,1645.7 L3029.0,1641.9 L3030.0,1644.5 L3031.0,1643.7 L3032.0,1643.0 L3033.0,1642.0 L3034.0,1642.3 L3035.0,1642.1 L3036.0,1640.5 L3037.0,1640.9 L3038.0,1642.7 L3039.0,1641.4 L3040.0,1639.1 L3041.0,1637.1 L3042.0,1641.0 L3042.6,1636.3 L3043.1,1260.3 L3043.3,1261.3 L3043.8,1636.3 L3044.0,1637.7 L3045.0,1636.7 L3045.4,1634.9 L3045.9,1330.0 L3046.1,1331.0 L3046.6,1634.9 L3047.0,1638.0 L3048.0,1635.5 L3048.3,1633.4 L3048.8,1297.3 L3049.0,1298.3 L3049.5,1633.4 L3050.0,1634.3 L3051.0,1635.0 L3052.0,1633.9 L3052.3,1631.4 L3052.8,1280.2 L3053.0,1281.2 L3053.5,1631.4 L3054.0,1635.0 L3055.0,1634.2 L3056.0,1630.6 L3057.0,1627.5 L3058.0,1631.0 L3059.0,1630.2 L3060.0,1630.8 L3061.0,1630.7 L3062.0,1629.9 L3063.0,1629.8 L3064.0,1629.3 L3065.0,1628.3 L3066.0,1627.1 L3067.0,1626.5 L3068.0,1627.1 L3069.0,1629.0 L3070.0,1627.1 L3071.0,1624.6 L3072.0,1624.4 L3073.0,1623.1 L3074.0,1624.0 L3075.0,1622.4 L3076.0,1621.8 L3077.0,1621.5 L3078.0,1619.6 L3079.0,1620.1 L3080.0,1620.7 L3081.0,1617.9 L3082.0,1616.9 L3083.0,1619.7 L3084.0,1619.3 L3085.0,1617.0 L3086.0,1618.5 L3087.0,1618.5 L3088.0,1619.7 L3089.0,1620.9 L3090.0,1621.4 L3091.0,1624.6 L3092.0,1624.6 L3093.0,1624.6 L3094.0,1623.4 L3095.0,1624.8 L3096.0,1626.0 L3097.0,1626.9 L3098.0,1624.0 L3099.0,1623.2 L3100.0,1622.7 L3101.0,1622.0 L3102.0,1620.2 L3103.0,1619.3 L3104.0,1619.0 L3105.0,1619.5 L3106.0,1618.0 L3107.0,1618.6 L3108.0,1619.4 L3109.0,1618.3 L3110.0,1618.6 L3111.0,1620.7 L3112.0,1622.4 L3113.0,1621.2 L3114.0,1623.3 L3115.0,1623.5 L3116.0,1625.7 L3117.0,1626.1 L3118.0,1625.8 L3119.0,1627.7 L3120.0,1627.7 L3121.0,1627.7 L3122.0,1626.9 L3123.0,1628.1 L3124.0,1628.9 L3125.0,1625.5 L3126.0,1624.9 L3127.0,1627.2 L3128.0,1625.6 L3129.0,1628.9 L3130.0,1627.8 L3131.0,1627.0 L3132.0,1625.0 L3133.0,1626.2 L3134.0,1627.2 L3135.0,1629.4 L3136.0,1627.5 L3137.0,1626.7 L3138.0,1625.5 L3139.0,1625.3 L3140.0,1626.8 L3141.0,1625.6 L3142.0,1624.9 L3143.0,1622.3 L3144.0,1622.7 L3145.0,1619.4 L3146.0,1621.3 L3147.0,1622.1 L3148.0,1623.4 L3149.0,1624.0 L3150.0,1621.5 L3151.0,1624.0 L3152.0,1623.0 L3153.0,1620.0 L3154.0,1620.7 L3155.0,1620.2 L3156.0,1621.9 L3157.0,1621.2 L3158.0,1620.6 L3159.0,1619.6 L3160.0,1620.6 L3161.0,1619.8 L3162.0,1619.0 L3163.0,1619.6 L3164.0,1620.7 L3165.0,1623.3 L3166.0,1621.8 L3167.0,1620.2 L3168.0,1620.9 L3169.0,1620.4 L3170.0,1620.9 L3171.0,1621.1 L3172.0,1615.8 L3172.5,1616.6 L3173.0,1484.2 L3173.2,1485.2 L3173.7,1616.6 L3174.0,1617.1 L3175.0,1615.7 L3176.0,1617.4 L3176.4,1616.2 L3176.9,1500.0 L3177.1,1501.0 L3177.6,1616.2 L3178.0,1619.8 L3179.0,1616.1 L3180.0,1616.6 L3180.5,1615.7 L3181.0,1481.3 L3181.2,1482.3 L3181.7,1615.7 L3182.0,1619.1 L3183.0,1616.2 L3183.4,1615.4 L3183.9,1500.0 L3184.1,1501.0 L3184.6,1615.4 L3185.0,1614.3 L3186.0,1617.2 L3187.0,1617.0 L3188.0,1616.7 L3189.0,1614.8 L3190.0,1615.4 L3191.0,1611.9 L3192.0,1612.7 L3193.0,1614.9 L3194.0,1615.0 L3195.0,1614.2 L3196.0,1613.3 L3197.0,1611.3 L3198.0,1612.1 L3199.0,1613.7 L3200.0,1610.5 L3201.0,1611.3 L3202.0,1611.0 L3203.0,1611.4 L3204.0,1609.5 L3205.0,1610.2 L3206.0,1609.9 L3207.0,1607.1 L3208.0,1609.1 L3209.0,1607.9 L3210.0,1608.5 L3211.0,1612.7 L3212.0,1610.7 L3213.0,1608.2 L3214.0,1609.9 L3215.0,1608.7 L3216.0,1608.4 L3217.0,1610.4 L3218.0,1608.3 L3219.0,1607.5 L3220.0,1607.0 L3221.0,1606.1 L3222.0,1606.4 L3223.0,1605.7 L3224.0,1607.3 L3225.0,1606.4 L3226.0,1605.7 L3227.0,1608.7 L3228.0,1605.9 L3229.0,1603.8 L3230.0,1604.4 L3231.0,1605.1 L3232.0,1604.4 L3233.0,1604.1 L3234.0,1605.3 L3235.0,1606.5 L3236.0,1605.7 L3237.0,1605.0 L3238.0,1605.3 L3239.0,1604.3 L3240.0,1606.6 L3241.0,1605.2 L3242.0,1606.0 L3243.0,1602.8 L3244.0,1604.9 L3245.0,1605.5 L3246.0,1603.8 L3247.0,1602.8 L3248.0,1603.9 L3249.0,1601.6 L3250.0,1603.6 L3251.0,1603.6 L3252.0,1601.4 L3253.0,1599.4 L3254.0,1599.5 L3255.0,1601.1 L3256.0,1599.7 L3257.0,1602.0 L3258.0,1601.8 L3259.0,1599.2 L3260.0,1599.6 L3261.0,1600.0 L3262.0,1602.2 L3263.0,1599.5 L3264.0,1599.6 L3265.0,1599.4 L3266.0,1598.3 L3267.0,1596.5 L3268.0,1595.8 L3269.0,1594.4 L3270.0,1594.2 L3271.0,1594.0 L3271.4,1592.2 L3271.9,1518.0 L3272.1,1519.0 L3272.6,1592.2 L3273.0,1598.1 L3273.4,1591.3 L3273.9,1529.7 L3274.1,1530.7 L3274.6,1591.3 L3275.0,1596.0 L3276.0,1595.6 L3277.0,1593.5 L3277.4,1589.6 L3277.9,1518.3 L3278.1,1519.3 L3278.6,1589.6 L3279.0,1597.1 L3280.0,1595.0 L3281.0,1593.9 L3281.4,1587.9 L3281.9,1530.0 L3282.1,1531.0 L3282.6,1587.9 L3283.0,1593.1 L3284.0,1593.5 L3285.0,1592.8 L3286.0,1591.1 L3287.0,1592.0 L3288.0,1590.2 L3289.0,1593.8 L3290.0,1590.9 L3291.0,1592.4 L3292.0,1590.0 L3293.0,1587.9 L3294.0,1586.5 L3295.0,1587.4 L3296.0,1588.3 L3297.0,1589.9 L3298.0,1584.6 L3299.0,1587.7 L3300.0,1589.0 L3301.0,1588.5 L3302.0,1588.3 L3302.8,1586.0 L3303.3,1544.5 L3303.5,1545.5 L3304.0,1586.0 L3304.0,1589.0 L3305.0,1591.6 L3306.0,1593.3 L3307.0,1592.1 L3308.0,1592.3 L3309.0,1592.4 L3310.0,1592.8 L3311.0,1593.2 L3312.0,1592.9 L3313.0,1590.4 L3314.0,1589.8 L3315.0,1588.9 L3316.0,1587.6 L3317.0,1588.2 L3318.0,1590.6 L3319.0,1587.4 L3320.0,1586.9 L3321.0,1588.4 L3322.0,1588.2 L3323.0,1586.3 L3324.0,1586.3 L3325.0,1584.7 L3326.0,1582.1 L3327.0,1581.9 L3328.0,1579.6 L3329.0,1575.5 L3330.0,1572.5 L3331.0,1573.7 L3332.0,1572.1 L3333.0,1573.5 L3334.0,1576.6 L3335.0,1576.5 L3336.0,1579.1 L3337.0,1582.1 L3338.0,1582.2 L3339.0,1583.8 L3340.0,1582.6 L3341.0,1579.8 L3342.0,1578.8 L3343.0,1576.5 L3344.0,1576.1 L3345.0,1570.0 L3346.0,1567.9 L3347.0,1569.8 L3348.0,1568.2 L3349.0,1570.2 L3350.0,1573.2 L3351.0,1574.7 L3352.0,1575.3 L3353.0,1577.2 L3354.0,1577.4 L3355.0,1580.3 L3356.0,1579.0 L3357.0,1580.1 L3358.0,1581.4 L3359.0,1580.2 L3359.9,1577.8 L3360.4,1528.9 L3360.6,1529.9 L3361.1,1577.8 L3362.0,1582.2 L3363.0,1578.9 L3364.0,1578.4 L3365.0,1578.2 L3366.0,1577.1 L3367.0,1578.8 L3368.0,1577.7 L3369.0,1578.7 L3370.0,1578.2 L3371.0,1578.0 L3372.0,1578.0 L3373.0,1576.2 L3374.0,1576.2 L3375.0,1576.4 L3376.0,1577.3 L3377.0,1577.9 L3378.0,1575.0 L3379.0,1576.5 L3380.0,1575.0 L3381.0,1575.9 L3382.0,1576.1 L3383.0,1571.8 L3384.0,1574.6 L3385.0,1574.2 L3386.0,1575.3 L3387.0,1576.3 L3388.0,1574.0 L3389.0,1575.2 L3390.0,1574.4 L3391.0,1573.6 L3392.0,1574.6 L3393.0,1576.5 L3394.0,1574.0 L3395.0,1574.0 L3396.0,1573.9 L3397.0,1572.8 L3398.0,1573.2 L3399.0,1571.6 L3400.0,1571.8 L3401.0,1570.4 L3402.0,1573.0 L3403.0,1572.6 L3404.0,1572.3 L3405.0,1571.0 L3406.0,1569.7 L3406.6,1568.8 L3407.1,1547.0 L3407.3,1548.0 L3407.8,1568.8 L3408.0,1571.6 L3409.0,1571.0 L3410.0,1573.0 L3411.0,1571.9 L3412.0,1568.5 L3413.0,1569.4 L3414.0,1569.3 L3415.0,1567.0 L3416.0,1567.8 L3417.0,1565.3 L3418.0,1563.6 L3419.0,1566.7 L3420.0,1563.7 L3421.0,1565.3 L3422.0,1563.5 L3423.0,1562.6 L3424.0,1562.3 L3425.0,1562.8 L3426.0,1563.0 L3427.0,1564.3 L3428.0,1564.5 L3429.0,1562.9 L3430.0,1561.8 L3431.0,1563.3 L3432.0,1562.7 L3433.0,1562.0 L3433.4,1561.7 L3433.9,1515.0 L3434.1,1516.0 L3434.6,1561.7 L3435.0,1562.4 L3436.0,1560.5 L3437.0,1561.0 L3437.7,1562.6 L3438.2,1508.2 L3438.4,1509.2 L3438.9,1562.6 L3439.0,1563.3 L3440.0,1565.8 L3441.0,1567.7 L3442.0,1566.3 L3443.0,1564.9 L3444.0,1565.0 L3445.0,1563.9 L3446.0,1563.7 L3447.0,1564.8 L3448.0,1566.3 L3449.0,1565.4 L3450.0,1566.0 L3451.0,1564.6 L3452.0,1564.6 L3453.0,1563.9 L3454.0,1564.9 L3455.0,1562.8 L3456.0,1561.5 L3457.0,1563.3 L3458.0,1562.9 L3459.0,1562.1 L3460.0,1562.5 L3461.0,1564.7 L3462.0,1560.8 L3463.0,1558.1 L3464.0,1557.4 L3465.0,1558.8 L3466.0,1559.4 L3467.0,1560.5 L3468.0,1558.0 L3468.8,1557.1 L3469.3,1505.6 L3469.5,1506.6 L3470.0,1557.1 L3470.0,1559.9 L3471.0,1559.5 L3472.0,1556.5 L3473.0,1557.3 L3474.0,1557.7 L3475.0,1559.1 L3476.0,1559.8 L3477.0,1555.9 L3478.0,1555.3 L3479.0,1558.1 L3480.0,1558.0 L3481.0,1557.0 L3482.0,1556.1 L3483.0,1554.8 L3484.0,1555.9 L3485.0,1553.9 L3486.0,1550.6 L3487.0,1551.3 L3488.0,1548.7 L3489.0,1546.5 L3490.0,1545.2 L3490.1,1539.6 L3490.6,1537.5 L3490.8,1538.5 L3491.3,1539.6 L3492.0,1538.3 L3493.0,1539.0 L3494.0,1540.1 L3495.0,1540.9 L3496.0,1542.3 L3497.0,1543.8 L3498.0,1546.2 L3499.0,1548.5 L3500.0,1550.0 L3501.0,1550.9 L3502.0,1554.2 L3503.0,1554.7 L3504.0,1553.9 L3505.0,1550.8 L3506.0,1549.2 L3507.0,1552.0 L3508.0,1552.1 L3509.0,1551.2 L3510.0,1551.5 L3511.0,1552.4 L3512.0,1551.2 L3513.0,1547.2 L3514.0,1548.0 L3515.0,1549.4 L3516.0,1549.7 L3517.0,1548.0 L3518.0,1546.8 L3519.0,1545.2 L3520.0,1547.9 L3521.0,1548.0 L3522.0,1546.6 L3523.0,1545.6 L3524.0,1538.0 L3525.0,1532.1 L3526.0,1521.8 L3527.0,1518.0 L3528.0,1515.2" fill="none" stroke="#000" stroke-opacity="0.6" stroke-width="2.1" stroke-dasharray="7.7 3.3" stroke-linejoin="round"/>
<g fill="#ff0000"><circle cx="1205.4" cy="1321.4" r="4.1"/><circle cx="1228.0" cy="1619.1" r="4.1"/><circle cx="1226.2" cy="1643.0" r="4.1"/><circle cx="1419.8" cy="1571.1" r="4.1"/><circle cx="1410.7" cy="1637.7" r="4.1"/><circle cx="1485.0" cy="1627.2" r="4.1"/><circle cx="1485.0" cy="1634.2" r="4.1"/><circle cx="1557.6" cy="1581.3" r="4.1"/><circle cx="1555.8" cy="1587.6" r="4.1"/><circle cx="1561.1" cy="1688.2" r="4.1"/><circle cx="1569.1" cy="1696.3" r="4.1"/><circle cx="1569.8" cy="1713.8" r="4.1"/><circle cx="1564.6" cy="1727.8" r="4.1"/><circle cx="1562.8" cy="1742.9" r="4.1"/><circle cx="1562.1" cy="1756.9" r="4.1"/><circle cx="1587.4" cy="1771.0" r="4.1"/><circle cx="1589.1" cy="1714.5" r="4.1"/><circle cx="1588.1" cy="1726.1" r="4.1"/><circle cx="1590.9" cy="1729.6" r="4.1"/><circle cx="1592.6" cy="1738.4" r="4.1"/><circle cx="1593.7" cy="1743.6" r="4.1"/><circle cx="1594.4" cy="1750.6" r="4.1"/><circle cx="1596.1" cy="1757.6" r="4.1"/><circle cx="1597.2" cy="1764.7" r="4.1"/><circle cx="1597.2" cy="1773.4" r="4.1"/><circle cx="1676.8" cy="1740.1" r="4.1"/><circle cx="1678.5" cy="1747.1" r="4.1"/><circle cx="1676.8" cy="1762.9" r="4.1"/><circle cx="1680.3" cy="1769.9" r="4.1"/><circle cx="1684.9" cy="1801.5" r="4.1"/><circle cx="1683.8" cy="1813.7" r="4.1"/><circle cx="1688.4" cy="1739.4" r="4.1"/><circle cx="2297.4" cy="1666.3" r="4.1"/><circle cx="2297.4" cy="1674.4" r="4.1"/><circle cx="2297.4" cy="1682.5" r="4.1"/><circle cx="2297.4" cy="1690.7" r="4.1"/><circle cx="2297.4" cy="1698.8" r="4.1"/><circle cx="2297.4" cy="1706.9" r="4.1"/><circle cx="2297.4" cy="1715.0" r="4.1"/><circle cx="2300.0" cy="1736.8" r="4.1"/><circle cx="1688.0" cy="1739.1" r="4.1"/><circle cx="1680.0" cy="1746.0" r="4.1"/><circle cx="1680.0" cy="1764.3" r="4.1"/><circle cx="1681.1" cy="1771.2" r="4.1"/><circle cx="1685.7" cy="1801.0" r="4.1"/><circle cx="1684.6" cy="1813.7" r="4.1"/><circle cx="1725.9" cy="1809.1" r="4.1"/><circle cx="1731.7" cy="1807.9" r="4.1"/><circle cx="1736.2" cy="1813.7" r="4.1"/><circle cx="1739.7" cy="1825.2" r="4.1"/><circle cx="1730.5" cy="1828.6" r="4.1"/><circle cx="1735.1" cy="1832.0" r="4.1"/><circle cx="1730.5" cy="1838.9" r="4.1"/><circle cx="1730.5" cy="1844.7" r="4.1"/><circle cx="1714.4" cy="1886.0" r="4.1"/><circle cx="1719.0" cy="1897.5" r="4.1"/><circle cx="1718.6" cy="1904.4" r="4.1"/><circle cx="1755.8" cy="1842.4" r="4.1"/><circle cx="1755.8" cy="1850.4" r="4.1"/><circle cx="1754.6" cy="1859.6" r="4.1"/><circle cx="1773.0" cy="1797.6" r="4.1"/><circle cx="1774.1" cy="1802.2" r="4.1"/><circle cx="1787.9" cy="1782.7" r="4.1"/></g>
<path d="M360.0,225.8 L368.9,235.4 L377.9,257.6 L386.8,270.4 L395.7,288.0 L404.6,289.3 L413.6,296.9 L421.2,313.5 L430.2,330.1 L437.8,377.3 L446.2,393.1 L453.1,394.6 L461.5,395.1 L469.7,419.4 L476.1,447.4 L483.7,476.8 L491.4,494.6 L498.5,506.9 L504.9,522.2 L512.0,527.3 L518.7,571.2 L525.8,586.5 L532.2,610.7 L538.6,597.9 L544.9,618.4 L551.3,633.7 L557.7,638.8 L564.1,661.7 L570.2,683.7 L575.8,702.9 L582.4,700.8 L587.6,699.8 L593.2,715.6 L599.5,726.3 L604.6,728.4 L611.0,735.5 L616.1,752.6 L621.2,746.2 L627.1,734.7 L632.7,742.4 L637.8,759.5 L642.9,757.0 L648.0,759.7 L653.1,763.3 L658.2,750.1 L663.3,743.2 L667.7,727.9 L672.8,697.8 L677.9,687.6 L681.2,718.2 L686.3,774.3 L691.9,834.2 L696.5,872.5 L705.9,906.9 L710.5,906.9 L714.8,929.9 L719.4,921.0 L723.8,935.0 L732.4,925.3 L741.1,935.0 L749.5,948.5 L753.9,942.6 L757.7,941.4 L762.0,969.5 L769.7,957.6 L774.0,963.7 L777.3,962.7 L781.7,967.8 L785.0,1003.5 L789.3,986.1 L792.7,985.6 L796.5,1005.3 L800.1,1004.0 L803.9,994.3 L808.0,997.6 L814.8,1012.9 L818.7,1018.8 L822.0,1009.1 L825.8,1019.3 L829.4,1021.3 L832.5,990.0 L835.3,879.0 L839.6,838.2 L842.9,843.3 L848.0,935.1 L852.3,1010.4 L856.2,1000.9 L862.8,1018.8 L865.9,1015.5 L872.2,1056.3 L878.6,1057.6 L883.7,1053.0 L887.6,1057.0 L891.4,817.8 L893.9,723.9 L897.8,725.4 L900.8,817.8 L904.1,1036.6 L908.7,1038.4 L912.3,1041.7 L914.8,817.8 L918.2,730.3 L921.2,732.3 L923.8,817.8 L927.1,1080.0 L931.9,1096.9 L934.7,853.5 L937.8,764.2 L941.1,766.0 L945.0,1071.6 L948.3,858.6 L951.8,732.3 L955.2,733.6 L957.0,828.0 L959.7,1052.4 L962.8,1065.2 L965.0,1096.9 L970.2,1074.0 L972.7,1071.4 L976.0,1081.1 L981.6,1086.7 L985.5,1099.5 L988.0,1106.6 L993.1,1105.9 L996.9,1119.9 L1000.8,1131.4 L1004.6,1148.0 L1009.7,1141.6 L1014.8,1145.4 L1019.4,1144.1 L1022.4,1155.6 L1026.3,1168.4 L1030.1,1168.4 L1033.9,1170.9 L1037.8,1176.0 L1040.3,1188.8 L1044.1,1193.9 L1046.7,1187.5 L1050.5,1179.8 L1054.3,1192.6 L1058.2,1204.1 L1062.0,1209.2 L1067.1,1221.9 L1070.4,1211.2 L1073.0,1219.4 L1076.0,1206.6 L1078.6,1216.8 L1082.4,1191.8 L1084.9,1201.5 L1088.8,1224.5 L1091.3,1219.9 L1095.2,1232.1 L1099.0,1241.1 L1104.1,1232.7 L1107.1,1215.6 L1109.2,1215.6 L1113.0,1224.5 L1115.6,1244.9 L1119.9,1258.9 L1124.0,1227.0 L1127.6,1256.4 L1131.6,1241.1 L1134.7,1229.6 L1138.5,1227.0 L1142.3,1232.7 L1146.2,1236.0 L1148.7,1232.1 L1152.6,1245.4 L1155.9,1220.7 L1158.2,1241.8 L1161.5,1212.5 L1166.6,1266.6 L1170.4,1261.5 L1175.5,1246.2 L1179.3,1259.7 L1183.2,1261.5 L1185.7,1270.4 L1188.3,1265.3 L1192.1,1298.5 L1196.7,1266.6 L1201.0,1278.1 L1204.8,1245.4 L1208.7,1290.8 L1212.5,1289.5 L1217.6,1305.6 L1222.7,1298.5 L1226.5,1304.8 L1231.1,1283.2 L1235.5,1310.0 L1239.8,1184.2 L1244.4,1301.0 L1248.2,1316.3 L1252.8,1327.8 L1256.6,1175.5 L1260.2,1324.0 L1263.8,1319.9 L1270.2,1321.9 L1275.3,1337.2 L1277.9,1324.5 L1280.4,1343.6 L1284.2,1309.7 L1288.1,1333.4 L1293.2,1355.1 L1298.3,1351.3 L1304.6,1338.5 L1308.5,1335.2 L1313.6,1342.3 L1318.7,1352.6 L1322.5,1344.9 L1327.6,1370.4 L1331.4,1355.1 L1336.5,1343.6 L1339.1,1355.1 L1342.1,1332.7 L1346.7,1355.1 L1351.3,1341.1 L1355.7,1367.9 L1358.2,1360.2 L1362.0,1380.6 L1368.4,1366.6 L1372.2,1383.2 L1377.3,1387.0 L1383.7,1381.9 L1385.0,1384.4 L1386.3,1391.3 L1387.5,1396.4 L1388.8,1392.0 L1390.1,1399.7 L1391.4,1399.9 L1392.7,1399.5 L1393.9,1400.3 L1395.2,1398.6 L1396.5,1402.4 L1397.8,1401.0 L1399.1,1400.4 L1400.3,1390.2 L1401.6,1386.3 L1402.9,1383.7 L1404.2,1393.7 L1405.4,1391.7 L1406.7,1402.3 L1408.1,1400.6 L1409.6,1394.5 L1411.0,1391.3 L1412.7,1397.3 L1414.3,1410.0 L1415.6,1408.5 L1416.9,1404.4 L1418.2,1403.6 L1419.5,1413.3 L1420.7,1422.5 L1422.0,1429.6 L1423.3,1419.9 L1424.5,1412.9 L1425.8,1403.6 L1427.1,1406.3 L1428.3,1410.5 L1429.6,1411.2 L1431.3,1395.9 L1433.0,1394.6 L1434.4,1397.4 L1435.9,1404.4 L1437.3,1406.1 L1438.6,1402.4 L1439.8,1403.9 L1441.1,1397.2 L1442.4,1399.3 L1443.7,1403.9 L1445.0,1410.0 L1446.7,1405.1 L1448.3,1401.0 L1450.1,1443.1 L1451.4,1433.1 L1452.7,1442.5 L1453.9,1427.0 L1455.2,1426.5 L1456.5,1419.9 L1457.7,1405.2 L1459.0,1407.4 L1460.3,1408.9 L1461.5,1405.6 L1462.8,1409.9 L1464.1,1409.8 L1465.3,1405.2 L1466.6,1402.3 L1467.9,1415.6 L1469.2,1417.1 L1470.4,1427.7 L1471.7,1435.5 L1473.0,1426.7 L1474.3,1420.8 L1475.6,1412.5 L1476.8,1418.0 L1478.1,1429.1 L1480.7,1274.7 L1484.0,1422.7 L1485.4,1426.3 L1486.9,1435.7 L1488.3,1436.7 L1489.6,1437.0 L1490.8,1426.7 L1492.1,1429.1 L1494.2,1448.2 L1495.6,1443.1 L1497.1,1437.1 L1498.5,1431.6 L1499.8,1425.9 L1501.1,1431.3 L1502.3,1424.9 L1503.6,1428.3 L1504.9,1426.0 L1506.5,1439.9 L1508.0,1446.9 L1509.5,1440.5 L1511.1,1441.4 L1512.6,1435.5 L1513.8,1439.0 L1515.1,1434.4 L1516.3,1439.2 L1517.6,1438.0 L1518.9,1452.5 L1520.2,1455.9 L1521.5,1453.5 L1522.8,1440.1 L1524.0,1427.6 L1525.3,1428.8 L1526.6,1424.0 L1527.9,1422.6 L1529.1,1433.4 L1530.4,1431.6 L1533.5,1186.7 L1536.8,1441.8 L1538.1,1444.1 L1539.3,1456.9 L1540.6,1455.9 L1541.9,1450.7 L1543.2,1452.9 L1544.4,1455.4 L1545.7,1450.7 L1547.0,1454.6 L1548.3,1463.3 L1549.5,1456.5 L1550.8,1462.2 L1552.1,1456.8 L1553.3,1448.9 L1554.6,1440.6 L1555.9,1451.5 L1557.2,1457.5 L1558.4,1455.2 L1559.7,1461.3 L1561.0,1464.8 L1562.3,1465.0 L1563.5,1460.3 L1564.8,1462.8 L1566.1,1457.1 L1567.4,1453.6 L1568.6,1457.5 L1569.9,1462.2 L1571.2,1455.6 L1572.5,1460.3 L1573.7,1463.2 L1575.0,1458.4 L1576.3,1455.9 L1577.6,1457.5 L1578.8,1460.9 L1580.1,1469.2 L1581.4,1467.3 L1582.7,1464.8 L1584.0,1461.7 L1585.2,1462.9 L1586.5,1461.0 L1587.8,1456.3 L1589.0,1464.6 L1590.3,1467.2 L1591.6,1469.9 L1592.9,1466.9 L1594.2,1463.5 L1595.4,1472.6 L1596.7,1463.5 L1598.0,1469.2 L1599.3,1470.2 L1600.5,1472.5 L1601.8,1466.6 L1603.1,1472.4 L1604.4,1475.2 L1605.6,1478.5 L1606.9,1482.7 L1608.2,1477.0 L1609.5,1475.0 L1610.7,1467.0 L1612.0,1462.2 L1613.3,1470.0 L1614.5,1467.0 L1615.8,1470.4 L1617.1,1472.4 L1618.4,1474.6 L1619.7,1471.1 L1620.9,1464.4 L1622.2,1467.3 L1623.5,1469.2 L1624.8,1464.7 L1626.0,1473.2 L1627.3,1467.3 L1628.6,1479.0 L1629.8,1473.6 L1631.1,1485.0 L1632.4,1486.5 L1633.7,1482.0 L1635.0,1473.1 L1636.3,1479.3 L1637.6,1473.7 L1638.8,1475.9 L1640.1,1477.2 L1641.3,1470.1 L1642.6,1467.3 L1643.9,1467.1 L1645.2,1476.9 L1646.5,1475.1 L1647.8,1477.6 L1649.2,1478.5 L1650.6,1480.1 L1652.0,1478.0 L1654.9,1355.1 L1658.5,1485.2 L1660.0,1480.7 L1661.0,1481.5 L1662.0,1483.0 L1663.0,1480.9 L1664.0,1480.4 L1665.0,1479.5 L1666.0,1484.0 L1667.0,1482.3 L1668.0,1480.4 L1669.0,1481.4 L1670.0,1484.8 L1671.0,1484.4 L1672.0,1486.0 L1673.0,1487.2 L1674.0,1481.6 L1675.0,1476.9 L1676.0,1476.1 L1677.0,1479.4 L1678.0,1473.4 L1679.0,1470.1 L1680.0,1468.3 L1681.0,1469.6 L1682.0,1471.0 L1683.0,1473.2 L1684.0,1473.3 L1685.0,1475.5 L1686.0,1477.0 L1687.0,1481.0 L1688.0,1480.4 L1689.0,1486.1 L1690.0,1486.2 L1691.0,1486.2 L1692.0,1488.2 L1693.0,1484.5 L1694.0,1484.1 L1695.0,1487.4 L1696.0,1480.3 L1697.0,1481.9 L1698.0,1482.0 L1699.0,1481.2 L1700.0,1476.6 L1701.0,1477.0 L1702.0,1479.4 L1703.0,1484.5 L1704.0,1483.7 L1705.0,1484.7 L1706.0,1479.1 L1707.0,1481.5 L1708.0,1482.9 L1709.0,1485.8 L1710.0,1483.3 L1711.0,1485.9 L1712.0,1484.6 L1713.0,1483.9 L1714.0,1484.9 L1715.0,1483.5 L1716.0,1486.8 L1717.0,1489.3 L1718.0,1485.8 L1719.0,1490.1 L1720.0,1484.9 L1721.0,1483.8 L1722.0,1485.6 L1723.0,1487.9 L1724.0,1485.8 L1725.0,1489.1 L1726.0,1491.4 L1727.0,1492.7 L1728.0,1495.1 L1729.0,1494.7 L1730.0,1488.6 L1731.0,1490.4 L1732.0,1491.2 L1733.0,1491.1 L1734.0,1487.3 L1735.0,1485.2 L1736.0,1489.0 L1737.0,1485.5 L1738.0,1485.3 L1739.0,1490.3 L1740.0,1486.2 L1741.0,1486.4 L1742.0,1483.3 L1743.0,1488.1 L1744.0,1483.9 L1745.0,1486.4 L1746.0,1483.1 L1747.0,1481.9 L1748.0,1482.7 L1749.0,1485.7 L1750.0,1487.5 L1751.0,1482.8 L1752.0,1487.0 L1753.0,1484.5 L1754.0,1484.1 L1755.0,1482.3 L1756.0,1483.6 L1757.0,1482.5 L1758.0,1486.5 L1759.0,1483.2 L1760.0,1481.2 L1761.0,1487.4 L1762.0,1487.5 L1763.0,1490.2 L1764.0,1484.8 L1765.0,1486.8 L1766.0,1487.3 L1767.0,1490.9 L1768.0,1490.1 L1769.0,1490.9 L1770.0,1487.8 L1771.0,1488.0 L1772.0,1492.4 L1773.0,1492.4 L1774.0,1487.8 L1775.0,1491.5 L1776.0,1493.5 L1777.0,1496.6 L1778.0,1496.1 L1779.0,1494.6 L1780.0,1494.3 L1781.0,1496.6 L1782.0,1495.4 L1783.0,1494.7 L1783.1,1490.8 L1784.3,1363.0 L1785.1,1364.0 L1786.3,1490.8 L1787.0,1486.5 L1788.0,1489.2 L1789.0,1491.8 L1789.3,1488.8 L1790.1,1460.0 L1790.9,1461.0 L1791.7,1488.8 L1792.0,1490.1 L1793.0,1493.7 L1794.0,1490.2 L1795.0,1493.8 L1796.0,1485.2 L1797.0,1486.7 L1798.0,1483.9 L1799.0,1485.6 L1800.0,1480.3 L1801.0,1477.2 L1802.0,1477.0 L1803.0,1478.4 L1804.0,1475.7 L1805.0,1471.3 L1806.0,1475.5 L1807.0,1482.6 L1808.0,1484.3 L1809.0,1482.0 L1810.0,1481.2 L1811.0,1481.1 L1812.0,1489.9 L1813.0,1488.3 L1814.0,1488.2 L1815.0,1492.7 L1816.0,1490.0 L1817.0,1495.5 L1818.0,1493.5 L1819.0,1491.8 L1820.0,1493.2 L1821.0,1494.8 L1822.0,1499.8 L1823.0,1498.7 L1824.0,1499.7 L1825.0,1497.0 L1826.0,1499.4 L1827.0,1499.5 L1828.0,1497.6 L1829.0,1499.3 L1830.0,1498.5 L1831.0,1499.8 L1832.0,1494.6 L1833.0,1498.4 L1834.0,1503.9 L1835.0,1498.4 L1836.0,1501.2 L1837.0,1498.4 L1838.0,1498.7 L1839.0,1500.8 L1840.0,1498.3 L1841.0,1495.7 L1842.0,1493.9 L1843.0,1493.5 L1844.0,1493.0 L1845.0,1489.7 L1846.0,1488.0 L1847.0,1486.4 L1848.0,1485.5 L1849.0,1487.5 L1850.0,1487.9 L1851.0,1489.5 L1852.0,1489.6 L1853.0,1490.8 L1854.0,1492.4 L1855.0,1492.0 L1856.0,1491.5 L1857.0,1491.0 L1858.0,1489.8 L1858.6,1490.2 L1859.6,1425.0 L1860.4,1426.0 L1861.4,1490.2 L1862.0,1495.3 L1863.0,1493.9 L1864.0,1493.1 L1865.0,1495.5 L1866.0,1492.2 L1867.0,1493.9 L1868.0,1493.2 L1869.0,1499.3 L1870.0,1501.8 L1871.0,1496.7 L1872.0,1495.4 L1873.0,1500.2 L1874.0,1497.3 L1875.0,1498.0 L1876.0,1497.4 L1877.0,1499.2 L1878.0,1500.4 L1879.0,1497.7 L1880.0,1498.3 L1881.0,1502.0 L1882.0,1503.1 L1883.0,1500.6 L1884.0,1508.0 L1885.0,1504.5 L1886.0,1502.5 L1887.0,1499.4 L1888.0,1499.1 L1889.0,1506.1 L1890.0,1507.9 L1891.0,1505.9 L1892.0,1507.1 L1893.0,1503.6 L1894.0,1502.1 L1895.0,1504.8 L1896.0,1499.6 L1897.0,1500.2 L1898.0,1503.0 L1899.0,1497.1 L1900.0,1500.7 L1901.0,1499.2 L1902.0,1497.5 L1903.0,1501.4 L1904.0,1496.5 L1905.0,1496.4 L1906.0,1493.9 L1907.0,1494.8 L1908.0,1491.6 L1909.0,1491.7 L1910.0,1490.5 L1911.0,1490.1 L1912.0,1491.6 L1913.0,1493.1 L1914.0,1491.0 L1915.0,1490.8 L1916.0,1488.2 L1917.0,1490.7 L1918.0,1490.8 L1919.0,1489.3 L1920.0,1486.5 L1921.0,1492.6 L1922.0,1492.6 L1923.0,1488.5 L1924.0,1492.2 L1925.0,1492.7 L1926.0,1489.7 L1927.0,1492.0 L1928.0,1492.3 L1929.0,1492.0 L1930.0,1492.2 L1931.0,1492.0 L1932.0,1496.3 L1933.0,1494.4 L1934.0,1493.9 L1935.0,1496.6 L1936.0,1498.4 L1937.0,1501.7 L1938.0,1502.8 L1939.0,1503.6 L1940.0,1496.7 L1941.0,1497.3 L1942.0,1501.8 L1943.0,1501.4 L1944.0,1501.9 L1945.0,1496.6 L1946.0,1497.2 L1947.0,1497.9 L1948.0,1501.6 L1949.0,1498.8 L1950.0,1498.7 L1951.0,1501.2 L1952.0,1501.3 L1953.0,1500.0 L1954.0,1496.3 L1955.0,1499.5 L1956.0,1494.9 L1957.0,1497.8 L1958.0,1500.6 L1959.0,1500.0 L1960.0,1497.3 L1961.0,1500.1 L1962.0,1500.9 L1963.0,1498.8 L1964.0,1497.5 L1965.0,1496.2 L1966.0,1498.0 L1967.0,1494.9 L1968.0,1494.3 L1969.0,1493.1 L1970.0,1493.1 L1971.0,1491.4 L1972.0,1490.4 L1973.0,1492.3 L1974.0,1489.7 L1975.0,1485.7 L1976.0,1490.7 L1977.0,1486.4 L1978.0,1487.8 L1979.0,1490.6 L1980.0,1493.0 L1981.0,1489.8 L1982.0,1489.7 L1983.0,1496.7 L1984.0,1499.0 L1985.0,1503.0 L1986.0,1505.0 L1987.0,1504.1 L1988.0,1504.7 L1989.0,1502.6 L1990.0,1504.5 L1991.0,1506.1 L1992.0,1503.7 L1993.0,1505.3 L1994.0,1505.7 L1995.0,1510.1 L1996.0,1508.0 L1997.0,1509.6 L1998.0,1509.0 L1999.0,1510.1 L2000.0,1515.0 L2001.0,1510.2 L2002.0,1509.4 L2003.0,1508.6 L2004.0,1506.2 L2005.0,1509.7 L2006.0,1507.0 L2007.0,1509.0 L2008.0,1509.6 L2009.0,1507.2 L2010.0,1509.6 L2011.0,1509.4 L2012.0,1509.2 L2013.0,1515.2 L2014.0,1509.5 L2015.0,1508.9 L2016.0,1505.3 L2017.0,1503.7 L2018.0,1505.1 L2019.0,1501.4 L2020.0,1498.0 L2021.0,1496.1 L2022.0,1498.5 L2023.0,1497.9 L2024.0,1501.9 L2025.0,1504.8 L2026.0,1502.3 L2027.0,1503.2 L2028.0,1500.5 L2029.0,1501.1 L2030.0,1495.7 L2031.0,1493.4 L2032.0,1499.5 L2033.0,1499.2 L2034.0,1499.2 L2035.0,1496.8 L2036.0,1494.1 L2037.0,1492.7 L2038.0,1494.9 L2039.0,1486.5 L2040.0,1483.4 L2041.0,1479.7 L2042.0,1479.9 L2043.0,1476.9 L2044.0,1479.9 L2045.0,1475.8 L2046.0,1479.8 L2047.0,1480.2 L2048.0,1477.1 L2049.0,1483.1 L2050.0,1485.5 L2050.5,1485.0 L2051.5,1392.0 L2052.3,1393.0 L2053.3,1485.0 L2054.0,1481.2 L2055.0,1483.6 L2056.0,1487.0 L2057.0,1487.9 L2058.0,1485.0 L2059.0,1484.7 L2060.0,1483.8 L2061.0,1480.2 L2062.0,1482.3 L2063.0,1481.0 L2064.0,1482.2 L2065.0,1490.6 L2066.0,1487.0 L2067.0,1491.7 L2068.0,1496.7 L2069.0,1497.6 L2070.0,1498.2 L2071.0,1500.3 L2072.0,1503.8 L2073.0,1501.1 L2074.0,1503.0 L2075.0,1502.4 L2076.0,1501.3 L2077.0,1500.4 L2078.0,1501.5 L2079.0,1502.6 L2080.0,1501.3 L2081.0,1503.1 L2082.0,1500.4 L2083.0,1501.0 L2084.0,1501.9 L2085.0,1500.1 L2086.0,1502.4 L2087.0,1501.0 L2088.0,1497.3 L2089.0,1496.0 L2090.0,1500.3 L2091.0,1497.5 L2092.0,1497.8 L2093.0,1501.5 L2094.0,1499.6 L2095.0,1501.3 L2096.0,1507.7 L2097.0,1506.3 L2098.0,1510.3 L2099.0,1505.4 L2100.0,1507.8 L2101.0,1508.6 L2102.0,1508.2 L2103.0,1509.6 L2104.0,1507.6 L2105.0,1507.4 L2106.0,1511.1 L2107.0,1509.5 L2108.0,1508.5 L2109.0,1509.2 L2110.0,1507.7 L2111.0,1513.6 L2112.0,1513.7 L2113.0,1511.4 L2114.0,1509.0 L2115.0,1513.3 L2116.0,1509.9 L2117.0,1512.6 L2118.0,1510.1 L2119.0,1510.2 L2120.0,1514.4 L2121.0,1513.1 L2122.0,1508.2 L2123.0,1507.9 L2124.0,1507.6 L2125.0,1503.7 L2126.0,1507.4 L2127.0,1506.8 L2128.0,1506.9 L2129.0,1507.4 L2130.0,1510.6 L2131.0,1510.7 L2132.0,1510.4 L2133.0,1510.9 L2134.0,1510.7 L2135.0,1513.0 L2136.0,1517.5 L2137.0,1516.8 L2138.0,1511.6 L2139.0,1515.1 L2140.0,1515.2 L2141.0,1515.1 L2142.0,1509.3 L2143.0,1511.1 L2144.0,1507.4 L2145.0,1504.7 L2146.0,1505.5 L2147.0,1508.0 L2148.0,1506.2 L2149.0,1507.1 L2150.0,1505.2 L2151.0,1505.8 L2152.0,1505.0 L2153.0,1510.2 L2154.0,1507.9 L2155.0,1509.8 L2156.0,1508.0 L2157.0,1509.9 L2158.0,1512.2 L2159.0,1517.0 L2160.0,1513.6 L2161.0,1509.7 L2162.0,1517.1 L2163.0,1517.7 L2164.0,1517.2 L2165.0,1515.3 L2166.0,1511.6 L2167.0,1517.1 L2168.0,1514.4 L2169.0,1517.9 L2170.0,1513.2 L2171.0,1514.9 L2172.0,1516.0 L2173.0,1514.1 L2174.0,1511.4 L2175.0,1515.9 L2176.0,1512.9 L2177.0,1515.7 L2178.0,1515.0 L2179.0,1519.0 L2180.0,1515.9 L2181.0,1517.2 L2182.0,1517.4 L2183.0,1518.6 L2184.0,1511.0 L2185.0,1513.2 L2186.0,1514.4 L2187.0,1516.9 L2188.0,1516.0 L2189.0,1516.7 L2190.0,1512.6 L2191.0,1515.6 L2192.0,1514.5 L2193.0,1513.2 L2194.0,1516.9 L2195.0,1511.1 L2196.0,1515.0 L2197.0,1514.3 L2198.0,1517.3 L2199.0,1514.2 L2200.0,1515.6 L2201.0,1518.1 L2202.0,1517.8 L2203.0,1515.3 L2204.0,1512.6 L2205.0,1515.3 L2206.0,1521.7 L2207.0,1516.9 L2208.0,1516.8 L2209.0,1516.8 L2210.0,1517.4 L2211.0,1519.1 L2212.0,1516.6 L2213.0,1521.4 L2214.0,1515.9 L2215.0,1519.2 L2216.0,1518.3 L2217.0,1516.8 L2218.0,1515.5 L2219.0,1517.4 L2220.0,1516.0 L2221.0,1515.8 L2222.0,1515.7 L2223.0,1511.6 L2224.0,1512.5 L2225.0,1512.5 L2226.0,1515.7 L2227.0,1515.3 L2228.0,1518.9 L2229.0,1516.8 L2230.0,1518.2 L2231.0,1518.7 L2232.0,1515.3 L2233.0,1510.7 L2234.0,1511.2 L2235.0,1514.7 L2236.0,1514.4 L2237.0,1513.0 L2238.0,1511.5 L2239.0,1514.2 L2240.0,1509.2 L2241.0,1512.2 L2242.0,1514.2 L2243.0,1509.9 L2244.0,1510.3 L2245.0,1514.7 L2246.0,1515.1 L2247.0,1507.7 L2248.0,1511.7 L2249.0,1510.0 L2250.0,1510.2 L2251.0,1508.8 L2252.0,1510.0 L2253.0,1506.5 L2254.0,1512.9 L2254.9,1509.8 L2255.5,1422.8 L2256.3,1423.8 L2256.9,1509.8 L2257.0,1514.3 L2258.0,1517.3 L2259.0,1512.8 L2260.0,1514.2 L2261.0,1512.4 L2261.0,1517.1 L2261.6,1441.8 L2262.4,1442.8 L2263.0,1512.4 L2263.0,1516.3 L2264.0,1517.9 L2265.0,1514.5 L2265.9,1514.7 L2266.9,1177.8 L2267.7,1178.8 L2268.7,1514.7 L2269.0,1521.2 L2270.0,1518.7 L2271.0,1520.6 L2272.0,1522.0 L2273.0,1520.1 L2274.0,1516.5 L2275.0,1516.5 L2276.0,1515.3 L2277.0,1517.2 L2278.0,1517.6 L2279.0,1520.2 L2280.0,1515.5 L2281.0,1516.7 L2282.0,1512.0 L2283.0,1515.9 L2284.0,1519.8 L2285.0,1516.5 L2286.0,1518.6 L2287.0,1517.6 L2288.0,1518.4 L2289.0,1517.1 L2290.0,1518.7 L2291.0,1513.2 L2291.8,1511.7 L2292.4,1415.4 L2293.2,1416.4 L2293.8,1511.7 L2294.0,1518.3 L2295.0,1516.4 L2296.0,1515.2 L2297.0,1512.2 L2297.4,1508.7 L2298.0,1440.4 L2298.0,1509.6 L2298.8,1441.4 L2299.4,1508.7 L2300.0,1511.3 L2301.0,1512.1 L2302.0,1508.0 L2303.0,1509.3 L2304.0,1510.2 L2305.0,1509.5 L2306.0,1512.9 L2307.0,1509.1 L2308.0,1508.7 L2309.0,1510.0 L2310.0,1512.2 L2311.0,1512.2 L2312.0,1514.1 L2313.0,1512.6 L2314.0,1512.3 L2315.0,1508.5 L2316.0,1513.4 L2317.0,1511.1 L2318.0,1511.1 L2319.0,1511.3 L2320.0,1510.4 L2321.0,1512.2 L2322.0,1506.9 L2323.0,1508.7 L2324.0,1510.9 L2325.0,1514.0 L2326.0,1507.1 L2327.0,1505.6 L2328.0,1505.3 L2329.0,1507.0 L2330.0,1505.1 L2331.0,1504.8 L2332.0,1502.4 L2333.0,1499.7 L2334.0,1500.1 L2335.0,1494.5 L2336.0,1496.5 L2337.0,1502.3 L2338.0,1497.3 L2339.0,1498.3 L2340.0,1498.5 L2341.0,1497.9 L2342.0,1494.2 L2343.0,1498.3 L2344.0,1498.2 L2345.0,1501.8 L2346.0,1501.9 L2347.0,1503.6 L2348.0,1502.6 L2349.0,1503.0 L2350.0,1504.7 L2351.0,1504.1 L2352.0,1511.0 L2353.0,1510.1 L2354.0,1514.0 L2355.0,1512.9 L2356.0,1513.0 L2357.0,1512.6 L2358.0,1513.4 L2359.0,1514.4 L2360.0,1512.2 L2361.0,1510.8 L2362.0,1515.5 L2363.0,1510.5 L2364.0,1505.3 L2365.0,1510.5 L2366.0,1509.5 L2367.0,1513.1 L2368.0,1512.3 L2369.0,1511.2 L2370.0,1510.7 L2371.0,1510.3 L2372.0,1513.2 L2373.0,1512.1 L2374.0,1511.8 L2375.0,1511.5 L2376.0,1510.1 L2377.0,1504.8 L2378.0,1501.2 L2379.0,1500.0 L2380.0,1502.2 L2381.0,1505.0 L2382.0,1500.2 L2383.0,1501.7 L2384.0,1502.6 L2385.0,1500.4 L2386.0,1496.0 L2387.0,1496.6 L2388.0,1493.4 L2389.0,1496.1 L2390.0,1497.6 L2391.0,1499.7 L2392.0,1499.3 L2393.0,1501.3 L2394.0,1501.6 L2395.0,1503.1 L2396.0,1498.4 L2397.0,1505.9 L2398.0,1505.1 L2399.0,1501.3 L2400.0,1504.9 L2401.0,1503.3 L2402.0,1508.4 L2403.0,1508.5 L2404.0,1512.4 L2405.0,1507.8 L2406.0,1508.6 L2407.0,1511.3 L2408.0,1511.3 L2409.0,1512.7 L2410.0,1513.4 L2411.0,1513.5 L2412.0,1514.2 L2413.0,1513.9 L2414.0,1512.5 L2415.0,1513.4 L2416.0,1514.8 L2417.0,1514.2 L2418.0,1510.3 L2419.0,1508.4 L2420.0,1508.7 L2421.0,1511.2 L2422.0,1510.4 L2423.0,1507.0 L2424.0,1508.5 L2425.0,1506.7 L2426.0,1509.7 L2427.0,1511.4 L2428.0,1510.2 L2429.0,1512.8 L2430.0,1508.2 L2431.0,1507.3 L2432.0,1504.9 L2433.0,1505.2 L2434.0,1506.0 L2435.0,1501.7 L2436.0,1503.3 L2437.0,1498.8 L2438.0,1500.3 L2439.0,1501.8 L2440.0,1503.9 L2440.4,1502.7 L2440.9,1204.2 L2441.1,1205.2 L2441.6,1502.7 L2442.0,1507.2 L2443.0,1510.6 L2444.0,1506.6 L2445.0,1505.9 L2446.0,1507.6 L2447.0,1509.2 L2448.0,1507.9 L2449.0,1510.6 L2450.0,1510.2 L2451.0,1505.5 L2452.0,1506.0 L2453.0,1507.7 L2454.0,1507.4 L2455.0,1507.0 L2456.0,1503.0 L2457.0,1508.7 L2458.0,1504.9 L2459.0,1504.8 L2460.0,1507.1 L2461.0,1509.3 L2462.0,1508.3 L2463.0,1512.8 L2464.0,1509.5 L2465.0,1510.1 L2466.0,1508.6 L2467.0,1513.5 L2468.0,1509.5 L2469.0,1509.9 L2470.0,1513.7 L2471.0,1509.9 L2472.0,1511.6 L2473.0,1508.9 L2474.0,1513.1 L2475.0,1511.2 L2476.0,1515.4 L2477.0,1516.5 L2478.0,1514.2 L2479.0,1512.7 L2480.0,1514.1 L2481.0,1513.6 L2482.0,1514.4 L2483.0,1516.2 L2484.0,1509.3 L2485.0,1514.8 L2486.0,1518.2 L2487.0,1515.8 L2488.0,1518.3 L2489.0,1514.8 L2490.0,1514.1 L2491.0,1507.6 L2492.0,1511.8 L2493.0,1508.5 L2494.0,1511.5 L2495.0,1508.6 L2496.0,1507.9 L2497.0,1507.1 L2498.0,1504.9 L2499.0,1508.6 L2500.0,1506.3 L2501.0,1502.9 L2502.0,1505.9 L2503.0,1506.6 L2504.0,1499.2 L2505.0,1501.1 L2506.0,1505.9 L2507.0,1502.6 L2508.0,1505.1 L2509.0,1504.5 L2510.0,1507.3 L2511.0,1500.9 L2512.0,1506.1 L2513.0,1505.0 L2514.0,1502.5 L2515.0,1504.8 L2516.0,1502.3 L2517.0,1497.6 L2518.0,1503.4 L2519.0,1499.2 L2520.0,1498.5 L2521.0,1501.4 L2522.0,1499.2 L2523.0,1497.0 L2524.0,1501.1 L2525.0,1501.4 L2526.0,1498.7 L2527.0,1502.7 L2528.0,1505.5 L2529.0,1507.2 L2530.0,1500.0 L2531.0,1497.5 L2532.0,1500.0 L2533.0,1499.0 L2534.0,1498.4 L2534.8,1497.2 L2535.3,1428.0 L2535.5,1429.0 L2536.0,1497.2 L2536.0,1500.2 L2537.0,1492.3 L2538.0,1499.5 L2538.7,1496.5 L2539.2,1273.1 L2539.4,1274.1 L2539.9,1496.5 L2540.0,1498.6 L2541.0,1498.7 L2542.0,1496.0 L2542.0,1500.0 L2542.5,797.0 L2542.7,798.0 L2543.2,1496.0 L2544.0,1495.0 L2545.0,1496.0 L2546.0,1497.4 L2546.6,1495.2 L2547.1,1343.5 L2547.3,1344.5 L2547.8,1495.2 L2548.0,1498.0 L2548.4,1494.9 L2548.9,1454.0 L2549.1,1455.0 L2549.6,1494.9 L2550.0,1495.8 L2551.0,1495.9 L2552.0,1491.4 L2553.0,1494.6 L2554.0,1496.3 L2555.0,1493.1 L2556.0,1497.2 L2557.0,1488.9 L2558.0,1491.0 L2559.0,1492.9 L2560.0,1492.1 L2561.0,1495.3 L2562.0,1495.8 L2563.0,1495.3 L2564.0,1496.4 L2565.0,1492.2 L2566.0,1489.1 L2567.0,1494.0 L2568.0,1495.9 L2569.0,1493.7 L2570.0,1498.4 L2571.0,1499.1 L2572.0,1500.4 L2573.0,1500.8 L2574.0,1503.0 L2575.0,1502.5 L2576.0,1500.4 L2577.0,1502.6 L2578.0,1500.2 L2579.0,1499.0 L2580.0,1498.8 L2581.0,1500.0 L2582.0,1498.2 L2583.0,1497.5 L2584.0,1496.9 L2585.0,1497.9 L2586.0,1497.3 L2587.0,1494.9 L2588.0,1494.7 L2589.0,1495.1 L2590.0,1493.0 L2591.0,1489.8 L2592.0,1491.0 L2593.0,1494.3 L2594.0,1490.6 L2595.0,1487.0 L2596.0,1490.2 L2597.0,1488.4 L2598.0,1488.9 L2599.0,1487.1 L2600.0,1486.7 L2601.0,1488.4 L2602.0,1488.2 L2603.0,1485.8 L2604.0,1484.6 L2605.0,1488.4 L2606.0,1487.8 L2607.0,1490.3 L2608.0,1487.0 L2609.0,1491.3 L2610.0,1490.1 L2611.0,1489.1 L2612.0,1488.5 L2613.0,1496.1 L2614.0,1498.9 L2615.0,1501.5 L2616.0,1498.1 L2617.0,1498.4 L2618.0,1501.4 L2619.0,1495.1 L2619.1,1496.2 L2619.6,1456.7 L2619.8,1457.7 L2620.3,1496.2 L2621.0,1500.8 L2622.0,1499.4 L2623.0,1494.2 L2624.0,1497.8 L2624.6,1495.3 L2625.1,1440.4 L2625.3,1441.4 L2625.8,1495.3 L2626.0,1495.3 L2627.0,1497.8 L2628.0,1496.2 L2629.0,1494.6 L2630.0,1497.9 L2631.0,1494.1 L2632.0,1496.7 L2633.0,1501.5 L2634.0,1497.5 L2635.0,1497.1 L2636.0,1498.1 L2637.0,1496.5 L2638.0,1499.2 L2639.0,1497.9 L2640.0,1493.8 L2641.0,1497.7 L2642.0,1496.7 L2643.0,1492.4 L2644.0,1498.6 L2645.0,1496.0 L2646.0,1494.8 L2647.0,1495.6 L2648.0,1494.5 L2649.0,1492.0 L2650.0,1494.4 L2651.0,1487.4 L2652.0,1488.9 L2653.0,1491.4 L2654.0,1489.6 L2655.0,1491.9 L2656.0,1490.3 L2657.0,1491.2 L2658.0,1487.2 L2659.0,1486.3 L2660.0,1486.7 L2661.0,1487.4 L2662.0,1489.9 L2663.0,1489.7 L2664.0,1487.4 L2665.0,1486.0 L2666.0,1488.1 L2667.0,1487.4 L2668.0,1487.6 L2669.0,1495.4 L2670.0,1490.9 L2671.0,1495.0 L2672.0,1492.8 L2673.0,1496.8 L2674.0,1494.1 L2675.0,1499.0 L2676.0,1498.8 L2677.0,1499.0 L2678.0,1500.5 L2679.0,1499.1 L2680.0,1497.3 L2681.0,1497.0 L2682.0,1494.6 L2683.0,1497.0 L2684.0,1499.5 L2685.0,1495.7 L2686.0,1496.6 L2687.0,1499.4 L2688.0,1503.1 L2689.0,1497.7 L2690.0,1495.7 L2691.0,1494.6 L2692.0,1494.3 L2693.0,1490.2 L2694.0,1492.2 L2695.0,1490.6 L2696.0,1493.8 L2697.0,1490.0 L2698.0,1490.6 L2699.0,1491.9 L2700.0,1491.0 L2701.0,1492.6 L2702.0,1492.1 L2703.0,1489.1 L2704.0,1488.7 L2705.0,1487.0 L2706.0,1484.5 L2707.0,1490.3 L2708.0,1489.8 L2709.0,1489.4 L2710.0,1489.7 L2711.0,1491.5 L2712.0,1491.9 L2713.0,1491.4 L2714.0,1491.5 L2715.0,1488.3 L2716.0,1489.0 L2717.0,1488.7 L2718.0,1489.9 L2719.0,1490.0 L2720.0,1489.5 L2721.0,1491.3 L2722.0,1491.9 L2723.0,1486.7 L2724.0,1487.5 L2725.0,1489.3 L2726.0,1487.0 L2727.0,1483.0 L2728.0,1483.1 L2729.0,1482.1 L2730.0,1479.8 L2730.7,1477.0 L2731.2,1473.0 L2731.4,1474.0 L2731.9,1477.0 L2732.0,1476.5 L2733.0,1478.3 L2734.0,1476.7 L2735.0,1477.9 L2736.0,1477.2 L2737.0,1475.9 L2738.0,1479.1 L2739.0,1479.4 L2740.0,1477.0 L2741.0,1478.5 L2742.0,1480.6 L2743.0,1481.0 L2743.1,1477.4 L2743.6,1473.0 L2743.8,1474.0 L2744.3,1477.4 L2745.0,1477.7 L2746.0,1479.5 L2747.0,1482.0 L2748.0,1481.2 L2749.0,1479.2 L2750.0,1482.4 L2751.0,1482.1 L2752.0,1481.6 L2753.0,1479.5 L2754.0,1478.8 L2755.0,1481.5 L2756.0,1478.4 L2757.0,1479.8 L2758.0,1480.2 L2759.0,1481.7 L2760.0,1476.8 L2761.0,1478.2 L2762.0,1480.5 L2763.0,1479.3 L2764.0,1478.9 L2765.0,1477.9 L2766.0,1480.8 L2767.0,1479.3 L2768.0,1477.3 L2769.0,1478.8 L2770.0,1478.2 L2771.0,1476.8 L2772.0,1474.3 L2773.0,1475.3 L2774.0,1475.1 L2775.0,1475.1 L2776.0,1475.3 L2777.0,1475.5 L2778.0,1473.4 L2779.0,1471.1 L2780.0,1473.8 L2781.0,1471.5 L2782.0,1469.2 L2783.0,1469.9 L2784.0,1474.9 L2785.0,1472.8 L2786.0,1471.3 L2787.0,1475.3 L2788.0,1469.4 L2789.0,1474.2 L2790.0,1474.7 L2791.0,1477.0 L2792.0,1480.5 L2793.0,1480.6 L2794.0,1476.9 L2795.0,1475.6 L2796.0,1477.4 L2797.0,1475.2 L2798.0,1479.3 L2799.0,1476.6 L2800.0,1475.7 L2801.0,1474.4 L2802.0,1474.6 L2803.0,1472.4 L2804.0,1469.9 L2805.0,1475.1 L2806.0,1473.3 L2807.0,1474.8 L2808.0,1472.4 L2809.0,1475.5 L2810.0,1476.3 L2811.0,1475.1 L2812.0,1475.0 L2813.0,1479.0 L2814.0,1476.3 L2815.0,1481.4 L2816.0,1475.7 L2817.0,1476.6 L2818.0,1475.2 L2819.0,1475.1 L2820.0,1476.2 L2821.0,1476.2 L2822.0,1476.3 L2823.0,1472.6 L2824.0,1475.3 L2825.0,1473.4 L2826.0,1476.6 L2827.0,1475.0 L2828.0,1477.5 L2829.0,1474.1 L2830.0,1472.7 L2831.0,1474.6 L2832.0,1473.3 L2833.0,1472.4 L2834.0,1473.6 L2835.0,1471.1 L2836.0,1475.0 L2837.0,1473.2 L2838.0,1473.9 L2839.0,1472.8 L2840.0,1474.2 L2841.0,1473.6 L2842.0,1475.3 L2843.0,1473.3 L2844.0,1475.2 L2845.0,1470.2 L2846.0,1473.2 L2847.0,1472.8 L2848.0,1472.9 L2849.0,1475.2 L2850.0,1471.5 L2851.0,1473.7 L2852.0,1475.8 L2853.0,1477.3 L2854.0,1474.7 L2855.0,1472.8 L2855.3,1469.4 L2855.8,1145.6 L2856.0,1146.6 L2856.5,1469.4 L2857.0,1469.9 L2858.0,1471.3 L2859.0,1467.9 L2860.0,1473.9 L2861.0,1475.6 L2861.5,1467.4 L2862.0,1085.3 L2862.2,1086.3 L2862.7,1467.4 L2863.0,1467.4 L2864.0,1470.3 L2864.3,1466.5 L2864.8,1086.7 L2865.0,1087.7 L2865.5,1466.5 L2866.0,1467.3 L2866.3,1465.8 L2866.8,1133.0 L2867.0,1134.0 L2867.5,1465.8 L2868.0,1469.0 L2869.0,1467.1 L2869.9,1464.6 L2870.4,1447.0 L2870.6,1448.0 L2871.1,1464.6 L2872.0,1468.7 L2873.0,1467.5 L2874.0,1470.0 L2875.0,1468.8 L2876.0,1465.2 L2877.0,1464.7 L2878.0,1466.3 L2879.0,1467.7 L2880.0,1464.4 L2881.0,1461.7 L2882.0,1462.2 L2883.0,1464.5 L2884.0,1459.6 L2885.0,1456.0 L2886.0,1455.5 L2887.0,1454.2 L2888.0,1448.5 L2889.0,1447.3 L2890.0,1447.1 L2891.0,1447.3 L2892.0,1449.6 L2893.0,1452.8 L2894.0,1452.6 L2895.0,1454.1 L2896.0,1455.4 L2897.0,1455.2 L2898.0,1457.5 L2898.0,1458.5 L2898.5,1402.0 L2898.7,1403.0 L2899.2,1457.5 L2899.8,1458.4 L2900.3,1401.8 L2900.5,1402.8 L2901.0,1458.4 L2901.0,1458.4 L2902.0,1457.7 L2903.0,1459.1 L2904.0,1461.1 L2905.0,1462.6 L2906.0,1463.4 L2907.0,1460.2 L2908.0,1465.4 L2909.0,1464.5 L2910.0,1463.2 L2911.0,1461.7 L2912.0,1464.7 L2913.0,1462.7 L2914.0,1460.9 L2915.0,1461.8 L2916.0,1461.8 L2917.0,1461.1 L2918.0,1462.2 L2919.0,1462.3 L2920.0,1460.9 L2921.0,1461.0 L2922.0,1462.9 L2923.0,1460.5 L2924.0,1462.8 L2925.0,1460.0 L2926.0,1461.4 L2927.0,1459.9 L2928.0,1456.9 L2928.0,1457.1 L2928.5,1436.0 L2928.7,1437.0 L2929.2,1457.1 L2930.0,1458.3 L2931.0,1458.4 L2932.0,1460.9 L2932.4,1456.1 L2932.9,1430.0 L2933.1,1431.0 L2933.6,1456.1 L2934.0,1459.3 L2935.0,1458.0 L2936.0,1456.4 L2936.1,1455.3 L2936.6,1447.0 L2936.8,1448.0 L2937.3,1455.3 L2938.0,1458.9 L2939.0,1456.1 L2940.0,1455.8 L2941.0,1454.5 L2942.0,1455.3 L2943.0,1453.9 L2944.0,1454.1 L2945.0,1456.0 L2946.0,1455.3 L2947.0,1454.7 L2948.0,1453.9 L2949.0,1452.9 L2950.0,1454.3 L2951.0,1454.7 L2952.0,1455.1 L2953.0,1454.0 L2954.0,1452.7 L2955.0,1452.1 L2956.0,1452.5 L2957.0,1455.8 L2958.0,1456.5 L2959.0,1454.5 L2960.0,1453.2 L2961.0,1454.2 L2962.0,1456.2 L2963.0,1458.0 L2964.0,1455.5 L2965.0,1455.9 L2966.0,1454.0 L2967.0,1450.9 L2968.0,1453.8 L2969.0,1451.1 L2970.0,1452.2 L2971.0,1451.9 L2972.0,1452.2 L2973.0,1451.4 L2974.0,1451.1 L2975.0,1452.1 L2976.0,1449.5 L2977.0,1450.4 L2978.0,1446.4 L2979.0,1445.6 L2980.0,1446.3 L2981.0,1445.3 L2982.0,1445.6 L2983.0,1447.7 L2984.0,1444.8 L2985.0,1443.7 L2986.0,1444.9 L2987.0,1443.4 L2988.0,1441.7 L2989.0,1441.0 L2990.0,1440.2 L2991.0,1438.2 L2992.0,1438.7 L2993.0,1441.3 L2994.0,1444.3 L2995.0,1444.7 L2996.0,1443.9 L2997.0,1443.8 L2998.0,1445.0 L2999.0,1445.7 L2999.4,1445.2 L2999.9,1430.0 L3000.1,1431.0 L3000.6,1445.2 L3001.0,1443.6 L3002.0,1445.8 L3003.0,1445.2 L3004.0,1445.3 L3005.0,1441.9 L3006.0,1443.9 L3007.0,1444.2 L3008.0,1442.0 L3008.4,1441.6 L3008.9,1433.0 L3009.1,1434.0 L3009.6,1441.6 L3010.0,1443.4 L3011.0,1442.8 L3012.0,1443.8 L3013.0,1443.1 L3014.0,1443.1 L3015.0,1446.3 L3016.0,1444.2 L3017.0,1448.3 L3018.0,1447.4 L3019.0,1444.6 L3020.0,1445.5 L3021.0,1446.8 L3022.0,1448.9 L3023.0,1445.1 L3024.0,1447.2 L3025.0,1445.6 L3026.0,1447.4 L3027.0,1446.4 L3028.0,1445.7 L3029.0,1441.9 L3030.0,1444.5 L3031.0,1443.7 L3032.0,1443.0 L3033.0,1442.0 L3034.0,1442.3 L3035.0,1442.1 L3036.0,1440.5 L3037.0,1440.9 L3038.0,1442.7 L3039.0,1441.4 L3040.0,1439.1 L3041.0,1437.1 L3042.0,1441.0 L3042.6,1436.3 L3043.1,1060.3 L3043.3,1061.3 L3043.8,1436.3 L3044.0,1437.7 L3045.0,1436.7 L3045.4,1434.9 L3045.9,1130.0 L3046.1,1131.0 L3046.6,1434.9 L3047.0,1438.0 L3048.0,1435.5 L3048.3,1433.4 L3048.8,1097.3 L3049.0,1098.3 L3049.5,1433.4 L3050.0,1434.3 L3051.0,1435.0 L3052.0,1433.9 L3052.3,1431.4 L3052.8,1080.2 L3053.0,1081.2 L3053.5,1431.4 L3054.0,1435.0 L3055.0,1434.2 L3056.0,1430.6 L3057.0,1427.5 L3058.0,1431.0 L3059.0,1430.2 L3060.0,1430.8 L3061.0,1430.7 L3062.0,1429.9 L3063.0,1429.8 L3064.0,1429.3 L3065.0,1428.3 L3066.0,1427.1 L3067.0,1426.5 L3068.0,1427.1 L3069.0,1429.0 L3070.0,1427.1 L3071.0,1424.6 L3072.0,1424.4 L3073.0,1423.1 L3074.0,1424.0 L3075.0,1422.4 L3076.0,1421.8 L3077.0,1421.5 L3078.0,1419.6 L3079.0,1420.1 L3080.0,1420.7 L3081.0,1417.9 L3082.0,1416.9 L3083.0,1419.7 L3084.0,1419.3 L3085.0,1417.0 L3086.0,1418.5 L3087.0,1418.5 L3088.0,1419.7 L3089.0,1420.9 L3090.0,1421.4 L3091.0,1424.6 L3092.0,1424.6 L3093.0,1424.6 L3094.0,1423.4 L3095.0,1424.8 L3096.0,1426.0 L3097.0,1426.9 L3098.0,1424.0 L3099.0,1423.2 L3100.0,1422.7 L3101.0,1422.0 L3102.0,1420.2 L3103.0,1419.3 L3104.0,1419.0 L3105.0,1419.5 L3106.0,1418.0 L3107.0,1418.6 L3108.0,1419.4 L3109.0,1418.3 L3110.0,1418.6 L3111.0,1420.7 L3112.0,1422.4 L3113.0,1421.2 L3114.0,1423.3 L3115.0,1423.5 L3116.0,1425.7 L3117.0,1426.1 L3118.0,1425.8 L3119.0,1427.7 L3120.0,1427.7 L3121.0,1427.7 L3122.0,1426.9 L3123.0,1428.1 L3124.0,1428.9 L3125.0,1425.5 L3126.0,1424.9 L3127.0,1427.2 L3128.0,1425.6 L3129.0,1428.9 L3130.0,1427.8 L3131.0,1427.0 L3132.0,1425.0 L3133.0,1426.2 L3134.0,1427.2 L3135.0,1429.4 L3136.0,1427.5 L3137.0,1426.7 L3138.0,1425.5 L3139.0,1425.3 L3140.0,1426.8 L3141.0,1425.6 L3142.0,1424.9 L3143.0,1422.3 L3144.0,1422.7 L3145.0,1419.4 L3146.0,1421.3 L3147.0,1422.1 L3148.0,1423.4 L3149.0,1424.0 L3150.0,1421.5 L3151.0,1424.0 L3152.0,1423.0 L3153.0,1420.0 L3154.0,1420.7 L3155.0,1420.2 L3156.0,1421.9 L3157.0,1421.2 L3158.0,1420.6 L3159.0,1419.6 L3160.0,1420.6 L3161.0,1419.8 L3162.0,1419.0 L3163.0,1419.6 L3164.0,1420.7 L3165.0,1423.3 L3166.0,1421.8 L3167.0,1420.2 L3168.0,1420.9 L3169.0,1420.4 L3170.0,1420.9 L3171.0,1421.1 L3172.0,1415.8 L3172.5,1416.6 L3173.0,1284.2 L3173.2,1285.2 L3173.7,1416.6 L3174.0,1417.1 L3175.0,1415.7 L3176.0,1417.4 L3176.4,1416.2 L3176.9,1300.0 L3177.1,1301.0 L3177.6,1416.2 L3178.0,1419.8 L3179.0,1416.1 L3180.0,1416.6 L3180.5,1415.7 L3181.0,1281.3 L3181.2,1282.3 L3181.7,1415.7 L3182.0,1419.1 L3183.0,1416.2 L3183.4,1415.4 L3183.9,1300.0 L3184.1,1301.0 L3184.6,1415.4 L3185.0,1414.3 L3186.0,1417.2 L3187.0,1417.0 L3188.0,1416.7 L3189.0,1414.8 L3190.0,1415.4 L3191.0,1411.9 L3192.0,1412.7 L3193.0,1414.9 L3194.0,1415.0 L3195.0,1414.2 L3196.0,1413.3 L3197.0,1411.3 L3198.0,1412.1 L3199.0,1413.7 L3200.0,1410.5 L3201.0,1411.3 L3202.0,1411.0 L3203.0,1411.4 L3204.0,1409.5 L3205.0,1410.2 L3206.0,1409.9 L3207.0,1407.1 L3208.0,1409.1 L3209.0,1407.9 L3210.0,1408.5 L3211.0,1412.7 L3212.0,1410.7 L3213.0,1408.2 L3214.0,1409.9 L3215.0,1408.7 L3216.0,1408.4 L3217.0,1410.4 L3218.0,1408.3 L3219.0,1407.5 L3220.0,1407.0 L3221.0,1406.1 L3222.0,1406.4 L3223.0,1405.7 L3224.0,1407.3 L3225.0,1406.4 L3226.0,1405.7 L3227.0,1408.7 L3228.0,1405.9 L3229.0,1403.8 L3230.0,1404.4 L3231.0,1405.1 L3232.0,1404.4 L3233.0,1404.1 L3234.0,1405.3 L3235.0,1406.5 L3236.0,1405.7 L3237.0,1405.0 L3238.0,1405.3 L3239.0,1404.3 L3240.0,1406.6 L3241.0,1405.2 L3242.0,1406.0 L3243.0,1402.8 L3244.0,1404.9 L3245.0,1405.5 L3246.0,1403.8 L3247.0,1402.8 L3248.0,1403.9 L3249.0,1401.6 L3250.0,1403.6 L3251.0,1403.6 L3252.0,1401.4 L3253.0,1399.4 L3254.0,1399.5 L3255.0,1401.1 L3256.0,1399.7 L3257.0,1402.0 L3258.0,1401.8 L3259.0,1399.2 L3260.0,1399.6 L3261.0,1400.0 L3262.0,1402.2 L3263.0,1399.5 L3264.0,1399.6 L3265.0,1399.4 L3266.0,1398.3 L3267.0,1396.5 L3268.0,1395.8 L3269.0,1394.4 L3270.0,1394.2 L3271.0,1394.0 L3271.4,1392.2 L3271.9,1318.0 L3272.1,1319.0 L3272.6,1392.2 L3273.0,1398.1 L3273.4,1391.3 L3273.9,1329.7 L3274.1,1330.7 L3274.6,1391.3 L3275.0,1396.0 L3276.0,1395.6 L3277.0,1393.5 L3277.4,1389.6 L3277.9,1318.3 L3278.1,1319.3 L3278.6,1389.6 L3279.0,1397.1 L3280.0,1395.0 L3281.0,1393.9 L3281.4,1387.9 L3281.9,1330.0 L3282.1,1331.0 L3282.6,1387.9 L3283.0,1393.1 L3284.0,1393.5 L3285.0,1392.8 L3286.0,1391.1 L3287.0,1392.0 L3288.0,1390.2 L3289.0,1393.8 L3290.0,1390.9 L3291.0,1392.4 L3292.0,1390.0 L3293.0,1387.9 L3294.0,1386.5 L3295.0,1387.4 L3296.0,1388.3 L3297.0,1389.9 L3298.0,1384.6 L3299.0,1387.7 L3300.0,1389.0 L3301.0,1388.5 L3302.0,1388.3 L3302.8,1386.0 L3303.3,1344.5 L3303.5,1345.5 L3304.0,1386.0 L3304.0,1389.0 L3305.0,1391.6 L3306.0,1393.3 L3307.0,1392.1 L3308.0,1392.3 L3309.0,1392.4 L3310.0,1392.8 L3311.0,1393.2 L3312.0,1392.9 L3313.0,1390.4 L3314.0,1389.8 L3315.0,1388.9 L3316.0,1387.6 L3317.0,1388.2 L3318.0,1390.6 L3319.0,1387.4 L3320.0,1386.9 L3321.0,1388.4 L3322.0,1388.2 L3323.0,1386.3 L3324.0,1386.3 L3325.0,1384.7 L3326.0,1382.1 L3327.0,1381.9 L3328.0,1379.6 L3329.0,1375.5 L3330.0,1372.5 L3331.0,1373.7 L3332.0,1372.1 L3333.0,1373.5 L3334.0,1376.6 L3335.0,1376.5 L3336.0,1379.1 L3337.0,1382.1 L3338.0,1382.2 L3339.0,1383.8 L3340.0,1382.6 L3341.0,1379.8 L3342.0,1378.8 L3343.0,1376.5 L3344.0,1376.1 L3345.0,1370.0 L3346.0,1367.9 L3347.0,1369.8 L3348.0,1368.2 L3349.0,1370.2 L3350.0,1373.2 L3351.0,1374.7 L3352.0,1375.3 L3353.0,1377.2 L3354.0,1377.4 L3355.0,1380.3 L3356.0,1379.0 L3357.0,1380.1 L3358.0,1381.4 L3359.0,1380.2 L3359.9,1377.8 L3360.4,1328.9 L3360.6,1329.9 L3361.1,1377.8 L3362.0,1382.2 L3363.0,1378.9 L3364.0,1378.4 L3365.0,1378.2 L3366.0,1377.1 L3367.0,1378.8 L3368.0,1377.7 L3369.0,1378.7 L3370.0,1378.2 L3371.0,1378.0 L3372.0,1378.0 L3373.0,1376.2 L3374.0,1376.2 L3375.0,1376.4 L3376.0,1377.3 L3377.0,1377.9 L3378.0,1375.0 L3379.0,1376.5 L3380.0,1375.0 L3381.0,1375.9 L3382.0,1376.1 L3383.0,1371.8 L3384.0,1374.6 L3385.0,1374.2 L3386.0,1375.3 L3387.0,1376.3 L3388.0,1374.0 L3389.0,1375.2 L3390.0,1374.4 L3391.0,1373.6 L3392.0,1374.6 L3393.0,1376.5 L3394.0,1374.0 L3395.0,1374.0 L3396.0,1373.9 L3397.0,1372.8 L3398.0,1373.2 L3399.0,1371.6 L3400.0,1371.8 L3401.0,1370.4 L3402.0,1373.0 L3403.0,1372.6 L3404.0,1372.3 L3405.0,1371.0 L3406.0,1369.7 L3406.6,1368.8 L3407.1,1347.0 L3407.3,1348.0 L3407.8,1368.8 L3408.0,1371.6 L3409.0,1371.0 L3410.0,1373.0 L3411.0,1371.9 L3412.0,1368.5 L3413.0,1369.4 L3414.0,1369.3 L3415.0,1367.0 L3416.0,1367.8 L3417.0,1365.3 L3418.0,1363.6 L3419.0,1366.7 L3420.0,1363.7 L3421.0,1365.3 L3422.0,1363.5 L3423.0,1362.6 L3424.0,1362.3 L3425.0,1362.8 L3426.0,1363.0 L3427.0,1364.3 L3428.0,1364.5 L3429.0,1362.9 L3430.0,1361.8 L3431.0,1363.3 L3432.0,1362.7 L3433.0,1362.0 L3433.4,1361.7 L3433.9,1315.0 L3434.1,1316.0 L3434.6,1361.7 L3435.0,1362.4 L3436.0,1360.5 L3437.0,1361.0 L3437.7,1362.6 L3438.2,1308.2 L3438.4,1309.2 L3438.9,1362.6 L3439.0,1363.3 L3440.0,1365.8 L3441.0,1367.7 L3442.0,1366.3 L3443.0,1364.9 L3444.0,1365.0 L3445.0,1363.9 L3446.0,1363.7 L3447.0,1364.8 L3448.0,1366.3 L3449.0,1365.4 L3450.0,1366.0 L3451.0,1364.6 L3452.0,1364.6 L3453.0,1363.9 L3454.0,1364.9 L3455.0,1362.8 L3456.0,1361.5 L3457.0,1363.3 L3458.0,1362.9 L3459.0,1362.1 L3460.0,1362.5 L3461.0,1364.7 L3462.0,1360.8 L3463.0,1358.1 L3464.0,1357.4 L3465.0,1358.8 L3466.0,1359.4 L3467.0,1360.5 L3468.0,1358.0 L3468.8,1357.1 L3469.3,1305.6 L3469.5,1306.6 L3470.0,1357.1 L3470.0,1359.9 L3471.0,1359.5 L3472.0,1356.5 L3473.0,1357.3 L3474.0,1357.7 L3475.0,1359.1 L3476.0,1359.8 L3477.0,1355.9 L3478.0,1355.3 L3479.0,1358.1 L3480.0,1358.0 L3481.0,1357.0 L3482.0,1356.1 L3483.0,1354.8 L3484.0,1355.9 L3485.0,1353.9 L3486.0,1350.6 L3487.0,1351.3 L3488.0,1348.7 L3489.0,1346.5 L3490.0,1345.2 L3490.1,1339.6 L3490.6,1337.5 L3490.8,1338.5 L3491.3,1339.6 L3492.0,1338.3 L3493.0,1339.0 L3494.0,1340.1 L3495.0,1340.9 L3496.0,1342.3 L3497.0,1343.8 L3498.0,1346.2 L3499.0,1348.5 L3500.0,1350.0 L3501.0,1350.9 L3502.0,1354.2 L3503.0,1354.7 L3504.0,1353.9 L3505.0,1350.8 L3506.0,1349.2 L3507.0,1352.0 L3508.0,1352.1 L3509.0,1351.2 L3510.0,1351.5 L3511.0,1352.4 L3512.0,1351.2 L3513.0,1347.2 L3514.0,1348.0 L3515.0,1349.4 L3516.0,1349.7 L3517.0,1348.0 L3518.0,1346.8 L3519.0,1345.2 L3520.0,1347.9 L3521.0,1348.0 L3522.0,1346.6 L3523.0,1345.6 L3524.0,1338.0 L3525.0,1332.1 L3526.0,1321.8 L3527.0,1318.0 L3528.0,1315.2" fill="none" stroke="#000" stroke-width="2.1" stroke-linejoin="round"/>
</g>
<g><line x1="446.24" y1="1992" x2="446.24" y2="288" stroke="#b0b0b0" stroke-width="1.45" stroke-dasharray="1.45 2.4"/><line x1="519.04" y1="1992" x2="519.04" y2="288" stroke="#b0b0b0" stroke-width="1.45" stroke-dasharray="1.45 2.4"/><line x1="582.11" y1="1992" x2="582.11" y2="288" stroke="#b0b0b0" stroke-width="1.45" stroke-dasharray="1.45 2.4"/><line x1="637.74" y1="1992" x2="637.74" y2="288" stroke="#b0b0b0" stroke-width="1.45" stroke-dasharray="1.45 2.4"/><line x1="1014.87" y1="1992" x2="1014.87" y2="288" stroke="#b0b0b0" stroke-width="1.45" stroke-dasharray="1.45 2.4"/><line x1="1206.37" y1="1992" x2="1206.37" y2="288" stroke="#b0b0b0" stroke-width="1.45" stroke-dasharray="1.45 2.4"/><line x1="1342.24" y1="1992" x2="1342.24" y2="288" stroke="#b0b0b0" stroke-width="1.45" stroke-dasharray="1.45 2.4"/><line x1="1447.63" y1="1992" x2="1447.63" y2="288" stroke="#b0b0b0" stroke-width="1.45" stroke-dasharray="1.45 2.4"/><line x1="1533.74" y1="1992" x2="1533.74" y2="288" stroke="#b0b0b0" stroke-width="1.45" stroke-dasharray="1.45 2.4"/><line x1="1606.54" y1="1992" x2="1606.54" y2="288" stroke="#b0b0b0" stroke-width="1.45" stroke-dasharray="1.45 2.4"/><line x1="1669.61" y1="1992" x2="1669.61" y2="288" stroke="#b0b0b0" stroke-width="1.45" stroke-dasharray="1.45 2.4"/><line x1="1725.24" y1="1992" x2="1725.24" y2="288" stroke="#b0b0b0" stroke-width="1.45" stroke-dasharray="1.45 2.4"/><line x1="2102.37" y1="1992" x2="2102.37" y2="288" stroke="#b0b0b0" stroke-width="1.45" stroke-dasharray="1.45 2.4"/><line x1="2293.87" y1="1992" x2="2293.87" y2="288" stroke="#b0b0b0" stroke-width="1.45" stroke-dasharray="1.45 2.4"/><line x1="2429.74" y1="1992" x2="2429.74" y2="288" stroke="#b0b0b0" stroke-width="1.45" stroke-dasharray="1.45 2.4"/><line x1="2535.13" y1="1992" x2="2535.13" y2="288" stroke="#b0b0b0" stroke-width="1.45" stroke-dasharray="1.45 2.4"/><line x1="2621.24" y1="1992" x2="2621.24" y2="288" stroke="#b0b0b0" stroke-width="1.45" stroke-dasharray="1.45 2.4"/><line x1="2694.04" y1="1992" x2="2694.04" y2="288" stroke="#b0b0b0" stroke-width="1.45" stroke-dasharray="1.45 2.4"/><line x1="2757.11" y1="1992" x2="2757.11" y2="288" stroke="#b0b0b0" stroke-width="1.45" stroke-dasharray="1.45 2.4"/><line x1="2812.74" y1="1992" x2="2812.74" y2="288" stroke="#b0b0b0" stroke-width="1.45" stroke-dasharray="1.45 2.4"/><line x1="3189.87" y1="1992" x2="3189.87" y2="288" stroke="#b0b0b0" stroke-width="1.45" stroke-dasharray="1.45 2.4"/><line x1="3381.37" y1="1992" x2="3381.37" y2="288" stroke="#b0b0b0" stroke-width="1.45" stroke-dasharray="1.45 2.4"/><line x1="3517.24" y1="1992" x2="3517.24" y2="288" stroke="#b0b0b0" stroke-width="1.45" stroke-dasharray="1.45 2.4"/></g>
<g><line x1="687.50" y1="1992" x2="687.50" y2="288" stroke="#000" stroke-width="2.9" stroke-dasharray="2.6 4.7"/><line x1="1775.00" y1="1992" x2="1775.00" y2="288" stroke="#000" stroke-width="2.9" stroke-dasharray="2.6 4.7"/><line x1="2862.50" y1="1992" x2="2862.50" y2="288" stroke="#000" stroke-width="2.9" stroke-dasharray="2.6 4.7"/><line x1="360" y1="540.30" x2="3528" y2="540.30" stroke="#000" stroke-width="2.9" stroke-dasharray="2.6 4.7"/><line x1="360" y1="940.30" x2="3528" y2="940.30" stroke="#000" stroke-width="2.9" stroke-dasharray="2.6 4.7"/><line x1="360" y1="1340.30" x2="3528" y2="1340.30" stroke="#000" stroke-width="2.9" stroke-dasharray="2.6 4.7"/><line x1="360" y1="1740.30" x2="3528" y2="1740.30" stroke="#000" stroke-width="2.9" stroke-dasharray="2.6 4.7"/></g>
<rect x="360" y="288" width="3168" height="1704" fill="none" stroke="#808080" stroke-width="2.1"/>
<g><line x1="687.50" y1="1992" x2="687.50" y2="2002" stroke="#000" stroke-width="2.1"/><line x1="1775.00" y1="1992" x2="1775.00" y2="2002" stroke="#000" stroke-width="2.1"/><line x1="2862.50" y1="1992" x2="2862.50" y2="2002" stroke="#000" stroke-width="2.1"/><line x1="360.13" y1="1992" x2="360.13" y2="1998" stroke="#000" stroke-width="1.7"/><line x1="446.24" y1="1992" x2="446.24" y2="1998" stroke="#000" stroke-width="1.7"/><line x1="519.04" y1="1992" x2="519.04" y2="1998" stroke="#000" stroke-width="1.7"/><line x1="582.11" y1="1992" x2="582.11" y2="1998" stroke="#000" stroke-width="1.7"/><line x1="637.74" y1="1992" x2="637.74" y2="1998" stroke="#000" stroke-width="1.7"/><line x1="1014.87" y1="1992" x2="1014.87" y2="1998" stroke="#000" stroke-width="1.7"/><line x1="1206.37" y1="1992" x2="1206.37" y2="1998" stroke="#000" stroke-width="1.7"/><line x1="1342.24" y1="1992" x2="1342.24" y2="1998" stroke="#000" stroke-width="1.7"/><line x1="1447.63" y1="1992" x2="1447.63" y2="1998" stroke="#000" stroke-width="1.7"/><line x1="1533.74" y1="1992" x2="1533.74" y2="1998" stroke="#000" stroke-width="1.7"/><line x1="1606.54" y1="1992" x2="1606.54" y2="1998" stroke="#000" stroke-width="1.7"/><line x1="1669.61" y1="1992" x2="1669.61" y2="1998" stroke="#000" stroke-width="1.7"/><line x1="1725.24" y1="1992" x2="1725.24" y2="1998" stroke="#000" stroke-width="1.7"/><line x1="2102.37" y1="1992" x2="2102.37" y2="1998" stroke="#000" stroke-width="1.7"/><line x1="2293.87" y1="1992" x2="2293.87" y2="1998" stroke="#000" stroke-width="1.7"/><line x1="2429.74" y1="1992" x2="2429.74" y2="1998" stroke="#000" stroke-width="1.7"/><line x1="2535.13" y1="1992" x2="2535.13" y2="1998" stroke="#000" stroke-width="1.7"/><line x1="2621.24" y1="1992" x2="2621.24" y2="1998" stroke="#000" stroke-width="1.7"/><line x1="2694.04" y1="1992" x2="2694.04" y2="1998" stroke="#000" stroke-width="1.7"/><line x1="2757.11" y1="1992" x2="2757.11" y2="1998" stroke="#000" stroke-width="1.7"/><line x1="2812.74" y1="1992" x2="2812.74" y2="1998" stroke="#000" stroke-width="1.7"/><line x1="3189.87" y1="1992" x2="3189.87" y2="1998" stroke="#000" stroke-width="1.7"/><line x1="3381.37" y1="1992" x2="3381.37" y2="1998" stroke="#000" stroke-width="1.7"/><line x1="3517.24" y1="1992" x2="3517.24" y2="1998" stroke="#000" stroke-width="1.7"/><line x1="350" y1="540.30" x2="360" y2="540.30" stroke="#000" stroke-width="2.1"/><line x1="350" y1="940.30" x2="360" y2="940.30" stroke="#000" stroke-width="2.1"/><line x1="350" y1="1340.30" x2="360" y2="1340.30" stroke="#000" stroke-width="2.1"/><line x1="350" y1="1740.30" x2="360" y2="1740.30" stroke="#000" stroke-width="2.1"/></g>
<text x="691.6" y="145" font-size="89.5" textLength="2502.6" lengthAdjust="spacingAndGlyphs">H1:PEM-EY ACC ISCTEY TRANS X - Composite Estimated Ambient</text>
<text x="667.77" y="237.3" font-size="89.5" textLength="2553.06" lengthAdjust="spacingAndGlyphs">(Coupling factors chosen based on loudest injection at each frequency)</text>
<text x="652.05" y="2060.9" font-size="71.2" textLength="73.74" lengthAdjust="spacingAndGlyphs">10</text>
<text x="1719.85" y="2060.9" font-size="71.2" textLength="112.79" lengthAdjust="spacingAndGlyphs">100</text>
<text x="2788.84" y="2060.9" font-size="71.2" textLength="150.81" lengthAdjust="spacingAndGlyphs">1000</text>
<text x="1713.82" y="2140" font-size="72" textLength="461.03" lengthAdjust="spacingAndGlyphs">Frequency [Hz]</text>
<text x="3106.57" y="2150.8" font-size="53.3" textLength="422.87" lengthAdjust="spacingAndGlyphs">Bin width: 0.100 Hz</text>
<text x="361.3" y="2332.5" font-size="52.5" textLength="1950.14" lengthAdjust="spacingAndGlyphs">Ambient estimates are made by multiplying coupling factors by injection-free sensor levels.</text>
<text x="182.94" y="567.0" font-size="71.2" textLength="73.85" lengthAdjust="spacingAndGlyphs">10</text>
<text x="182.94" y="967.0" font-size="71.2" textLength="73.85" lengthAdjust="spacingAndGlyphs">10</text>
<text x="182.94" y="1367.0" font-size="71.2" textLength="73.85" lengthAdjust="spacingAndGlyphs">10</text>
<text x="190.96" y="1767.0" font-size="71.2" textLength="73.63" lengthAdjust="spacingAndGlyphs">10</text>
<text x="258.0" y="548.0999999999999" font-size="52.3" textLength="28.37" lengthAdjust="spacingAndGlyphs">−</text>
<text x="258.0" y="948.0999999999999" font-size="52.3" textLength="28.37" lengthAdjust="spacingAndGlyphs">−</text>
<text x="258.0" y="1348.1" font-size="52.3" textLength="28.37" lengthAdjust="spacingAndGlyphs">−</text>
<text x="266.11" y="1748.1" font-size="52.3" textLength="28.25" lengthAdjust="spacingAndGlyphs">−</text>
<text x="287.97" y="541.8" font-size="52.3" textLength="53.03" lengthAdjust="spacingAndGlyphs">15</text>
<text x="288.35" y="941.8" font-size="52.3" textLength="53.25" lengthAdjust="spacingAndGlyphs">17</text>
<text x="288.39" y="1341.8" font-size="52.3" textLength="52.65" lengthAdjust="spacingAndGlyphs">19</text>
<text x="294.6" y="1741.8" font-size="52.3" textLength="46.44" lengthAdjust="spacingAndGlyphs">21</text>
<text transform="rotate(-90)" x="-1509.62" y="113" font-size="72" textLength="738.51" lengthAdjust="spacingAndGlyphs">DARM ASD [m/sqrt(Hz)]</text>
<rect x="2174.5" y="288" width="1353.5" height="309.4" fill="#fff" fill-opacity="0.5" stroke="#808080" stroke-opacity="0.5" stroke-width="2.6"/>
<rect x="2201" y="320.1" width="37" height="16.69999999999999" fill="#000"/>
<rect x="2201" y="393" width="37" height="16.69999999999999" fill="#808080"/>
<rect x="2193" y="456.1" width="53" height="37.799999999999955" fill="#ff0000"/>
<rect x="2193" y="530.1" width="53" height="37.89999999999998" fill="#0000ff"/>
<text x="2282.63" y="344.4" font-size="53" textLength="419.27" lengthAdjust="spacingAndGlyphs">DARM background</text>
<text x="2284.23" y="418.5" font-size="53" textLength="674.34" lengthAdjust="spacingAndGlyphs">GWINC, 125 W, No Squeezing</text>
<text x="2282.71" y="492.6" font-size="53" textLength="1225.71" lengthAdjust="spacingAndGlyphs">Measured Value (Signal seen in both sensor and DARM)</text>
<text x="2282.94" y="566.7" font-size="53" textLength="1080.78" lengthAdjust="spacingAndGlyphs">Upper Limit (Signal seen in sensor but not DARM)</text>
</svg></body></html>
